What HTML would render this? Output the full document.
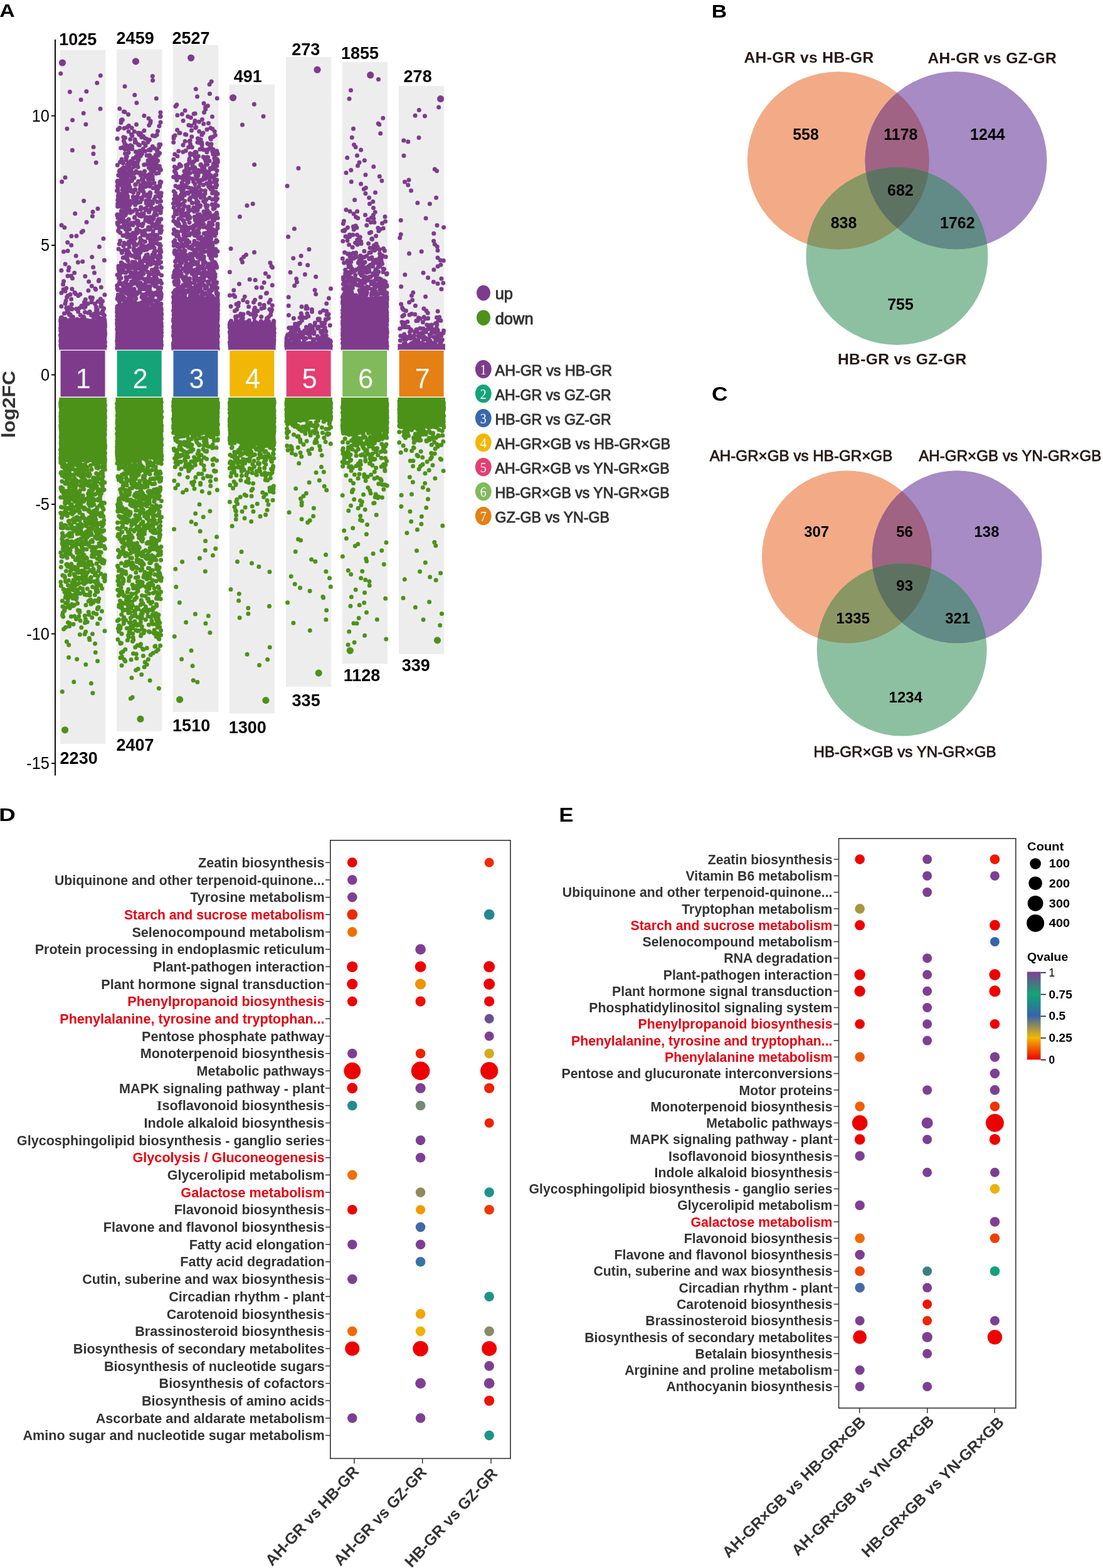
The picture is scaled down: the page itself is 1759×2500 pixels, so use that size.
<!DOCTYPE html>
<html><head><meta charset="utf-8"><title>figure</title>
<style>
html,body{margin:0;padding:0;background:#fff;}
svg{display:block;}
text{font-family:"Liberation Sans", Arial, sans-serif;}
</style></head><body>
<svg width="1759" height="2500" viewBox="0 0 1759 2500">
<rect width="1759" height="2500" fill="#fff"/>
<rect x="95.9" y="79.8" width="72.3" height="1106.2" fill="#EDEDED"/>
<rect x="186.0" y="78.5" width="72.3" height="1087.1" fill="#EDEDED"/>
<rect x="275.8" y="71.8" width="72.3" height="1063.4" fill="#EDEDED"/>
<rect x="365.7" y="134.6" width="72.3" height="1002.9" fill="#EDEDED"/>
<rect x="456.0" y="90.9" width="72.3" height="1004.1" fill="#EDEDED"/>
<rect x="545.6" y="98.9" width="72.3" height="959.5" fill="#EDEDED"/>
<rect x="636.0" y="136.9" width="72.3" height="905.9" fill="#EDEDED"/>
<rect x="94.3" y="508.3" width="75.5" height="50.2" fill="#7E3B8C"/>
<rect x="184.4" y="488.3" width="75.5" height="70.2" fill="#7E3B8C"/>
<rect x="274.2" y="473.3" width="75.5" height="85.2" fill="#7E3B8C"/>
<rect x="364.1" y="513.3" width="75.5" height="45.2" fill="#7E3B8C"/>
<rect x="454.4" y="544.3" width="75.5" height="14.2" fill="#7E3B8C"/>
<rect x="544.0" y="473.3" width="75.5" height="85.2" fill="#7E3B8C"/>
<rect x="634.4" y="548.3" width="75.5" height="10.2" fill="#7E3B8C"/>
<rect x="94.3" y="633.8" width="75.5" height="103.1" fill="#4C9219"/>
<rect x="184.4" y="633.8" width="75.5" height="98.1" fill="#4C9219"/>
<rect x="274.2" y="633.8" width="75.5" height="58.1" fill="#4C9219"/>
<rect x="364.1" y="633.8" width="75.5" height="71.1" fill="#4C9219"/>
<rect x="454.4" y="633.8" width="75.5" height="35.1" fill="#4C9219"/>
<rect x="544.0" y="633.8" width="75.5" height="55.1" fill="#4C9219"/>
<rect x="634.4" y="633.8" width="75.5" height="47.1" fill="#4C9219"/>
<path d="M96.9 548.8h0M166.8 552.7h0M97.1 538.0h0M167.5 530.9h0M96.5 534.6h0M167.5 551.8h0M97.0 515.0h0M167.5 545.1h0M97.3 508.9h0M166.9 536.5h0M97.7 554.0h0M166.6 541.8h0M96.7 550.4h0M167.2 515.5h0M96.7 527.2h0M166.8 537.7h0M97.2 553.2h0M167.5 546.0h0M97.3 534.9h0M167.2 527.0h0M97.0 541.3h0M166.6 521.4h0M96.8 527.6h0M167.0 512.5h0M97.4 541.9h0M166.4 550.4h0M97.0 518.4h0M167.4 531.9h0M96.5 522.9h0M166.7 527.6h0M97.6 540.6h0M166.8 526.6h0M97.2 533.5h0M166.6 509.1h0M97.1 523.1h0M167.5 521.2h0M97.3 506.6h0M166.6 542.1h0M97.0 522.9h0M167.6 533.2h0M96.7 550.4h0M167.5 517.9h0M96.7 543.9h0M167.1 512.7h0M96.6 533.8h0M166.9 512.1h0M97.5 513.1h0M167.3 535.5h0M96.9 512.1h0M166.5 548.8h0M109.0 510.9h0M113.1 509.4h0M138.4 510.7h0M96.8 509.8h0M122.8 508.9h0M164.3 508.2h0M133.2 508.6h0M144.6 512.0h0M160.5 507.6h0M158.7 507.5h0M124.4 509.9h0M103.9 508.5h0M100.9 511.9h0M111.3 511.3h0M120.7 512.0h0M96.5 511.4h0M103.7 510.1h0M98.3 507.1h0M140.2 511.4h0M114.4 510.2h0M122.4 511.6h0M156.9 506.3h0M129.6 509.4h0M102.6 511.7h0M120.9 510.7h0M155.4 511.3h0M98.1 506.6h0M134.1 511.4h0M135.1 512.1h0M134.0 506.4h0M157.9 508.1h0M115.1 510.1h0M151.4 504.2h0M151.9 505.0h0M112.4 503.1h0M166.5 502.9h0M153.8 503.0h0M149.1 505.4h0M133.3 504.9h0M98.6 506.2h0M116.4 505.3h0M145.7 502.5h0M128.3 502.6h0M164.4 500.8h0M112.2 501.4h0M110.5 501.5h0M140.9 498.7h0M156.3 500.4h0M142.9 499.1h0M102.5 499.7h0M161.2 499.2h0M149.8 500.4h0M109.2 499.1h0M153.4 494.4h0M124.6 496.7h0M163.8 495.4h0M108.6 497.8h0M107.2 494.7h0M153.8 497.7h0M155.3 494.4h0M143.2 496.9h0M135.5 497.8h0M165.5 491.7h0M133.9 490.6h0M127.3 490.8h0M155.2 493.5h0M114.4 493.1h0M113.6 492.0h0M114.9 492.6h0M105.8 490.7h0M121.7 492.5h0M160.8 488.6h0M161.7 488.3h0M134.3 488.2h0M97.8 488.5h0M109.5 490.3h0M153.3 489.6h0M130.2 487.4h0M136.1 489.0h0M136.0 483.2h0M104.0 484.1h0M114.2 485.2h0M151.4 484.3h0M136.4 483.3h0M161.4 484.5h0M140.1 484.3h0M145.8 481.8h0M134.4 481.8h0M146.2 477.8h0M163.5 480.3h0M136.3 477.5h0M156.2 480.8h0M105.1 479.5h0M113.6 477.0h0M144.1 474.2h0M160.3 476.7h0M147.4 474.7h0M106.7 473.8h0M112.1 469.5h0M124.8 471.4h0M166.9 470.0h0M108.0 471.6h0M120.6 468.5h0M119.1 466.4h0M97.9 467.1h0M127.8 469.2h0M140.9 463.3h0M101.1 461.4h0M152.6 461.4h0M103.9 464.2h0M151.9 460.2h0M105.7 459.6h0M161.3 458.0h0M114.9 460.7h0M146.3 455.9h0M100.6 453.5h0M101.6 448.5h0M141.6 449.1h0M157.4 448.0h0M157.8 446.5h0M135.8 440.6h0M115.5 443.8h0M113.5 439.9h0M108.0 440.1h0M118.7 435.1h0M150.5 435.1h0M109.1 430.9h0M97.8 431.3h0M148.6 426.1h0M110.0 426.4h0M104.1 421.0h0M131.7 417.0h0M124.4 418.3h0M166.4 414.9h0M146.7 409.8h0M121.2 408.1h0M101.5 401.3h0M108.1 400.0h0M158.4 393.6h0M113.7 391.1h0M107.7 386.5h0M164.9 380.4h0M113.9 376.4h0M121.9 376.3h0M130.2 370.3h0M132.4 368.3h0M102.9 362.7h0M98.1 359.1h0M138.1 354.2h0M147.4 344.8h0M119.7 340.4h0M148.0 337.7h0M155.9 332.7h0M133.7 320.3h0M98.7 289.8h0M104.0 283.0h0M153.2 259.3h0M148.9 245.3h0M115.4 239.4h0M149.1 234.4h0M107.0 205.3h0M136.9 198.3h0M115.6 191.6h0M133.2 180.4h0M160.0 173.5h0M129.1 159.0h0M111.4 146.5h0M137.8 145.7h0M154.8 132.3h0M160.3 120.4h0M96.8 117.3h0M187.6 496.4h0M256.8 526.5h0M186.9 510.0h0M257.1 526.8h0M187.0 525.6h0M256.9 498.5h0M187.7 544.8h0M257.3 525.3h0M187.3 531.9h0M257.5 550.3h0M187.0 524.1h0M256.5 492.7h0M187.6 488.1h0M256.5 512.9h0M187.6 552.1h0M256.9 513.7h0M187.0 516.3h0M256.6 522.6h0M187.4 535.3h0M257.3 494.3h0M186.6 543.1h0M256.9 525.0h0M186.7 510.1h0M257.3 515.6h0M187.1 519.2h0M257.0 528.6h0M186.7 543.7h0M256.6 517.9h0M186.7 495.9h0M257.4 549.7h0M187.2 538.7h0M257.1 517.5h0M186.9 516.2h0M257.6 520.4h0M187.3 550.7h0M257.2 551.2h0M187.1 495.9h0M257.0 506.3h0M187.5 548.3h0M256.5 505.8h0M186.7 498.2h0M257.2 544.3h0M187.8 516.9h0M256.8 546.7h0M187.5 552.3h0M257.4 530.2h0M186.6 514.7h0M257.4 535.3h0M187.4 526.5h0M256.6 512.8h0M187.6 516.9h0M256.6 495.3h0M186.8 504.1h0M257.3 502.8h0M187.4 498.5h0M257.6 530.2h0M187.5 489.9h0M256.8 553.3h0M187.3 549.3h0M257.0 500.1h0M186.7 491.5h0M256.9 538.5h0M186.8 525.0h0M256.7 515.6h0M186.7 554.8h0M257.6 500.3h0M186.8 517.5h0M257.4 508.2h0M187.1 546.2h0M256.6 518.6h0M235.6 487.5h0M254.1 492.2h0M210.9 491.4h0M222.3 487.1h0M243.5 492.1h0M199.6 487.4h0M234.9 489.9h0M220.4 491.4h0M246.7 489.9h0M248.7 488.6h0M192.0 490.3h0M202.0 486.9h0M228.5 492.0h0M198.7 490.1h0M219.9 488.8h0M214.2 490.2h0M187.0 488.8h0M210.3 492.2h0M219.3 486.4h0M189.8 491.4h0M234.3 490.7h0M206.0 489.3h0M205.2 488.9h0M224.2 486.6h0M257.1 492.1h0M226.5 487.7h0M248.6 487.7h0M231.6 488.5h0M212.4 490.6h0M243.1 487.1h0M253.3 488.2h0M208.2 487.7h0M222.8 483.8h0M211.5 484.1h0M215.5 486.1h0M210.6 485.0h0M256.9 484.4h0M212.7 485.3h0M203.3 484.9h0M196.2 486.3h0M248.5 484.5h0M218.3 484.0h0M208.1 485.6h0M191.3 485.1h0M208.5 483.4h0M225.8 482.6h0M210.8 482.6h0M228.1 486.0h0M199.3 484.0h0M256.8 484.9h0M241.7 484.6h0M248.3 486.0h0M250.5 481.2h0M204.9 482.2h0M198.3 481.2h0M236.7 481.4h0M215.0 481.5h0M229.5 478.8h0M232.7 481.5h0M238.8 478.4h0M229.3 482.0h0M244.2 478.8h0M210.9 481.8h0M200.0 480.2h0M248.8 479.7h0M252.2 481.5h0M209.8 479.3h0M232.7 480.7h0M234.9 480.9h0M190.7 480.6h0M189.8 479.8h0M210.4 480.3h0M204.9 476.4h0M187.6 474.6h0M226.7 474.3h0M190.6 475.8h0M238.1 477.0h0M193.2 477.7h0M196.7 475.2h0M193.0 475.0h0M216.7 476.1h0M228.4 476.1h0M233.3 475.9h0M210.1 475.3h0M204.9 475.5h0M240.9 475.2h0M208.6 475.2h0M256.1 476.5h0M206.4 476.2h0M253.5 477.8h0M187.2 476.4h0M233.2 475.2h0M257.0 473.4h0M240.4 473.9h0M188.6 473.8h0M190.9 472.3h0M226.1 473.6h0M253.4 472.8h0M197.2 473.6h0M239.1 470.6h0M198.1 474.2h0M241.9 473.3h0M256.4 472.3h0M231.8 472.9h0M243.5 472.5h0M209.6 470.7h0M194.3 471.4h0M191.3 471.7h0M215.2 470.8h0M190.9 472.0h0M215.7 470.6h0M253.8 471.8h0M204.5 469.3h0M217.4 469.4h0M201.0 467.3h0M232.3 469.1h0M257.3 469.4h0M227.1 469.7h0M248.0 466.8h0M205.6 467.3h0M245.1 469.2h0M210.2 468.4h0M249.9 469.7h0M235.1 467.9h0M218.8 468.0h0M249.4 469.5h0M249.4 468.9h0M242.0 466.8h0M199.6 466.8h0M257.3 469.1h0M188.3 469.9h0M255.9 470.3h0M197.3 463.4h0M193.5 465.6h0M235.1 465.9h0M210.7 462.6h0M237.5 462.8h0M256.3 466.2h0M203.3 463.1h0M235.6 466.1h0M222.5 465.4h0M217.2 465.9h0M188.0 462.3h0M209.1 462.8h0M195.2 464.4h0M196.3 464.6h0M199.3 463.6h0M197.1 463.3h0M222.2 465.9h0M211.7 464.3h0M251.9 464.9h0M255.4 458.8h0M238.6 461.2h0M199.2 461.2h0M191.5 462.1h0M222.8 460.7h0M226.2 460.8h0M187.4 459.5h0M233.0 460.1h0M225.6 459.5h0M256.4 458.8h0M237.6 460.7h0M209.2 460.6h0M255.8 460.8h0M214.0 460.7h0M196.8 458.3h0M187.0 459.9h0M252.5 461.3h0M230.0 460.8h0M203.7 461.5h0M246.5 455.2h0M251.2 458.1h0M236.0 457.0h0M232.5 456.1h0M209.0 454.4h0M186.7 455.3h0M247.3 456.3h0M228.7 454.3h0M203.3 455.8h0M239.4 456.8h0M237.2 456.7h0M224.0 455.8h0M234.7 457.0h0M231.3 456.1h0M202.5 455.8h0M205.4 454.7h0M220.2 455.4h0M223.7 456.4h0M202.3 457.7h0M224.2 452.2h0M224.1 451.0h0M203.6 453.6h0M245.0 452.5h0M232.1 451.0h0M250.2 450.8h0M189.7 452.8h0M245.8 451.0h0M195.3 453.7h0M204.5 453.9h0M212.0 451.1h0M223.7 452.5h0M192.9 452.7h0M257.5 451.5h0M218.5 452.4h0M243.4 451.3h0M197.3 451.6h0M212.7 452.2h0M213.0 448.9h0M213.7 450.2h0M200.9 448.0h0M190.7 449.6h0M237.7 449.2h0M209.6 449.3h0M245.9 449.9h0M231.8 446.9h0M200.9 448.6h0M242.9 447.8h0M213.0 450.1h0M218.1 448.8h0M237.3 449.1h0M215.6 447.7h0M244.2 448.9h0M214.0 448.0h0M252.4 449.5h0M255.7 447.5h0M233.9 445.0h0M191.6 443.3h0M213.6 444.2h0M221.9 442.7h0M240.4 446.2h0M228.7 444.4h0M219.5 442.9h0M216.1 444.4h0M249.9 444.5h0M221.5 444.3h0M245.2 443.6h0M239.2 444.7h0M189.5 443.6h0M226.0 443.2h0M241.3 445.8h0M202.3 446.0h0M244.7 445.9h0M192.9 443.3h0M190.5 439.6h0M237.2 440.4h0M190.5 439.5h0M216.3 440.0h0M257.6 439.0h0M248.6 441.7h0M210.4 440.2h0M187.0 438.3h0M206.1 441.3h0M208.9 441.3h0M247.7 440.1h0M222.9 440.6h0M190.2 441.1h0M248.2 439.1h0M247.5 441.3h0M201.0 442.1h0M224.8 440.8h0M219.6 440.3h0M212.6 435.1h0M200.8 434.6h0M226.1 438.1h0M208.9 436.2h0M215.7 436.0h0M209.6 437.2h0M243.2 437.1h0M237.1 435.1h0M228.7 436.5h0M253.1 436.5h0M249.0 438.1h0M217.4 435.7h0M190.1 434.8h0M191.7 435.9h0M199.4 434.6h0M226.5 435.1h0M222.0 435.6h0M207.6 433.5h0M246.2 433.7h0M251.9 433.5h0M193.8 433.9h0M242.4 430.5h0M216.1 431.7h0M204.9 430.7h0M235.4 433.7h0M190.6 431.5h0M189.6 431.0h0M207.5 433.4h0M228.0 433.0h0M226.5 433.7h0M251.4 433.0h0M246.4 433.7h0M243.4 430.4h0M214.4 434.2h0M232.2 429.4h0M225.4 429.9h0M219.6 427.4h0M217.2 427.6h0M194.7 427.0h0M195.3 426.6h0M257.4 426.5h0M224.0 429.1h0M211.3 427.3h0M221.9 426.6h0M193.2 428.4h0M248.0 427.9h0M225.0 429.9h0M196.5 429.2h0M250.1 426.9h0M202.8 426.6h0M188.9 427.9h0M211.1 422.5h0M233.3 426.1h0M210.3 424.5h0M204.2 423.3h0M199.3 423.1h0M207.8 426.0h0M226.4 425.9h0M225.8 423.1h0M228.9 424.5h0M189.0 424.2h0M193.5 423.7h0M196.0 424.0h0M211.7 424.8h0M233.7 425.6h0M198.7 422.5h0M210.2 422.9h0M220.7 421.7h0M193.3 418.8h0M194.9 420.3h0M224.7 421.8h0M219.9 421.6h0M224.7 420.3h0M212.7 421.5h0M215.3 421.5h0M195.6 421.3h0M248.6 420.3h0M249.9 422.2h0M253.7 420.3h0M242.8 420.0h0M235.6 421.4h0M239.9 421.7h0M205.4 422.2h0M223.4 417.1h0M249.9 418.0h0M227.7 417.4h0M228.9 415.2h0M237.1 418.1h0M204.1 415.9h0M256.5 418.1h0M230.6 415.5h0M244.5 416.9h0M244.2 416.5h0M252.1 418.3h0M253.5 416.7h0M215.5 417.9h0M204.0 415.4h0M234.9 417.7h0M211.1 417.7h0M202.2 413.0h0M256.0 410.3h0M242.9 412.4h0M222.0 411.2h0M251.2 411.3h0M231.8 413.5h0M231.0 410.9h0M242.5 413.9h0M237.6 412.9h0M198.1 410.4h0M234.4 411.3h0M196.2 411.0h0M253.2 410.7h0M239.6 411.0h0M243.6 411.9h0M217.6 411.0h0M248.5 409.1h0M254.9 408.2h0M253.9 409.8h0M255.5 407.2h0M204.5 406.9h0M203.1 409.5h0M219.2 409.4h0M221.6 406.7h0M235.3 407.5h0M214.5 407.2h0M243.0 407.6h0M253.6 407.0h0M215.5 410.0h0M233.0 407.0h0M210.7 407.9h0M243.0 406.3h0M221.4 406.2h0M194.5 403.1h0M216.4 403.9h0M219.1 405.0h0M201.8 404.9h0M246.6 403.8h0M207.4 405.9h0M205.9 403.5h0M218.0 403.7h0M244.0 405.8h0M235.2 406.1h0M245.1 405.6h0M254.7 400.9h0M202.5 398.7h0M230.0 398.7h0M214.6 400.3h0M254.6 400.3h0M256.9 401.5h0M245.7 401.7h0M224.1 402.3h0M199.1 398.5h0M218.9 399.1h0M204.4 400.9h0M193.8 400.1h0M247.9 400.2h0M213.4 398.6h0M234.0 398.0h0M231.0 396.5h0M254.7 396.9h0M233.6 395.8h0M213.3 396.2h0M234.7 394.7h0M222.0 396.8h0M256.0 398.1h0M246.0 395.6h0M226.2 396.5h0M240.0 394.7h0M238.4 395.3h0M189.1 397.0h0M254.4 390.7h0M196.9 391.9h0M227.6 394.1h0M214.5 391.3h0M232.2 393.2h0M240.8 393.1h0M225.3 392.6h0M256.1 391.7h0M243.8 391.6h0M213.7 390.4h0M237.1 391.5h0M206.3 393.7h0M227.5 391.0h0M243.0 392.9h0M223.3 386.8h0M198.1 387.3h0M198.7 389.1h0M190.4 389.1h0M213.8 386.4h0M255.0 389.6h0M208.6 386.5h0M200.6 389.0h0M217.8 389.9h0M205.1 388.7h0M214.0 386.4h0M205.6 389.5h0M251.2 388.5h0M246.1 387.8h0M209.0 385.7h0M240.4 384.4h0M226.3 383.6h0M240.1 385.2h0M212.4 382.6h0M224.2 385.1h0M231.4 385.3h0M241.4 386.1h0M245.4 384.0h0M211.7 382.5h0M205.5 385.3h0M191.6 384.1h0M240.2 383.6h0M244.0 381.9h0M208.4 379.7h0M255.4 379.8h0M235.8 379.2h0M214.6 378.5h0M239.4 380.9h0M214.5 379.1h0M211.5 381.6h0M248.6 380.2h0M223.7 379.6h0M250.7 381.8h0M210.7 382.0h0M216.0 380.3h0M247.2 379.6h0M215.3 376.0h0M206.1 374.9h0M242.7 374.9h0M197.3 375.6h0M240.2 376.3h0M250.5 374.7h0M239.4 375.0h0M232.7 374.8h0M195.9 375.5h0M236.6 375.9h0M206.2 378.0h0M229.5 375.0h0M206.0 377.4h0M202.5 377.9h0M255.9 371.1h0M212.2 371.5h0M191.7 370.9h0M209.7 374.3h0M231.3 373.7h0M206.2 374.1h0M218.3 372.1h0M244.0 374.1h0M245.4 373.9h0M202.6 371.8h0M210.8 373.0h0M227.0 373.4h0M243.0 373.5h0M244.1 368.2h0M188.8 367.2h0M188.6 368.3h0M216.7 370.0h0M231.4 367.4h0M228.2 368.7h0M223.0 367.9h0M202.7 366.8h0M257.4 367.1h0M255.0 369.0h0M256.7 370.0h0M220.6 369.8h0M218.9 367.6h0M218.9 364.9h0M200.1 364.7h0M206.7 365.5h0M238.9 364.2h0M217.8 365.5h0M236.6 365.5h0M205.5 364.1h0M236.5 362.4h0M239.8 362.5h0M252.0 363.4h0M237.8 366.0h0M201.2 366.2h0M248.0 363.4h0M205.4 360.9h0M198.2 359.8h0M257.1 361.1h0M189.7 361.6h0M211.9 358.7h0M243.8 360.5h0M193.9 361.9h0M197.5 359.2h0M220.1 358.3h0M251.4 359.1h0M220.5 359.0h0M195.7 361.9h0M226.7 360.3h0M204.5 358.2h0M251.2 355.5h0M253.8 354.4h0M217.7 355.4h0M213.9 355.1h0M246.4 357.8h0M187.5 357.4h0M228.2 356.8h0M187.2 355.0h0M242.5 356.4h0M189.7 354.7h0M224.6 358.0h0M209.6 355.8h0M249.5 356.4h0M201.2 353.3h0M251.0 352.8h0M194.0 351.9h0M195.6 353.5h0M219.1 352.0h0M231.8 351.5h0M217.9 354.0h0M238.1 354.1h0M220.1 352.7h0M234.4 351.4h0M203.6 351.7h0M235.8 352.4h0M196.7 350.7h0M191.1 349.3h0M256.8 349.4h0M214.5 347.1h0M245.2 347.8h0M239.3 350.1h0M193.3 346.4h0M243.7 350.1h0M190.1 349.3h0M252.8 349.4h0M234.4 346.6h0M232.0 346.6h0M205.3 349.7h0M187.9 347.3h0M194.0 346.4h0M199.9 343.1h0M198.2 344.3h0M194.1 343.2h0M249.9 342.6h0M186.8 342.9h0M226.1 343.0h0M222.3 343.8h0M228.9 343.1h0M192.1 346.1h0M225.4 345.1h0M214.8 346.3h0M239.6 346.2h0M245.6 343.1h0M195.3 339.7h0M201.3 340.6h0M194.4 338.4h0M225.4 340.9h0M193.3 339.4h0M247.0 338.9h0M193.8 340.8h0M208.1 339.3h0M197.1 339.9h0M256.2 339.2h0M187.1 342.0h0M194.7 339.5h0M229.2 340.2h0M219.0 340.7h0M232.7 334.6h0M238.7 335.1h0M251.5 335.0h0M237.6 338.2h0M235.0 334.9h0M217.2 334.8h0M199.4 334.5h0M218.0 335.5h0M204.6 337.1h0M211.4 337.0h0M193.3 336.5h0M256.3 335.7h0M252.9 335.3h0M257.3 331.3h0M206.1 333.3h0M215.9 334.2h0M203.0 330.8h0M252.1 333.0h0M241.4 331.2h0M249.9 331.1h0M224.4 333.9h0M245.3 333.0h0M231.2 332.8h0M224.8 330.4h0M198.1 332.2h0M232.8 332.1h0M215.6 326.6h0M235.6 326.4h0M193.0 329.5h0M207.0 326.7h0M187.6 329.3h0M237.5 326.3h0M199.1 328.5h0M235.4 327.5h0M239.6 327.3h0M204.3 329.3h0M188.6 327.5h0M201.5 329.3h0M255.2 327.7h0M233.2 323.9h0M236.0 325.1h0M191.1 326.0h0M187.6 324.9h0M196.7 325.8h0M221.7 322.4h0M235.5 325.2h0M241.3 325.6h0M193.7 325.1h0M215.7 323.5h0M218.2 323.4h0M193.3 322.6h0M210.9 323.0h0M188.8 323.0h0M202.7 322.9h0M243.7 323.6h0M206.3 326.3h0M250.9 321.7h0M233.5 320.0h0M233.6 321.6h0M196.8 321.9h0M256.5 320.8h0M233.0 320.0h0M202.5 322.0h0M187.7 318.9h0M195.8 318.4h0M212.5 319.4h0M196.4 319.1h0M204.5 320.8h0M223.8 321.9h0M204.3 319.1h0M206.9 320.8h0M241.0 321.4h0M200.4 321.4h0M212.6 315.7h0M220.1 314.8h0M190.2 315.6h0M246.1 317.4h0M188.7 316.5h0M194.8 316.5h0M237.2 317.9h0M195.0 316.4h0M199.0 317.4h0M217.9 317.8h0M191.4 316.9h0M220.0 314.6h0M226.0 318.0h0M202.4 315.3h0M226.6 314.8h0M255.0 314.9h0M194.4 314.5h0M203.6 313.6h0M248.1 313.5h0M192.5 313.2h0M252.3 312.5h0M238.6 314.0h0M218.8 313.0h0M201.2 311.6h0M212.3 313.8h0M256.6 312.4h0M199.4 314.3h0M233.0 312.2h0M188.3 312.4h0M239.2 312.2h0M203.2 312.3h0M229.6 311.7h0M196.9 311.1h0M239.2 306.9h0M212.7 306.7h0M199.5 309.4h0M229.1 306.7h0M192.4 309.4h0M189.2 308.5h0M196.6 309.5h0M239.8 308.0h0M253.4 308.7h0M234.9 310.2h0M254.0 309.4h0M220.5 308.3h0M254.0 308.3h0M257.1 307.8h0M202.0 307.0h0M201.0 306.3h0M202.7 302.5h0M209.5 304.7h0M211.0 303.6h0M188.2 304.8h0M198.1 303.0h0M186.6 303.9h0M204.9 304.5h0M226.5 303.5h0M196.4 305.3h0M195.2 302.5h0M197.2 305.8h0M223.7 304.0h0M249.6 306.1h0M203.3 305.6h0M228.2 304.5h0M215.7 302.7h0M247.8 298.5h0M205.7 298.5h0M215.6 302.1h0M251.6 301.9h0M187.8 301.1h0M207.1 298.4h0M248.5 300.6h0M224.2 298.9h0M244.0 299.7h0M223.1 301.8h0M203.9 299.7h0M228.3 299.1h0M250.5 298.5h0M200.3 302.0h0M250.4 300.0h0M199.5 299.5h0M203.4 296.8h0M223.8 295.6h0M191.8 295.3h0M231.0 296.4h0M234.4 295.1h0M187.3 296.4h0M234.8 295.5h0M232.6 297.6h0M254.7 295.2h0M203.2 296.6h0M254.7 297.5h0M215.7 294.5h0M250.6 297.4h0M238.9 296.9h0M233.8 295.2h0M195.7 297.4h0M205.5 294.2h0M196.3 292.7h0M216.5 294.0h0M228.0 290.5h0M227.6 292.9h0M236.7 292.6h0M199.1 292.4h0M187.9 291.6h0M198.0 292.8h0M255.0 291.2h0M246.0 291.7h0M231.7 291.5h0M255.3 293.5h0M241.1 293.1h0M204.8 291.0h0M229.3 290.9h0M228.5 289.5h0M187.7 288.2h0M238.2 289.2h0M191.6 290.3h0M198.9 287.5h0M186.9 289.4h0M205.5 287.5h0M256.8 290.2h0M194.7 286.6h0M255.6 289.7h0M210.4 288.2h0M209.4 288.6h0M220.6 289.3h0M190.5 290.0h0M198.2 289.9h0M236.1 285.2h0M242.9 283.4h0M210.9 284.3h0M200.0 282.6h0M226.4 286.1h0M197.5 283.5h0M214.0 283.4h0M202.9 283.1h0M243.6 285.9h0M228.3 285.5h0M236.9 283.1h0M242.9 285.4h0M193.2 283.6h0M226.8 285.7h0M200.3 284.0h0M231.7 281.3h0M205.0 280.6h0M224.5 279.4h0M188.8 279.4h0M202.3 281.1h0M232.1 279.5h0M230.3 278.7h0M201.1 281.1h0M233.7 281.3h0M197.8 281.4h0M241.4 279.0h0M237.5 278.5h0M243.1 281.1h0M209.0 279.4h0M190.6 279.9h0M192.9 282.1h0M197.4 274.6h0M249.0 276.5h0M200.7 277.8h0M222.6 276.2h0M212.4 275.4h0M224.2 275.2h0M194.2 278.0h0M214.1 276.4h0M204.6 275.6h0M202.4 277.0h0M220.5 275.5h0M241.4 276.8h0M218.4 274.6h0M253.0 275.8h0M194.1 276.5h0M206.4 274.2h0M256.4 270.7h0M195.8 272.4h0M230.6 273.1h0M191.5 271.3h0M241.4 272.6h0M192.7 272.7h0M193.3 270.4h0M190.2 273.1h0M241.2 273.8h0M194.2 274.0h0M198.3 272.2h0M245.8 273.6h0M198.9 271.2h0M216.9 272.9h0M203.9 266.4h0M194.9 269.3h0M239.3 266.7h0M250.9 268.4h0M254.6 267.9h0M207.1 268.4h0M237.5 267.4h0M195.8 269.5h0M254.7 269.9h0M244.4 268.9h0M204.2 269.3h0M220.0 266.3h0M197.2 266.9h0M209.4 269.6h0M239.6 268.9h0M216.3 263.0h0M248.0 264.0h0M187.3 263.2h0M229.7 262.7h0M254.3 265.0h0M246.9 263.0h0M205.5 264.8h0M213.2 264.9h0M213.5 265.9h0M202.7 262.7h0M215.8 263.8h0M249.7 263.3h0M204.0 262.6h0M243.8 262.3h0M238.4 263.3h0M204.6 259.7h0M213.7 258.9h0M196.1 260.1h0M210.5 259.0h0M211.1 258.9h0M246.9 258.8h0M196.5 258.5h0M239.5 259.6h0M233.0 262.1h0M248.5 260.1h0M219.0 260.9h0M242.3 259.2h0M248.4 261.4h0M210.8 261.3h0M209.9 258.2h0M243.2 257.8h0M191.6 258.2h0M239.3 257.9h0M219.5 257.5h0M243.7 256.4h0M208.6 257.0h0M250.2 257.4h0M238.8 255.1h0M248.7 254.0h0M194.1 254.0h0M245.6 254.2h0M221.0 254.6h0M249.2 253.6h0M201.4 254.9h0M212.4 252.5h0M236.1 255.8h0M251.6 256.2h0M217.3 249.4h0M217.1 251.9h0M223.8 249.0h0M242.7 250.9h0M202.4 249.3h0M243.6 251.4h0M249.4 248.3h0M217.4 250.8h0M237.1 248.6h0M200.9 251.1h0M238.7 247.6h0M225.5 246.3h0M234.1 247.7h0M254.6 244.3h0M226.5 245.1h0M199.6 244.7h0M225.8 245.3h0M248.3 246.9h0M252.3 247.5h0M222.3 240.7h0M250.6 240.5h0M222.9 240.6h0M226.4 243.7h0M231.5 241.1h0M216.7 241.9h0M205.0 243.2h0M216.5 242.2h0M219.9 243.9h0M210.8 237.4h0M239.8 239.4h0M204.8 238.2h0M199.1 237.9h0M250.9 239.5h0M228.2 237.4h0M239.9 237.5h0M237.1 239.2h0M246.2 236.6h0M253.7 234.5h0M192.7 236.0h0M243.3 233.6h0M196.7 234.5h0M232.0 232.3h0M210.5 233.2h0M204.0 235.5h0M198.1 234.7h0M208.2 231.7h0M202.1 232.0h0M200.3 231.0h0M222.5 231.6h0M220.7 230.5h0M255.8 230.4h0M253.8 230.4h0M228.7 227.7h0M198.6 228.0h0M236.5 224.4h0M215.3 226.9h0M216.8 226.9h0M235.7 226.7h0M197.4 224.8h0M187.1 220.9h0M238.4 222.9h0M231.4 220.6h0M215.2 222.6h0M207.8 222.1h0M233.7 221.4h0M196.9 218.8h0M247.1 217.1h0M228.6 217.6h0M210.8 216.5h0M225.7 218.7h0M199.6 219.8h0M243.5 216.2h0M209.6 214.4h0M221.8 214.8h0M250.2 214.9h0M224.4 212.6h0M220.5 212.0h0M229.9 208.2h0M205.1 209.8h0M214.2 209.8h0M251.5 209.1h0M210.2 204.0h0M198.0 204.5h0M188.1 206.5h0M190.8 204.1h0M202.8 203.1h0M205.4 200.4h0M237.8 199.7h0M253.9 201.1h0M193.0 195.6h0M217.5 198.5h0M239.8 195.9h0M193.2 191.8h0M240.2 192.9h0M256.0 195.1h0M195.4 191.2h0M237.0 188.8h0M194.6 190.7h0M229.9 184.6h0M255.5 185.9h0M256.2 185.6h0M204.6 182.4h0M255.9 179.3h0M199.0 178.6h0M197.4 177.9h0M190.8 173.2h0M217.9 164.1h0M249.3 156.9h0M214.8 151.5h0M199.0 137.8h0M243.6 128.2h0M243.3 121.6h0M276.4 550.2h0M347.5 519.6h0M276.4 511.6h0M346.7 539.1h0M277.4 521.1h0M346.3 525.9h0M277.1 510.2h0M347.2 490.0h0M276.4 535.1h0M347.1 481.3h0M277.0 553.2h0M347.1 504.5h0M277.4 547.0h0M346.6 523.1h0M277.0 520.5h0M347.0 472.1h0M277.5 478.3h0M346.6 496.8h0M276.6 553.3h0M346.5 499.1h0M277.2 529.7h0M347.2 478.0h0M277.0 554.6h0M347.1 526.6h0M276.5 473.2h0M346.4 487.0h0M276.4 520.8h0M347.4 494.6h0M277.4 489.2h0M346.5 546.0h0M276.4 548.4h0M346.5 485.8h0M277.0 536.4h0M346.5 546.1h0M276.8 556.1h0M346.3 521.0h0M277.3 488.2h0M346.8 472.4h0M277.3 477.5h0M346.3 549.3h0M277.3 537.1h0M347.1 527.3h0M277.6 551.2h0M347.0 545.4h0M277.6 514.1h0M346.7 512.1h0M277.3 527.7h0M347.0 493.0h0M277.2 480.8h0M347.1 484.2h0M277.3 507.6h0M347.0 508.1h0M276.5 548.0h0M347.1 545.8h0M276.5 495.4h0M346.6 504.0h0M276.6 494.9h0M346.5 503.7h0M276.7 508.3h0M347.0 533.4h0M276.6 482.8h0M346.7 477.0h0M276.6 533.8h0M346.9 551.3h0M276.8 510.4h0M346.9 479.0h0M277.1 502.1h0M346.8 489.5h0M276.8 556.2h0M346.3 488.9h0M276.6 546.8h0M347.2 500.4h0M276.6 554.6h0M346.9 555.8h0M276.7 523.8h0M347.3 556.1h0M276.7 535.6h0M347.1 521.1h0M276.8 528.8h0M347.5 485.1h0M277.3 514.4h0M347.5 536.5h0M277.5 517.4h0M347.3 486.6h0M339.8 476.6h0M312.0 473.9h0M284.7 475.4h0M320.4 473.3h0M321.1 473.6h0M303.3 476.9h0M277.5 472.3h0M337.9 471.9h0M281.8 472.7h0M288.6 475.2h0M290.6 472.1h0M334.6 472.3h0M303.5 471.7h0M294.9 473.9h0M324.3 475.9h0M303.5 476.7h0M333.0 476.2h0M286.1 475.6h0M321.9 473.5h0M313.7 472.2h0M329.9 476.0h0M314.4 476.3h0M293.6 476.4h0M281.9 475.2h0M339.4 473.4h0M282.6 476.0h0M318.5 474.1h0M278.3 476.7h0M316.6 473.7h0M282.1 472.7h0M293.5 473.8h0M314.1 475.3h0M304.5 469.6h0M314.8 467.9h0M346.6 468.2h0M314.7 468.4h0M321.8 467.5h0M345.4 468.3h0M291.8 469.0h0M307.7 470.4h0M332.0 470.4h0M326.9 469.3h0M306.8 468.5h0M327.9 467.3h0M347.4 468.1h0M295.2 468.6h0M311.6 467.5h0M308.2 469.9h0M278.2 469.4h0M314.3 470.1h0M283.9 469.4h0M281.4 470.6h0M301.2 465.3h0M314.1 465.7h0M285.9 467.2h0M316.2 463.4h0M296.4 465.9h0M299.1 464.3h0M311.5 464.1h0M276.8 466.8h0M291.1 465.8h0M304.8 465.8h0M345.1 465.5h0M317.3 463.4h0M322.0 464.9h0M335.3 466.0h0M279.0 463.5h0M314.4 465.0h0M281.1 464.3h0M303.0 464.7h0M296.6 463.6h0M302.6 466.2h0M292.2 462.2h0M311.0 459.4h0M284.6 462.5h0M333.0 463.0h0M305.9 460.2h0M327.1 460.1h0M284.7 459.7h0M301.8 460.0h0M309.9 459.7h0M310.4 462.3h0M287.1 461.3h0M279.9 462.6h0M338.6 461.0h0M337.8 462.7h0M310.5 461.4h0M284.1 462.2h0M341.9 460.4h0M312.6 460.9h0M337.6 459.5h0M318.7 463.1h0M288.1 458.3h0M286.1 457.3h0M317.8 457.5h0M309.8 458.7h0M327.5 457.1h0M298.4 456.0h0M343.2 455.6h0M346.4 459.0h0M304.0 457.5h0M294.6 456.3h0M340.7 458.7h0M312.4 455.4h0M339.6 457.5h0M283.8 457.5h0M313.2 456.2h0M289.6 458.2h0M346.4 459.3h0M319.8 458.9h0M329.8 457.6h0M342.2 458.4h0M292.6 455.1h0M282.5 455.0h0M304.0 451.4h0M301.6 452.4h0M278.8 453.2h0M314.8 454.9h0M317.6 453.5h0M299.7 452.0h0M325.6 454.8h0M283.9 455.1h0M295.1 452.8h0M345.3 451.4h0M337.9 454.8h0M332.7 452.3h0M310.0 451.3h0M319.0 454.8h0M291.8 454.8h0M319.8 452.8h0M337.4 455.3h0M345.6 450.3h0M295.2 447.8h0M284.3 448.1h0M340.2 449.1h0M319.7 451.3h0M319.5 448.8h0M331.2 449.2h0M284.5 450.4h0M322.8 451.0h0M284.0 450.3h0M333.0 449.1h0M301.8 447.4h0M317.7 450.3h0M316.6 447.9h0M302.6 449.6h0M317.5 447.4h0M321.8 450.6h0M317.8 450.0h0M310.1 448.4h0M277.8 449.3h0M319.0 444.0h0M309.6 444.8h0M296.9 446.3h0M312.7 445.2h0M292.3 444.2h0M311.9 445.9h0M294.4 444.0h0M340.5 443.5h0M294.0 447.0h0M321.3 447.2h0M337.3 444.6h0M300.4 445.5h0M325.0 446.7h0M302.4 444.2h0M324.8 445.0h0M283.7 446.4h0M294.6 447.2h0M321.9 445.0h0M342.1 445.1h0M309.7 441.2h0M296.4 441.4h0M343.0 441.3h0M276.6 441.9h0M290.5 440.8h0M312.6 441.4h0M342.3 440.3h0M282.6 443.2h0M326.2 440.9h0M322.8 441.3h0M278.9 441.5h0M335.8 440.9h0M279.5 442.8h0M340.7 441.1h0M288.1 440.5h0M342.1 439.8h0M322.3 440.1h0M282.6 441.4h0M334.0 441.9h0M337.9 436.5h0M276.9 439.0h0M316.0 435.5h0M320.3 435.8h0M283.9 437.0h0M289.3 438.0h0M287.0 437.4h0M279.7 436.7h0M322.4 435.7h0M331.0 439.0h0M338.2 437.1h0M343.0 437.3h0M282.2 436.5h0M288.7 435.4h0M314.7 435.7h0M311.4 438.0h0M323.5 436.5h0M309.1 438.2h0M306.3 436.4h0M287.6 433.4h0M323.2 435.0h0M295.7 431.4h0M295.4 432.2h0M298.1 435.0h0M311.0 431.8h0M331.7 435.1h0M326.4 432.8h0M310.7 432.6h0M313.5 434.6h0M325.8 434.8h0M298.4 431.9h0M316.8 433.3h0M326.9 433.3h0M303.7 433.1h0M278.0 433.9h0M279.2 431.3h0M341.0 432.7h0M287.6 431.9h0M333.6 428.7h0M319.4 428.3h0M295.4 428.0h0M315.0 428.3h0M336.1 430.3h0M305.6 429.9h0M281.9 427.8h0M325.1 429.3h0M315.2 427.8h0M281.4 429.9h0M325.2 429.2h0M311.8 430.3h0M292.3 428.6h0M300.6 427.6h0M340.5 427.4h0M296.1 429.2h0M283.8 429.9h0M281.7 429.3h0M330.6 425.8h0M296.0 423.6h0M280.1 423.9h0M337.3 427.0h0M344.0 424.7h0M304.1 425.6h0M319.7 425.2h0M338.1 423.7h0M299.6 427.3h0M331.8 424.7h0M323.0 427.0h0M281.8 423.7h0M302.3 425.4h0M345.6 426.5h0M321.6 427.1h0M316.3 424.3h0M287.6 424.3h0M345.3 424.0h0M343.8 420.4h0M315.3 420.0h0M333.7 420.8h0M324.0 422.6h0M300.5 422.0h0M337.5 420.2h0M297.1 419.3h0M280.6 423.1h0M299.7 423.0h0M343.9 421.9h0M304.0 419.9h0M314.3 420.8h0M307.7 421.5h0M344.5 422.2h0M313.8 421.4h0M286.4 422.7h0M312.4 420.1h0M280.6 415.6h0M286.2 415.8h0M279.6 416.7h0M286.8 418.3h0M306.4 416.3h0M307.3 417.6h0M305.0 417.2h0M296.4 415.5h0M289.9 418.8h0M315.4 417.9h0M327.7 419.1h0M324.5 417.8h0M342.3 418.1h0M307.2 418.0h0M314.3 418.2h0M324.0 417.7h0M326.7 418.1h0M308.9 417.1h0M322.8 413.6h0M282.5 414.9h0M286.8 414.6h0M289.4 412.7h0M300.6 411.7h0M293.0 414.3h0M289.4 414.7h0M324.9 413.0h0M294.3 412.1h0M324.4 413.6h0M319.6 412.7h0M307.7 414.9h0M302.3 411.5h0M303.0 412.7h0M282.7 412.2h0M337.8 413.8h0M302.9 413.2h0M291.3 410.8h0M325.2 409.3h0M344.4 407.5h0M338.6 407.5h0M336.0 411.2h0M285.6 407.4h0M338.5 408.8h0M320.5 409.6h0M306.6 410.7h0M315.4 410.2h0M285.1 407.8h0M317.3 407.8h0M297.3 409.0h0M296.1 408.0h0M291.3 408.7h0M315.9 410.0h0M282.1 409.4h0M334.6 406.5h0M289.6 406.1h0M333.5 406.4h0M321.5 407.2h0M282.2 404.5h0M311.7 406.8h0M310.0 403.5h0M304.2 405.1h0M306.3 405.3h0M279.5 403.8h0M317.6 405.9h0M296.6 406.6h0M342.8 403.9h0M303.3 404.9h0M315.7 406.5h0M278.8 404.4h0M288.0 405.0h0M278.0 402.6h0M322.9 400.8h0M346.9 400.7h0M313.5 403.2h0M344.5 401.3h0M337.4 403.1h0M335.8 401.4h0M291.8 401.7h0M281.7 401.0h0M292.0 400.5h0M288.7 400.5h0M320.3 400.5h0M344.0 402.1h0M325.0 401.7h0M340.0 400.0h0M330.7 400.9h0M295.0 399.7h0M343.9 397.9h0M334.8 396.6h0M336.1 396.1h0M308.7 397.7h0M333.0 396.7h0M314.8 395.8h0M278.7 399.2h0M309.4 398.9h0M336.3 398.9h0M339.1 398.4h0M285.9 396.3h0M324.6 397.7h0M318.8 397.1h0M343.8 397.3h0M314.8 397.5h0M305.7 396.5h0M325.6 391.6h0M330.5 393.1h0M301.5 394.9h0M283.0 393.1h0M339.0 391.8h0M289.4 392.3h0M333.8 393.4h0M337.4 394.6h0M300.3 393.2h0M328.1 393.5h0M297.9 391.8h0M304.3 393.6h0M292.3 393.4h0M326.6 393.9h0M323.5 393.3h0M277.2 391.5h0M315.2 387.5h0M291.1 391.0h0M291.0 390.7h0M336.9 389.2h0M279.4 390.2h0M312.7 390.6h0M298.2 387.7h0M308.0 390.4h0M318.9 390.8h0M313.4 388.7h0M282.7 389.1h0M298.4 388.3h0M320.2 387.7h0M319.6 390.6h0M289.6 388.5h0M334.0 391.0h0M296.5 386.8h0M338.4 386.7h0M329.3 386.5h0M296.1 386.7h0M310.1 384.2h0M323.8 385.6h0M336.0 385.7h0M298.7 382.9h0M346.4 384.8h0M344.1 386.2h0M344.3 385.5h0M278.9 383.3h0M287.9 383.3h0M276.9 385.8h0M301.8 386.0h0M309.9 384.9h0M328.9 384.3h0M345.0 382.9h0M288.6 382.6h0M316.6 380.2h0M288.5 381.0h0M292.0 381.5h0M320.1 381.0h0M331.0 380.0h0M335.2 382.0h0M336.6 380.3h0M321.3 381.3h0M325.9 380.7h0M327.7 380.0h0M286.4 381.1h0M329.9 382.2h0M321.3 380.1h0M327.2 381.0h0M310.3 375.3h0M281.6 376.3h0M294.9 375.9h0M294.8 377.5h0M292.9 374.7h0M302.2 374.8h0M328.7 377.2h0M315.8 378.3h0M342.7 375.8h0M284.4 376.2h0M311.6 375.6h0M297.0 374.7h0M320.7 378.0h0M334.6 374.8h0M298.0 375.5h0M339.1 374.0h0M335.9 373.3h0M333.4 371.6h0M309.5 370.7h0M333.5 370.3h0M344.6 372.0h0M328.7 371.6h0M304.9 372.3h0M312.5 373.4h0M295.0 370.9h0M336.6 371.5h0M325.4 372.3h0M317.2 371.6h0M276.9 372.5h0M291.0 368.4h0M281.9 369.3h0M335.0 370.2h0M333.2 367.1h0M338.1 369.3h0M342.6 368.8h0M308.4 366.5h0M315.1 367.6h0M284.2 370.3h0M295.2 369.9h0M335.0 369.3h0M344.5 367.6h0M290.0 367.5h0M299.0 368.2h0M335.6 363.2h0M317.7 363.5h0M300.6 365.8h0M299.5 363.3h0M316.4 365.8h0M293.5 364.4h0M277.4 366.1h0M308.4 365.8h0M339.6 365.8h0M329.7 363.1h0M298.8 364.1h0M346.9 363.8h0M303.9 362.4h0M294.9 362.5h0M298.4 364.6h0M322.8 358.8h0M325.4 361.6h0M346.8 359.4h0M312.4 358.9h0M284.0 359.9h0M332.3 359.2h0M324.2 362.0h0M310.4 361.2h0M319.6 360.7h0M308.8 360.1h0M318.2 358.7h0M296.5 361.2h0M289.5 361.8h0M336.8 358.6h0M302.0 354.7h0M337.8 354.4h0M347.0 357.1h0M281.1 357.3h0M312.1 358.2h0M294.4 356.4h0M324.9 357.7h0M285.2 357.0h0M282.9 357.8h0M283.7 355.1h0M338.9 358.1h0M333.6 354.9h0M322.7 357.1h0M334.7 358.0h0M279.7 354.5h0M341.5 351.3h0M279.7 353.9h0M322.4 353.7h0M323.8 351.6h0M292.9 352.4h0M291.5 350.8h0M321.2 351.5h0M320.6 354.1h0M339.4 351.2h0M313.0 351.9h0M311.4 351.3h0M314.3 353.2h0M313.1 353.4h0M276.8 352.2h0M327.5 349.5h0M312.5 348.0h0M317.6 348.5h0M312.6 347.5h0M339.1 348.2h0M332.2 347.6h0M284.9 349.3h0M298.7 348.9h0M311.3 349.1h0M347.3 347.4h0M302.8 347.5h0M342.1 349.7h0M321.1 346.5h0M303.1 346.8h0M299.2 345.7h0M333.7 344.6h0M301.3 344.4h0M328.2 342.7h0M341.6 343.2h0M288.9 344.8h0M276.9 345.5h0M300.6 345.6h0M310.3 345.8h0M322.8 344.7h0M294.0 343.6h0M299.7 346.2h0M336.0 343.3h0M338.8 345.1h0M325.9 341.7h0M345.1 339.7h0M315.4 342.1h0M296.5 340.6h0M346.1 341.7h0M318.5 342.0h0M345.5 339.3h0M334.2 339.3h0M289.2 341.3h0M279.2 340.1h0M282.2 341.5h0M288.8 338.6h0M332.5 341.2h0M345.4 341.7h0M303.5 335.1h0M283.4 335.1h0M315.1 335.1h0M300.3 338.1h0M283.4 335.4h0M312.4 335.2h0M290.5 337.2h0M291.4 334.9h0M326.4 337.7h0M328.0 338.1h0M309.6 337.3h0M330.8 335.4h0M325.0 337.5h0M279.4 335.7h0M277.1 330.9h0M340.2 332.9h0M313.3 331.7h0M342.2 331.7h0M313.1 331.2h0M311.2 334.2h0M315.3 332.6h0M300.2 332.7h0M292.1 333.1h0M329.5 330.8h0M308.9 330.9h0M285.3 332.2h0M329.3 331.2h0M288.3 326.5h0M319.7 327.7h0M301.0 329.8h0M317.0 328.7h0M339.7 327.6h0M330.1 328.0h0M329.9 329.8h0M347.2 328.0h0M318.9 329.5h0M282.9 327.5h0M328.0 327.6h0M294.5 328.4h0M331.0 327.7h0M341.1 329.9h0M277.3 323.8h0M314.4 326.0h0M306.2 323.6h0M338.1 326.0h0M312.6 323.1h0M284.7 322.7h0M343.2 324.9h0M291.3 325.7h0M292.0 324.6h0M326.7 322.6h0M316.1 322.5h0M306.7 323.7h0M276.4 324.6h0M285.8 319.1h0M284.5 321.1h0M313.8 320.2h0M278.6 321.9h0M324.5 320.7h0M283.0 320.4h0M302.9 318.3h0M279.8 321.6h0M281.7 320.1h0M344.7 319.2h0M284.4 320.1h0M301.9 318.4h0M326.7 319.9h0M294.6 320.6h0M303.3 316.0h0M282.8 316.6h0M346.6 316.7h0M312.4 315.3h0M334.2 315.4h0M303.5 315.5h0M290.6 315.8h0M277.5 317.5h0M288.8 316.9h0M328.9 318.2h0M338.7 317.9h0M344.0 314.5h0M320.1 314.9h0M308.2 310.9h0M278.9 311.2h0M322.5 311.2h0M287.0 314.0h0M313.6 311.9h0M325.3 313.6h0M316.8 310.4h0M294.4 311.0h0M344.7 311.6h0M307.7 312.6h0M309.6 313.8h0M281.7 313.2h0M288.7 310.7h0M338.6 308.0h0M340.2 306.7h0M327.0 308.5h0M293.7 308.0h0M298.6 307.0h0M279.4 307.8h0M300.5 308.6h0M315.0 306.4h0M347.0 308.9h0M344.5 306.5h0M313.8 308.0h0M290.4 307.1h0M310.9 307.3h0M320.7 303.5h0M315.4 305.8h0M309.0 306.1h0M289.2 302.4h0M303.4 305.8h0M307.3 306.1h0M319.6 305.4h0M291.9 303.8h0M342.2 306.2h0M327.2 304.0h0M311.0 304.6h0M277.2 304.9h0M313.6 305.0h0M300.6 298.9h0M334.0 299.1h0M311.4 300.3h0M336.4 301.8h0M292.4 302.2h0M311.3 300.5h0M344.4 298.6h0M305.3 300.3h0M283.9 299.3h0M313.3 301.6h0M338.7 302.1h0M290.1 300.4h0M286.3 297.2h0M332.6 297.0h0M342.5 298.2h0M293.3 297.1h0M336.7 297.9h0M324.3 294.8h0M345.7 295.1h0M280.0 296.4h0M291.9 297.8h0M293.7 295.4h0M317.3 297.8h0M296.7 298.0h0M330.0 292.4h0M344.7 290.4h0M291.1 293.3h0M290.0 291.8h0M318.7 292.2h0M331.4 292.2h0M298.8 291.6h0M343.9 294.1h0M311.0 293.7h0M329.5 292.6h0M336.0 291.6h0M344.6 292.0h0M345.7 287.1h0M300.4 289.9h0M341.9 290.0h0M342.0 286.6h0M323.4 286.5h0M319.6 287.3h0M318.8 289.4h0M282.0 287.3h0M308.5 289.8h0M316.1 289.2h0M295.1 286.8h0M320.4 287.3h0M334.5 288.6h0M307.1 284.9h0M331.8 282.8h0M297.6 283.5h0M291.7 286.3h0M325.1 283.2h0M299.9 282.3h0M327.5 285.0h0M330.4 282.9h0M286.4 282.7h0M307.3 285.2h0M303.3 284.2h0M313.9 285.1h0M280.7 283.8h0M325.8 280.7h0M337.4 282.2h0M285.6 282.2h0M315.8 280.2h0M292.6 280.2h0M276.7 282.2h0M344.8 278.8h0M281.3 279.7h0M312.5 280.1h0M336.2 279.7h0M343.3 279.6h0M341.5 281.8h0M299.1 274.6h0M332.7 274.4h0M330.1 276.7h0M313.6 275.2h0M280.5 276.1h0M316.8 275.4h0M300.7 275.9h0M328.7 276.8h0M324.9 274.7h0M302.7 276.2h0M310.8 274.9h0M295.6 277.2h0M322.8 273.7h0M346.0 272.3h0M328.3 272.7h0M278.3 272.8h0M317.0 273.9h0M346.1 272.0h0M309.0 274.2h0M293.9 273.0h0M322.6 273.6h0M310.9 273.2h0M316.6 271.5h0M313.2 271.3h0M282.3 267.7h0M310.8 267.3h0M343.0 268.9h0M336.8 269.4h0M322.6 270.3h0M335.1 268.5h0M308.7 268.3h0M302.9 269.4h0M325.6 267.8h0M280.3 269.2h0M342.6 269.2h0M297.3 268.0h0M343.8 262.4h0M285.6 265.4h0M288.6 264.5h0M296.6 263.6h0M339.4 266.0h0M278.3 265.9h0M298.4 265.8h0M307.1 264.8h0M328.1 262.4h0M345.9 264.6h0M322.1 265.8h0M319.8 262.8h0M286.4 262.0h0M340.5 260.9h0M330.6 262.2h0M320.4 262.3h0M328.8 260.7h0M299.3 262.3h0M347.4 257.8h0M302.4 259.0h0M334.1 256.4h0M302.4 259.4h0M347.2 258.6h0M307.9 259.1h0M327.9 256.4h0M309.8 256.9h0M304.9 258.6h0M345.4 253.3h0M326.5 253.0h0M341.8 252.5h0M314.2 254.7h0M276.9 254.2h0M301.7 256.3h0M347.0 255.1h0M342.7 256.2h0M302.0 253.2h0M324.2 250.3h0M282.9 249.0h0M330.5 250.4h0M316.4 249.1h0M311.6 250.4h0M310.9 249.4h0M328.7 251.0h0M331.6 250.8h0M303.2 244.7h0M343.2 245.2h0M303.5 246.9h0M307.2 245.9h0M278.8 246.1h0M342.4 248.0h0M339.8 246.0h0M347.3 245.4h0M329.9 242.6h0M284.8 240.9h0M338.8 241.4h0M291.9 242.3h0M313.0 242.8h0M311.2 242.5h0M346.1 241.8h0M345.8 240.7h0M331.2 238.8h0M318.9 238.0h0M329.0 239.1h0M324.6 238.8h0M332.0 238.3h0M322.1 236.3h0M296.3 240.3h0M340.1 238.2h0M335.4 232.7h0M303.8 232.4h0M304.2 233.4h0M335.5 234.8h0M306.3 234.8h0M300.7 234.7h0M336.7 236.1h0M332.6 230.1h0M322.1 231.1h0M330.8 228.8h0M303.6 230.3h0M292.0 231.3h0M337.0 229.7h0M321.9 227.6h0M276.7 226.9h0M317.3 227.6h0M314.9 227.0h0M295.1 225.3h0M302.1 225.3h0M303.1 224.2h0M336.3 222.1h0M317.6 221.6h0M315.4 220.7h0M277.0 220.4h0M320.2 222.7h0M340.1 217.9h0M277.1 217.8h0M305.7 218.0h0M335.4 219.8h0M336.4 219.1h0M279.1 215.9h0M295.4 214.2h0M343.2 215.6h0M296.9 214.8h0M321.9 214.9h0M287.1 212.1h0M317.6 209.4h0M285.9 212.1h0M324.0 212.0h0M342.2 209.5h0M305.5 208.1h0M282.6 207.2h0M338.8 205.6h0M330.0 206.4h0M312.7 202.7h0M311.7 203.7h0M335.9 204.1h0M324.7 197.4h0M300.9 199.6h0M305.0 200.5h0M332.5 196.5h0M310.4 196.2h0M317.5 194.2h0M311.0 192.5h0M322.4 190.6h0M292.1 192.4h0M299.7 185.7h0M338.5 186.1h0M304.4 187.5h0M309.1 181.5h0M282.9 183.7h0M290.3 181.9h0M311.1 181.1h0M325.5 179.2h0M327.7 174.3h0M295.1 176.3h0M279.9 169.6h0M327.6 171.3h0M281.9 167.1h0M331.4 168.8h0M325.1 164.8h0M346.2 156.8h0M314.5 154.0h0M334.5 149.5h0M312.3 142.1h0M334.1 134.5h0M337.2 130.1h0M367.0 523.6h0M436.7 524.9h0M366.8 549.6h0M437.0 541.7h0M366.3 521.7h0M436.8 534.7h0M367.1 553.3h0M437.2 524.0h0M366.3 517.2h0M436.8 512.8h0M367.3 537.9h0M437.0 536.8h0M367.2 535.5h0M436.5 511.7h0M367.2 533.2h0M436.5 534.1h0M367.0 537.4h0M436.3 511.9h0M367.0 531.2h0M437.3 530.9h0M367.4 545.4h0M436.5 544.8h0M367.2 543.6h0M436.7 521.4h0M366.3 518.5h0M436.8 545.3h0M366.7 531.3h0M436.5 548.3h0M366.4 545.9h0M436.6 538.2h0M367.2 523.6h0M437.0 529.8h0M366.5 528.9h0M436.6 545.7h0M367.1 550.1h0M436.2 531.6h0M367.4 526.2h0M437.1 523.3h0M367.0 539.3h0M436.6 522.1h0M367.1 546.5h0M436.2 515.4h0M366.8 514.6h0M436.2 540.8h0M379.9 515.8h0M401.1 516.4h0M383.2 512.9h0M367.6 513.6h0M395.3 513.0h0M384.7 514.4h0M381.4 517.2h0M427.8 515.1h0M387.3 511.7h0M392.6 514.1h0M376.3 514.8h0M428.5 512.4h0M424.5 511.8h0M382.7 517.0h0M375.6 513.4h0M405.1 515.1h0M416.9 516.0h0M409.5 514.8h0M376.2 512.6h0M379.4 512.5h0M420.4 514.7h0M398.5 516.1h0M376.2 513.1h0M392.7 513.9h0M392.5 515.7h0M377.9 512.7h0M397.1 516.4h0M428.4 516.4h0M382.6 516.4h0M406.1 512.6h0M368.5 511.8h0M416.2 512.3h0M397.4 510.9h0M385.0 507.8h0M386.6 507.7h0M425.6 507.6h0M376.3 509.6h0M425.6 510.1h0M383.7 511.2h0M405.4 506.5h0M384.7 504.8h0M378.6 504.2h0M428.3 505.6h0M375.6 505.0h0M387.3 506.9h0M416.7 505.1h0M383.9 500.4h0M431.5 501.9h0M407.9 502.4h0M399.4 501.0h0M388.0 500.9h0M404.8 503.1h0M395.8 498.7h0M405.1 496.9h0M410.7 495.8h0M409.5 496.2h0M374.5 495.8h0M432.4 496.9h0M405.4 493.6h0M377.7 493.4h0M417.0 492.1h0M429.9 493.2h0M433.5 493.8h0M396.6 489.1h0M421.2 490.4h0M368.1 488.4h0M379.9 487.9h0M406.5 490.8h0M421.2 486.4h0M434.3 487.1h0M376.9 484.9h0M414.4 484.9h0M380.6 483.1h0M404.5 481.9h0M394.5 481.7h0M429.0 482.2h0M406.6 478.2h0M431.1 478.3h0M387.7 478.5h0M415.6 473.8h0M374.7 472.9h0M390.3 473.1h0M366.4 471.1h0M424.5 467.8h0M372.5 470.4h0M425.5 467.0h0M372.8 462.7h0M409.1 458.4h0M417.6 458.6h0M434.2 454.7h0M421.2 450.6h0M381.5 452.7h0M407.1 446.6h0M398.2 445.6h0M428.5 441.3h0M423.4 436.0h0M366.4 433.8h0M434.5 426.5h0M432.9 424.5h0M430.9 419.0h0M386.6 417.9h0M385.0 413.5h0M388.7 409.4h0M392.5 406.3h0M405.5 402.2h0M368.1 396.4h0M382.4 345.5h0M393.9 327.8h0M403.2 324.9h0M405.6 262.6h0M386.5 199.1h0M420.0 185.5h0M405.3 166.2h0M456.8 549.0h0M526.5 543.1h0M456.7 552.0h0M527.4 544.5h0M456.8 545.6h0M527.5 551.5h0M457.8 554.5h0M527.0 552.5h0M457.5 555.4h0M526.9 552.7h0M457.7 551.7h0M526.9 555.9h0M457.7 547.4h0M526.6 545.9h0M460.9 543.8h0M483.7 547.1h0M519.9 544.3h0M481.4 547.9h0M502.8 547.9h0M473.6 548.0h0M468.8 543.8h0M475.6 542.4h0M476.5 543.5h0M508.9 544.4h0M499.6 547.5h0M515.5 542.8h0M494.4 547.2h0M462.7 546.8h0M525.7 546.4h0M476.5 545.1h0M459.1 543.6h0M512.0 546.5h0M458.7 542.9h0M514.2 543.7h0M471.6 542.6h0M502.2 548.1h0M526.4 544.1h0M469.7 543.0h0M499.1 544.5h0M458.6 547.0h0M512.9 548.2h0M470.4 547.9h0M498.0 547.5h0M512.4 545.6h0M512.2 542.8h0M525.7 547.1h0M513.0 541.0h0M523.3 541.0h0M501.2 541.3h0M508.0 541.2h0M486.6 539.4h0M515.5 541.7h0M468.9 541.5h0M511.2 539.6h0M507.6 539.1h0M473.2 540.3h0M457.0 540.9h0M499.3 541.3h0M513.1 541.5h0M488.0 539.6h0M472.4 539.6h0M485.1 542.1h0M464.1 539.7h0M515.1 539.6h0M518.0 539.6h0M516.2 535.9h0M494.4 537.7h0M473.4 538.0h0M464.5 536.7h0M477.4 536.0h0M515.5 537.2h0M520.2 535.0h0M470.3 535.9h0M470.6 538.0h0M472.3 537.5h0M457.1 538.2h0M514.0 534.8h0M518.0 538.0h0M458.3 534.9h0M483.2 536.9h0M506.4 536.2h0M480.0 537.7h0M464.8 535.5h0M459.3 533.4h0M493.9 533.2h0M491.4 532.3h0M475.4 533.8h0M486.4 531.1h0M466.4 532.1h0M514.2 532.0h0M481.3 530.6h0M512.2 530.3h0M477.9 532.4h0M488.6 530.9h0M500.7 532.1h0M493.2 530.7h0M481.7 533.8h0M469.1 533.3h0M463.4 530.4h0M513.3 528.5h0M493.7 529.4h0M519.9 528.6h0M485.5 527.3h0M518.4 526.3h0M490.8 528.6h0M515.3 528.6h0M471.0 528.4h0M478.4 529.3h0M511.5 528.9h0M501.1 529.1h0M464.7 527.2h0M511.7 527.5h0M500.0 529.6h0M492.3 527.0h0M498.6 523.8h0M468.7 526.1h0M516.8 526.2h0M474.6 524.7h0M506.4 523.5h0M518.2 522.6h0M475.9 525.3h0M465.3 525.0h0M463.9 522.5h0M497.5 524.3h0M460.7 522.7h0M474.0 523.2h0M471.2 525.2h0M494.6 521.7h0M497.2 520.9h0M472.7 522.0h0M493.2 521.5h0M488.4 521.6h0M468.3 522.1h0M508.3 521.0h0M502.0 518.2h0M470.6 516.6h0M494.5 518.5h0M475.2 518.8h0M526.3 518.7h0M513.8 519.8h0M475.9 515.4h0M478.2 514.7h0M502.4 514.7h0M517.8 515.7h0M517.4 514.6h0M512.9 514.7h0M520.2 509.8h0M508.0 510.2h0M507.1 508.5h0M509.3 508.4h0M481.4 511.1h0M519.4 509.0h0M487.6 506.6h0M524.0 507.5h0M468.4 507.6h0M478.1 506.6h0M483.8 506.5h0M480.9 502.3h0M460.4 502.4h0M521.0 501.7h0M523.9 500.9h0M491.7 504.2h0M497.6 496.9h0M480.2 499.8h0M510.6 498.1h0M489.9 499.8h0M497.4 493.5h0M520.7 496.0h0M515.7 495.0h0M481.1 489.1h0M488.0 492.0h0M490.3 491.7h0M460.2 487.5h0M488.6 488.3h0M520.7 484.1h0M524.4 475.5h0M460.2 473.7h0M503.7 469.1h0M502.1 462.6h0M527.5 460.2h0M469.6 455.5h0M473.5 449.7h0M472.6 444.6h0M503.7 441.3h0M486.4 437.6h0M463.0 434.3h0M490.7 422.7h0M478.4 420.7h0M467.7 411.7h0M480.1 407.9h0M492.9 397.5h0M459.6 377.5h0M469.4 364.7h0M458.1 296.6h0M475.9 268.3h0M546.6 499.4h0M617.1 511.8h0M546.4 481.3h0M617.0 477.1h0M547.3 474.3h0M617.0 498.4h0M546.3 473.7h0M616.5 553.2h0M546.4 547.3h0M616.9 476.6h0M547.1 528.6h0M616.3 555.4h0M546.9 523.2h0M617.2 478.1h0M547.0 471.7h0M616.5 503.5h0M546.4 515.8h0M616.2 508.8h0M547.0 517.2h0M616.9 555.3h0M546.5 540.5h0M617.2 551.7h0M547.1 471.7h0M616.5 485.7h0M546.5 484.1h0M616.8 483.7h0M546.5 530.9h0M616.7 537.3h0M546.5 494.5h0M616.4 472.7h0M547.0 526.5h0M616.7 506.5h0M546.9 478.3h0M616.6 474.6h0M546.8 518.4h0M617.3 528.7h0M546.8 555.3h0M616.8 546.4h0M546.5 481.2h0M616.2 546.6h0M546.9 515.0h0M617.2 531.0h0M546.8 520.1h0M616.6 550.7h0M546.9 504.3h0M617.1 508.1h0M547.3 480.6h0M616.6 512.0h0M547.1 517.7h0M616.5 524.6h0M546.9 493.9h0M616.6 505.1h0M546.7 526.5h0M616.5 518.4h0M546.7 524.1h0M617.0 503.1h0M547.3 539.7h0M616.5 511.1h0M547.0 499.9h0M616.8 555.4h0M546.6 512.0h0M616.5 477.5h0M547.0 500.8h0M616.9 488.8h0M546.4 481.1h0M616.7 517.8h0M547.0 510.2h0M616.1 546.1h0M546.3 505.7h0M617.0 537.0h0M547.4 511.3h0M616.9 525.3h0M546.5 534.9h0M617.1 473.3h0M547.1 525.7h0M617.2 473.4h0M547.3 548.2h0M616.3 509.4h0M547.4 518.9h0M616.8 555.6h0M546.9 536.0h0M616.2 537.3h0M547.3 527.9h0M616.3 495.6h0M612.6 473.8h0M571.8 475.7h0M562.9 476.7h0M567.5 475.4h0M604.7 477.3h0M581.9 474.3h0M557.4 473.1h0M560.9 472.8h0M558.2 472.0h0M568.4 476.7h0M556.9 476.1h0M555.6 475.4h0M615.2 475.1h0M574.2 472.8h0M551.5 476.8h0M608.1 475.3h0M558.6 476.2h0M599.1 471.4h0M574.6 473.0h0M579.0 476.1h0M568.6 475.3h0M564.0 472.5h0M552.7 475.0h0M598.4 477.1h0M614.7 473.6h0M592.6 476.1h0M560.6 472.2h0M615.5 477.2h0M604.3 476.1h0M551.7 473.7h0M553.0 472.3h0M606.2 475.6h0M582.7 468.3h0M548.9 468.5h0M555.0 469.8h0M557.9 471.0h0M584.2 470.1h0M611.0 467.7h0M597.8 469.3h0M592.2 470.0h0M579.5 469.1h0M576.1 469.5h0M606.8 467.3h0M598.5 467.9h0M567.9 471.0h0M562.0 469.3h0M600.6 468.4h0M611.3 468.2h0M567.4 471.1h0M580.5 470.0h0M608.0 467.7h0M584.5 468.2h0M597.9 469.2h0M577.6 467.5h0M602.9 469.0h0M616.4 470.7h0M585.3 466.0h0M555.2 465.0h0M608.0 466.6h0M610.1 463.4h0M560.0 465.1h0M580.7 466.0h0M554.7 466.2h0M613.1 463.9h0M613.8 465.3h0M581.7 467.1h0M576.5 465.0h0M616.8 467.0h0M592.9 467.1h0M615.3 466.5h0M595.5 464.8h0M560.8 465.5h0M576.3 466.6h0M574.4 467.0h0M596.5 463.4h0M584.7 465.7h0M582.8 466.7h0M598.7 464.5h0M573.1 462.8h0M596.0 463.2h0M608.1 463.0h0M605.6 462.5h0M583.8 460.5h0M613.0 459.8h0M557.0 460.4h0M576.8 462.6h0M579.1 459.5h0M547.6 460.5h0M584.8 459.8h0M580.0 462.3h0M606.7 462.9h0M595.2 462.1h0M550.0 462.6h0M606.6 462.7h0M611.5 462.7h0M612.2 463.1h0M593.1 461.2h0M588.6 459.6h0M562.3 459.3h0M586.7 460.1h0M617.1 456.4h0M579.7 458.4h0M608.7 457.1h0M616.5 455.8h0M599.4 456.4h0M558.1 456.0h0M597.0 458.9h0M551.1 458.9h0M561.8 456.2h0M600.8 456.5h0M572.4 455.5h0M557.0 458.4h0M577.6 458.3h0M598.5 456.0h0M599.1 458.0h0M587.4 458.0h0M585.2 457.2h0M557.1 455.9h0M604.0 456.2h0M552.7 458.4h0M599.5 456.1h0M612.5 453.6h0M562.3 453.4h0M567.6 453.8h0M601.8 454.0h0M596.9 452.9h0M547.7 453.3h0M607.8 452.7h0M606.7 452.7h0M616.9 455.1h0M576.4 454.5h0M600.0 454.1h0M593.5 452.7h0M547.4 452.8h0M569.6 454.3h0M592.1 452.8h0M561.4 452.5h0M551.5 455.1h0M609.3 451.6h0M613.5 451.3h0M598.9 453.0h0M584.2 447.5h0M614.9 449.6h0M560.5 449.1h0M576.3 448.1h0M611.8 448.8h0M552.0 449.2h0M555.3 449.2h0M604.4 448.6h0M579.5 450.7h0M612.4 447.8h0M580.9 451.1h0M594.3 449.7h0M574.5 449.8h0M565.8 450.7h0M592.4 449.2h0M576.8 448.3h0M581.9 450.7h0M565.3 449.1h0M593.6 448.8h0M571.6 446.5h0M587.6 447.0h0M555.1 446.7h0M606.4 446.3h0M604.7 443.9h0M563.7 445.1h0M607.5 445.2h0M580.6 444.1h0M547.5 445.9h0M560.4 443.1h0M602.0 446.0h0M557.7 442.4h0M558.0 443.1h0M587.9 442.8h0M598.6 445.9h0M600.9 443.4h0M549.2 442.5h0M567.0 444.4h0M583.5 444.1h0M550.9 438.9h0M583.4 441.9h0M581.9 441.5h0M576.9 439.4h0M599.8 441.7h0M566.7 438.4h0M590.9 441.6h0M589.6 441.3h0M551.5 439.7h0M554.2 441.7h0M594.4 438.4h0M551.1 439.3h0M556.3 442.1h0M547.4 442.2h0M598.2 438.7h0M556.9 438.1h0M575.1 437.0h0M559.9 435.0h0M553.6 435.8h0M556.4 435.7h0M555.4 437.5h0M616.5 437.2h0M578.3 435.7h0M617.2 436.1h0M554.5 435.6h0M594.8 436.0h0M573.6 435.0h0M550.7 436.1h0M584.9 434.6h0M601.6 437.3h0M588.6 432.8h0M550.7 430.3h0M578.5 433.7h0M557.1 434.2h0M611.0 433.7h0M586.3 430.5h0M600.8 431.9h0M566.4 431.6h0M603.6 433.5h0M562.4 432.7h0M588.7 430.7h0M588.2 433.2h0M597.8 433.7h0M553.8 434.3h0M587.3 428.4h0M585.6 429.5h0M561.2 428.0h0M574.9 428.3h0M611.2 428.4h0M599.1 430.1h0M581.1 430.1h0M560.3 429.5h0M573.5 429.7h0M612.6 429.1h0M567.8 430.0h0M572.4 427.2h0M585.0 426.7h0M592.0 424.6h0M605.6 424.5h0M556.1 425.4h0M602.9 426.1h0M559.0 423.8h0M594.7 424.4h0M592.6 424.6h0M588.1 426.1h0M575.5 422.4h0M587.1 424.9h0M590.5 422.4h0M579.3 424.6h0M604.6 422.9h0M593.7 421.1h0M571.3 419.1h0M572.0 418.6h0M580.8 418.8h0M555.4 420.7h0M548.6 418.9h0M609.5 420.4h0M579.2 418.4h0M573.7 421.1h0M556.0 418.6h0M603.2 420.2h0M598.1 419.0h0M553.9 415.7h0M608.2 416.4h0M576.6 415.7h0M559.8 417.4h0M594.6 414.3h0M554.3 415.6h0M582.0 418.1h0M557.7 417.1h0M595.4 417.8h0M572.8 415.8h0M599.9 414.3h0M559.8 412.1h0M589.3 412.1h0M588.7 412.8h0M563.1 411.6h0M608.3 411.6h0M593.0 410.5h0M564.2 412.0h0M605.0 411.7h0M546.3 412.3h0M604.3 413.5h0M574.2 410.4h0M584.8 407.9h0M606.6 408.5h0M610.1 407.5h0M574.7 407.8h0M567.6 410.1h0M580.7 410.1h0M567.5 406.9h0M615.2 409.5h0M558.0 408.9h0M578.2 409.7h0M557.4 404.7h0M565.5 404.4h0M554.5 404.8h0M606.5 406.2h0M559.9 406.1h0M605.6 404.3h0M563.4 403.6h0M580.9 400.4h0M588.9 403.0h0M549.6 402.6h0M613.4 399.7h0M567.6 403.1h0M591.3 402.5h0M611.5 396.2h0M601.4 396.2h0M605.3 397.8h0M597.5 399.2h0M595.6 397.5h0M602.0 393.5h0M596.5 393.0h0M590.1 395.3h0M562.2 394.3h0M596.2 391.6h0M600.1 388.8h0M556.6 390.3h0M587.6 388.3h0M576.0 388.5h0M570.0 390.0h0M575.6 385.0h0M554.0 383.6h0M546.8 384.4h0M570.9 383.5h0M566.6 387.2h0M573.1 380.0h0M593.6 381.5h0M593.2 380.6h0M569.6 382.5h0M592.7 381.0h0M557.7 377.6h0M552.6 377.2h0M574.3 378.1h0M599.6 376.3h0M551.0 376.9h0M589.3 371.4h0M562.7 374.4h0M569.5 374.4h0M557.6 374.3h0M603.9 368.2h0M549.0 368.2h0M591.6 370.2h0M546.7 367.9h0M564.3 366.1h0M602.8 363.5h0M611.3 363.9h0M606.3 365.4h0M550.2 366.4h0M554.4 362.8h0M568.9 363.1h0M567.2 359.9h0M563.4 361.3h0M547.3 356.4h0M584.8 359.2h0M609.5 356.1h0M614.5 353.0h0M591.4 354.5h0M548.4 352.5h0M596.9 354.6h0M587.1 350.1h0M570.7 347.8h0M586.4 350.8h0M595.9 348.4h0M614.0 345.4h0M592.4 347.1h0M567.6 346.1h0M582.5 342.8h0M595.3 343.1h0M564.1 341.0h0M569.6 336.9h0M598.2 338.2h0M558.1 337.0h0M552.0 334.6h0M595.5 331.5h0M589.5 325.1h0M594.8 321.6h0M565.6 318.8h0M588.6 315.2h0M582.9 308.4h0M598.5 306.9h0M580.3 301.6h0M583.4 299.6h0M575.6 293.3h0M560.3 289.7h0M608.9 288.2h0M605.3 281.3h0M582.9 278.7h0M552.0 275.4h0M559.8 271.2h0M595.8 265.7h0M570.5 264.2h0M573.0 259.1h0M581.3 255.7h0M553.7 251.5h0M569.5 247.9h0M575.6 239.1h0M567.2 234.5h0M564.6 230.8h0M561.3 219.2h0M606.7 212.8h0M563.5 205.3h0M604.9 198.5h0M603.2 197.1h0M610.8 188.2h0M557.0 157.4h0M559.5 144.0h0M603.5 126.4h0M697.9 551.4h0M671.9 550.1h0M650.9 550.7h0M672.3 552.5h0M672.0 553.2h0M682.3 553.6h0M668.4 554.0h0M675.0 553.7h0M695.2 554.2h0M694.0 552.5h0M704.5 552.3h0M646.9 550.3h0M653.9 549.4h0M670.6 552.7h0M678.6 553.0h0M655.4 553.8h0M653.5 553.0h0M647.9 551.8h0M668.5 550.7h0M675.8 550.2h0M680.2 551.5h0M697.4 553.5h0M656.1 554.2h0M701.3 549.0h0M665.6 549.2h0M676.6 548.7h0M700.7 552.3h0M656.4 551.8h0M704.6 551.5h0M662.3 554.2h0M664.0 548.7h0M666.4 549.5h0M703.2 545.4h0M671.9 547.1h0M703.5 545.1h0M689.4 548.1h0M682.7 545.5h0M646.2 547.0h0M668.9 547.3h0M644.2 547.7h0M669.1 548.2h0M693.0 546.6h0M656.4 547.3h0M659.1 545.9h0M687.4 546.6h0M687.4 546.0h0M694.3 545.4h0M638.3 542.9h0M644.8 541.0h0M648.3 540.6h0M661.0 543.7h0M686.2 543.6h0M662.4 542.5h0M681.7 542.2h0M683.8 541.1h0M705.4 541.8h0M666.9 542.3h0M661.3 541.0h0M675.5 541.5h0M694.8 541.5h0M699.7 542.5h0M699.5 538.3h0M695.0 539.2h0M647.9 536.9h0M675.8 536.5h0M679.2 539.3h0M645.2 536.7h0M654.6 539.6h0M674.1 537.4h0M677.4 540.1h0M692.2 537.6h0M659.7 536.6h0M671.8 537.2h0M643.1 539.1h0M685.2 533.5h0M685.9 536.2h0M697.4 536.1h0M653.8 535.1h0M672.1 535.9h0M667.1 535.7h0M660.4 534.9h0M644.7 533.1h0M638.8 535.5h0M700.1 534.7h0M703.8 535.1h0M673.5 534.2h0M707.0 530.7h0M693.3 530.3h0M661.4 528.9h0M702.3 532.2h0M679.2 529.3h0M672.7 530.7h0M687.7 531.7h0M670.4 531.5h0M698.1 529.2h0M664.8 529.2h0M675.2 529.7h0M653.6 529.2h0M707.5 527.3h0M665.2 525.2h0M655.0 525.2h0M697.0 527.6h0M688.4 527.1h0M656.0 526.9h0M692.0 525.7h0M663.9 525.6h0M694.3 527.5h0M698.1 526.2h0M681.8 524.9h0M669.9 523.6h0M637.7 523.9h0M675.1 523.9h0M696.1 522.8h0M687.8 522.2h0M642.5 521.5h0M645.8 521.5h0M648.6 521.5h0M646.3 519.3h0M651.5 521.5h0M684.5 518.8h0M696.9 517.8h0M642.5 517.6h0M680.8 517.9h0M688.4 518.1h0M694.6 515.6h0M641.0 513.6h0M674.4 513.8h0M649.8 512.9h0M645.1 514.6h0M666.3 511.3h0M663.9 511.4h0M682.6 507.6h0M678.0 508.3h0M670.2 508.1h0M698.8 511.3h0M703.0 511.2h0M641.8 504.3h0M667.4 506.8h0M696.5 506.3h0M700.7 505.8h0M676.3 505.5h0M661.8 501.2h0M653.0 502.0h0M644.4 502.3h0M656.4 500.5h0M647.5 495.4h0M682.2 499.0h0M698.1 496.3h0M679.9 495.5h0M646.5 495.3h0M643.0 493.4h0M675.9 492.0h0M641.6 490.9h0M662.4 487.6h0M639.7 484.9h0M652.6 482.0h0M657.6 478.4h0M678.6 473.0h0M656.5 471.2h0M658.8 466.5h0M703.9 460.9h0M639.7 457.1h0M698.1 452.3h0M706.8 451.2h0M691.4 449.4h0M703.9 444.3h0M682.6 442.8h0M645.8 438.1h0M675.0 434.9h0M691.9 430.1h0M698.1 424.8h0M702.9 422.3h0M707.3 415.6h0M702.4 415.0h0M698.0 410.9h0M652.5 404.2h0M672.2 401.0h0M698.0 399.2h0M697.2 393.2h0M693.3 389.6h0M691.6 384.2h0M637.7 379.2h0M639.2 373.8h0M691.8 372.2h0M707.6 362.4h0M697.0 359.2h0M639.2 351.2h0M679.1 348.0h0M685.4 324.9h0M665.9 323.5h0M695.6 315.3h0M655.6 304.0h0M650.8 295.0h0M645.5 289.9h0M652.0 286.9h0M696.6 272.5h0M693.3 269.8h0M644.0 248.3h0M650.8 226.0h0M643.8 224.0h0M668.0 219.5h0M677.5 185.0h0M662.1 184.3h0M668.3 175.6h0M699.7 171.0h0" stroke="#7E3B8C" stroke-width="7.0" stroke-linecap="round" fill="none"/>
<path d="M97.0 669.1h0M167.4 673.3h0M96.9 722.9h0M167.6 714.0h0M97.5 650.9h0M166.5 710.2h0M97.6 667.9h0M167.2 678.2h0M97.7 697.8h0M167.2 681.7h0M96.8 643.7h0M167.5 722.4h0M96.8 732.5h0M167.3 665.5h0M97.1 657.9h0M167.2 734.5h0M97.6 720.1h0M166.8 730.2h0M97.6 693.8h0M166.7 643.8h0M97.4 684.0h0M166.7 703.3h0M96.8 643.8h0M166.5 651.6h0M97.1 673.3h0M167.2 712.8h0M97.7 664.9h0M166.8 669.0h0M97.2 678.3h0M167.4 655.1h0M96.7 729.5h0M167.0 660.9h0M97.6 738.5h0M167.1 652.9h0M96.7 648.0h0M167.2 648.0h0M96.8 664.7h0M166.9 727.6h0M97.4 680.2h0M167.1 691.3h0M97.0 672.7h0M167.5 666.7h0M97.7 651.5h0M167.0 701.9h0M97.5 660.5h0M167.3 663.7h0M97.0 683.5h0M166.5 723.8h0M97.5 641.1h0M167.6 709.9h0M97.6 686.2h0M166.9 638.9h0M97.0 731.6h0M166.6 724.4h0M97.7 663.7h0M167.5 654.3h0M97.1 707.1h0M166.5 711.1h0M97.3 715.4h0M167.1 694.1h0M96.5 717.1h0M167.3 730.9h0M97.3 669.3h0M167.4 664.1h0M97.3 708.8h0M167.5 645.9h0M97.1 697.2h0M167.1 661.3h0M97.2 639.9h0M167.2 685.0h0M97.7 703.4h0M166.5 686.4h0M96.8 663.6h0M166.4 709.4h0M96.9 641.1h0M167.0 706.3h0M97.0 664.6h0M166.8 731.4h0M96.8 642.3h0M167.2 681.0h0M97.3 658.7h0M166.6 712.8h0M97.1 659.4h0M166.4 670.1h0M97.5 662.0h0M167.3 714.9h0M96.9 734.1h0M167.0 657.6h0M96.8 680.6h0M166.8 733.8h0M96.7 678.2h0M167.3 736.3h0M96.7 644.1h0M167.5 678.2h0M97.6 727.3h0M166.7 738.7h0M97.6 671.8h0M167.4 732.5h0M97.4 642.1h0M166.8 676.8h0M123.1 734.9h0M108.5 732.9h0M116.4 735.0h0M164.4 733.6h0M165.1 734.1h0M121.9 737.8h0M154.9 735.5h0M100.0 735.7h0M123.0 738.4h0M110.2 735.1h0M160.3 733.1h0M125.7 737.8h0M151.0 733.1h0M99.0 733.3h0M161.9 734.4h0M149.6 738.3h0M120.6 734.5h0M164.6 736.6h0M115.1 737.2h0M119.0 734.6h0M96.8 737.4h0M161.7 736.7h0M163.6 733.0h0M113.1 735.8h0M164.5 738.6h0M124.0 734.4h0M127.1 735.9h0M162.5 734.0h0M153.6 737.3h0M155.0 737.5h0M139.7 734.9h0M119.2 735.1h0M102.1 739.7h0M150.0 739.9h0M101.1 739.0h0M135.8 740.2h0M166.2 742.4h0M166.7 740.0h0M102.5 739.3h0M131.9 741.7h0M128.3 739.8h0M126.1 741.4h0M144.4 741.9h0M156.7 741.6h0M105.1 742.3h0M117.4 741.2h0M123.0 741.9h0M110.7 739.9h0M107.4 746.4h0M137.6 744.2h0M124.7 746.9h0M132.6 743.8h0M154.0 745.5h0M167.0 743.3h0M130.3 746.2h0M156.3 746.6h0M99.4 744.1h0M105.0 743.7h0M165.7 745.2h0M162.6 744.4h0M158.1 744.7h0M115.0 746.0h0M163.7 743.3h0M138.9 745.4h0M112.0 744.4h0M111.0 747.9h0M139.1 749.5h0M111.0 746.9h0M119.8 749.6h0M109.7 748.1h0M111.0 750.1h0M135.5 747.2h0M103.7 748.5h0M135.6 749.5h0M103.0 747.6h0M145.9 748.5h0M116.6 748.1h0M164.3 748.1h0M136.8 748.3h0M126.1 750.4h0M167.4 748.4h0M110.5 749.8h0M96.9 754.5h0M126.6 754.2h0M125.4 754.4h0M129.3 751.6h0M97.6 753.1h0M142.1 754.5h0M102.8 753.4h0M122.9 752.9h0M106.9 752.0h0M133.6 754.6h0M104.2 752.9h0M153.7 754.8h0M110.5 751.4h0M163.6 754.8h0M130.8 751.1h0M162.4 752.5h0M160.8 753.4h0M107.9 758.0h0M112.3 756.5h0M156.7 758.2h0M109.5 755.8h0M124.9 757.0h0M123.8 755.4h0M114.1 757.8h0M160.3 755.1h0M136.5 757.9h0M99.2 758.3h0M104.9 757.3h0M135.6 757.4h0M118.3 756.6h0M137.9 756.6h0M143.3 756.7h0M127.7 755.0h0M131.3 759.8h0M150.8 762.0h0M129.1 759.6h0M130.1 759.3h0M105.6 760.6h0M103.0 760.7h0M132.8 759.1h0M141.8 759.2h0M148.7 762.0h0M132.9 759.1h0M132.3 760.4h0M164.1 759.4h0M157.4 762.9h0M148.6 762.2h0M110.3 762.8h0M131.5 762.7h0M108.2 766.1h0M162.7 763.2h0M121.4 765.9h0M107.8 766.5h0M116.1 766.2h0M106.7 764.9h0M161.9 763.7h0M115.2 764.9h0M119.2 763.0h0M109.4 763.5h0M163.1 765.6h0M160.2 763.6h0M152.3 763.4h0M134.2 765.4h0M122.1 766.4h0M136.0 765.2h0M103.9 770.9h0M141.3 768.5h0M153.2 768.0h0M166.9 769.2h0M122.1 770.0h0M127.9 767.6h0M149.4 767.1h0M154.8 767.9h0M141.9 770.8h0M138.2 769.6h0M118.7 766.9h0M98.9 767.5h0M140.3 768.6h0M133.0 770.5h0M105.9 767.8h0M142.9 767.0h0M121.7 771.3h0M121.9 771.8h0M138.0 773.3h0M111.0 773.4h0M130.3 771.4h0M163.1 771.9h0M107.1 771.3h0M141.9 774.4h0M152.1 772.5h0M115.3 770.9h0M142.4 773.1h0M121.4 773.5h0M128.1 774.6h0M148.7 771.9h0M160.7 771.1h0M134.3 772.5h0M113.4 771.1h0M97.4 777.1h0M163.4 775.5h0M110.7 777.3h0M132.5 777.5h0M154.3 775.6h0M118.5 776.1h0M99.9 778.5h0M152.2 777.8h0M97.0 778.3h0M149.5 776.8h0M149.2 776.7h0M112.6 775.3h0M113.0 775.1h0M120.4 777.9h0M145.9 778.3h0M147.1 776.0h0M127.5 782.1h0M133.7 780.0h0M142.1 782.8h0M111.9 782.4h0M97.6 779.9h0M113.3 781.9h0M163.7 781.9h0M119.7 782.4h0M119.9 779.9h0M161.0 781.4h0M145.8 781.6h0M166.1 780.8h0M156.2 781.7h0M157.5 780.6h0M148.0 781.2h0M118.4 779.7h0M102.0 786.5h0M106.8 783.0h0M104.1 786.6h0M121.0 783.5h0M98.5 783.1h0M145.7 785.4h0M146.1 785.8h0M101.2 785.3h0M122.3 786.2h0M154.8 786.5h0M101.2 786.4h0M161.5 786.7h0M104.1 783.7h0M104.5 783.0h0M156.8 786.1h0M141.6 786.2h0M116.9 787.3h0M103.5 789.9h0M111.1 788.2h0M126.6 787.0h0M114.8 788.0h0M147.4 788.4h0M119.3 790.8h0M132.3 790.3h0M140.5 787.0h0M125.9 788.6h0M151.5 788.3h0M146.6 789.1h0M111.9 790.3h0M103.0 790.2h0M108.6 786.9h0M110.9 789.9h0M96.8 792.9h0M131.4 794.1h0M109.6 792.9h0M121.2 794.2h0M115.0 794.7h0M116.7 791.8h0M146.2 792.9h0M104.3 793.4h0M102.3 794.1h0M146.1 794.0h0M141.1 792.3h0M125.0 792.5h0M159.8 791.2h0M159.7 791.0h0M111.2 792.0h0M132.1 796.4h0M159.4 795.8h0M129.3 797.0h0M150.1 797.9h0M142.5 796.3h0M119.7 795.5h0M156.4 797.5h0M149.3 795.6h0M127.7 798.0h0M137.7 795.4h0M129.3 798.4h0M113.4 795.7h0M117.9 797.7h0M156.5 795.5h0M107.6 795.9h0M133.6 799.5h0M119.8 799.7h0M165.8 801.8h0M103.7 802.7h0M103.7 800.4h0M166.5 802.1h0M148.6 800.6h0M110.4 801.5h0M104.1 799.7h0M124.1 799.0h0M124.9 802.1h0M145.8 800.9h0M141.5 800.8h0M106.6 801.3h0M125.3 801.9h0M161.1 800.6h0M149.8 804.6h0M112.8 805.8h0M159.1 806.0h0M146.3 806.3h0M144.8 805.5h0M128.8 804.2h0M141.2 803.3h0M126.3 806.0h0M147.2 805.4h0M114.3 804.6h0M128.9 805.4h0M125.6 805.6h0M162.6 803.6h0M143.0 806.0h0M124.1 804.9h0M99.2 809.1h0M107.9 810.0h0M163.4 809.0h0M103.7 809.2h0M135.0 809.8h0M132.9 809.5h0M155.4 809.0h0M125.7 810.7h0M111.4 809.6h0M124.4 810.0h0M105.2 810.8h0M121.8 807.1h0M116.0 808.5h0M97.4 808.6h0M126.4 809.7h0M115.4 811.8h0M149.2 814.7h0M134.0 811.8h0M153.5 812.5h0M111.6 811.4h0M151.7 814.1h0M141.6 812.8h0M136.5 811.8h0M165.0 812.3h0M141.9 814.2h0M154.5 812.8h0M117.4 813.1h0M105.4 814.2h0M121.7 814.3h0M115.5 812.4h0M126.8 815.6h0M96.7 817.8h0M116.5 815.9h0M118.0 816.8h0M127.0 817.4h0M143.4 816.3h0M162.5 818.3h0M100.6 818.2h0M160.9 818.0h0M106.5 818.2h0M141.5 815.0h0M97.3 818.7h0M143.1 815.9h0M103.7 815.5h0M113.1 818.0h0M107.4 822.5h0M152.8 819.6h0M159.9 821.3h0M152.0 821.6h0M160.1 822.1h0M156.1 819.7h0M145.8 821.0h0M149.2 820.7h0M159.3 821.1h0M115.3 819.8h0M106.4 820.9h0M100.7 820.8h0M106.8 820.9h0M131.9 821.1h0M157.9 818.9h0M129.8 825.2h0M143.8 826.3h0M123.2 824.6h0M164.8 823.2h0M141.8 825.4h0M98.5 825.3h0M145.0 826.6h0M120.0 826.8h0M132.8 824.8h0M160.3 823.0h0M147.6 825.4h0M120.6 826.3h0M122.5 824.8h0M133.9 826.0h0M127.4 828.6h0M135.9 830.2h0M117.3 830.2h0M125.2 828.9h0M115.8 828.9h0M165.8 829.5h0M152.8 828.2h0M119.0 828.1h0M138.2 829.4h0M152.3 827.1h0M147.9 830.4h0M135.3 827.1h0M117.9 826.9h0M110.0 830.6h0M139.8 829.5h0M161.2 833.3h0M140.3 833.4h0M146.0 833.3h0M144.9 831.8h0M143.9 832.7h0M150.7 831.3h0M109.4 831.0h0M151.6 834.6h0M143.1 832.4h0M155.0 834.0h0M136.5 831.9h0M118.0 832.6h0M119.1 832.6h0M142.1 834.6h0M136.8 835.1h0M105.0 838.1h0M137.4 838.6h0M128.2 835.0h0M124.0 837.3h0M163.2 838.8h0M130.3 836.5h0M103.8 837.5h0M111.6 835.5h0M97.6 834.9h0M145.1 835.4h0M165.2 835.3h0M158.3 835.4h0M97.8 837.8h0M113.7 837.8h0M100.1 842.0h0M147.2 842.3h0M148.4 839.2h0M141.2 841.7h0M129.2 842.6h0M114.6 842.8h0M147.5 838.9h0M97.5 841.5h0M154.6 839.2h0M118.6 841.8h0M108.3 842.3h0M131.1 839.1h0M122.6 841.2h0M127.7 841.6h0M106.8 842.1h0M142.4 845.4h0M126.2 844.4h0M152.4 846.7h0M152.3 845.2h0M117.3 843.1h0M165.7 845.7h0M155.3 844.2h0M139.6 846.8h0M155.6 845.3h0M118.4 844.6h0M159.6 844.4h0M145.2 845.3h0M160.2 846.1h0M116.6 842.9h0M126.5 849.2h0M154.5 850.4h0M99.5 850.2h0M154.2 850.4h0M137.2 848.0h0M157.0 850.1h0M145.2 850.6h0M121.2 847.2h0M135.9 850.1h0M110.8 849.9h0M162.7 847.8h0M139.7 849.6h0M129.6 847.7h0M114.6 849.9h0M129.2 851.3h0M153.8 854.0h0M113.1 853.2h0M160.3 854.4h0M133.6 852.8h0M138.4 851.7h0M110.2 851.6h0M146.3 852.4h0M136.6 852.5h0M133.3 851.5h0M99.7 854.9h0M123.1 851.3h0M141.5 854.0h0M107.6 853.3h0M133.4 855.0h0M98.9 858.9h0M158.1 856.8h0M136.8 855.9h0M151.9 856.6h0M163.8 858.0h0M154.7 858.8h0M114.6 855.1h0M110.8 855.6h0M102.4 855.1h0M136.1 858.4h0M129.1 858.7h0M161.2 855.2h0M139.0 856.5h0M164.7 859.9h0M136.6 861.5h0M164.5 861.6h0M124.5 860.7h0M107.9 862.8h0M167.0 859.8h0M99.2 859.9h0M121.5 862.5h0M160.8 862.2h0M99.8 862.0h0M147.0 861.5h0M166.6 859.1h0M106.8 861.9h0M144.6 864.1h0M138.6 865.9h0M104.0 864.2h0M114.8 863.4h0M130.7 863.6h0M113.5 863.5h0M144.7 863.0h0M147.5 863.7h0M99.1 866.6h0M112.2 866.6h0M158.1 866.5h0M106.4 864.7h0M162.5 870.3h0M141.2 868.7h0M120.7 870.2h0M130.5 869.4h0M106.7 867.8h0M100.5 869.8h0M135.8 867.5h0M158.4 868.0h0M125.8 867.5h0M115.8 870.3h0M120.3 867.6h0M131.4 868.2h0M160.7 867.4h0M100.5 874.5h0M144.0 871.7h0M130.4 872.0h0M114.8 871.7h0M122.4 874.9h0M167.5 874.6h0M103.4 872.1h0M160.2 871.1h0M148.2 872.1h0M166.1 871.0h0M153.9 872.3h0M106.5 870.9h0M133.9 875.6h0M127.4 878.5h0M112.0 877.2h0M106.3 875.6h0M151.3 877.7h0M110.5 875.2h0M102.7 877.3h0M131.7 876.0h0M111.1 877.3h0M146.8 878.1h0M137.9 875.7h0M101.2 877.8h0M147.8 879.1h0M154.1 880.2h0M156.4 882.4h0M131.6 879.0h0M161.2 880.8h0M158.5 880.0h0M109.7 882.2h0M122.6 879.6h0M122.9 881.3h0M96.8 881.0h0M128.2 881.0h0M105.1 881.8h0M158.0 884.2h0M147.1 884.4h0M149.9 883.1h0M158.6 886.7h0M131.7 885.0h0M134.2 885.0h0M98.0 886.8h0M112.4 883.6h0M103.8 883.9h0M154.6 883.0h0M103.4 885.7h0M110.4 883.0h0M137.5 889.0h0M146.5 887.3h0M158.3 889.8h0M99.7 887.4h0M131.6 888.9h0M116.4 887.4h0M125.3 887.4h0M138.6 890.3h0M107.0 889.2h0M149.6 887.6h0M155.2 890.7h0M124.1 888.6h0M133.9 892.5h0M163.4 894.0h0M120.6 891.9h0M120.3 892.6h0M166.3 894.1h0M161.4 894.2h0M156.8 891.1h0M133.3 894.7h0M162.9 891.9h0M126.5 893.4h0M122.4 893.0h0M127.3 896.9h0M98.0 895.5h0M165.4 898.0h0M163.1 897.4h0M154.0 898.4h0M159.4 895.0h0M142.1 896.0h0M144.7 896.0h0M135.1 898.6h0M140.7 895.9h0M133.5 896.6h0M164.1 896.1h0M142.5 899.4h0M138.8 902.7h0M133.0 900.0h0M129.7 901.0h0M107.1 899.4h0M105.8 900.1h0M125.4 900.1h0M113.8 899.3h0M135.3 902.3h0M139.9 901.2h0M142.7 899.7h0M147.0 900.7h0M140.1 904.8h0M118.6 903.9h0M112.3 904.9h0M123.7 905.2h0M97.3 904.3h0M157.8 903.9h0M136.1 904.9h0M116.8 906.9h0M117.5 906.0h0M107.8 903.2h0M158.4 904.7h0M124.1 908.7h0M148.8 907.3h0M112.5 910.7h0M149.0 907.5h0M120.5 908.3h0M144.5 909.4h0M156.9 910.2h0M133.3 909.9h0M149.3 909.9h0M130.3 910.0h0M146.9 910.6h0M105.5 910.4h0M150.9 913.2h0M131.9 914.8h0M137.2 912.6h0M152.2 914.4h0M139.7 912.4h0M128.7 912.7h0M147.9 912.1h0M124.3 913.1h0M123.8 912.2h0M152.5 914.3h0M132.0 912.7h0M118.1 915.5h0M137.4 917.2h0M102.8 918.6h0M119.5 918.3h0M156.1 918.7h0M111.0 916.6h0M161.2 914.9h0M99.9 917.2h0M131.9 918.6h0M151.5 917.1h0M167.5 917.0h0M145.2 920.5h0M121.9 921.3h0M121.5 922.7h0M144.6 921.0h0M103.5 920.4h0M125.0 921.1h0M137.3 922.4h0M165.1 920.8h0M127.8 921.4h0M167.3 920.3h0M134.2 922.2h0M119.1 926.8h0M155.2 925.0h0M104.4 926.5h0M145.6 926.2h0M166.9 926.5h0M126.4 923.5h0M117.1 924.9h0M132.4 923.7h0M109.5 925.4h0M139.4 924.3h0M167.2 925.4h0M125.8 930.1h0M118.3 929.7h0M96.8 928.1h0M156.4 929.2h0M144.0 927.7h0M131.9 929.1h0M115.4 929.5h0M134.3 930.9h0M137.3 928.5h0M105.1 927.5h0M150.5 927.3h0M108.6 933.0h0M155.0 933.4h0M153.8 931.1h0M97.4 934.0h0M119.5 933.8h0M121.7 931.6h0M115.5 931.3h0M160.8 933.2h0M121.3 932.7h0M123.9 931.1h0M159.8 933.2h0M127.8 937.4h0M114.2 935.1h0M162.7 938.3h0M118.9 938.5h0M154.5 936.1h0M139.3 938.7h0M131.7 938.7h0M113.8 936.5h0M147.6 935.8h0M118.5 938.4h0M152.9 939.9h0M108.8 940.3h0M109.8 942.8h0M117.2 941.1h0M104.7 941.0h0M123.9 940.5h0M101.2 939.4h0M155.2 940.3h0M113.9 939.7h0M116.7 939.8h0M143.7 944.3h0M107.6 945.7h0M103.1 944.0h0M155.9 943.4h0M128.0 946.2h0M153.7 943.5h0M121.6 945.8h0M123.3 946.7h0M111.3 946.7h0M132.4 943.8h0M105.8 949.7h0M115.0 950.5h0M138.3 948.4h0M114.0 949.3h0M111.6 950.4h0M105.2 949.0h0M135.1 948.0h0M151.4 948.4h0M143.2 949.2h0M118.6 948.5h0M109.1 953.5h0M119.3 952.9h0M104.2 952.6h0M122.2 952.4h0M117.6 951.1h0M118.6 951.6h0M105.5 953.1h0M116.6 952.1h0M151.6 957.4h0M157.7 954.4h0M116.2 954.0h0M144.8 956.6h0M121.5 955.6h0M143.4 956.7h0M156.7 959.3h0M141.2 958.6h0M104.7 961.6h0M148.7 960.8h0M99.4 958.1h0M108.0 958.7h0M123.6 962.1h0M118.6 964.5h0M109.3 965.3h0M137.0 964.8h0M114.6 963.6h0M145.2 963.3h0M155.8 969.0h0M116.9 966.1h0M157.2 968.3h0M99.9 966.9h0M104.4 969.1h0M111.4 969.6h0M102.6 972.7h0M124.5 972.9h0M155.4 971.0h0M102.9 973.7h0M126.6 973.6h0M149.0 977.2h0M141.2 975.7h0M100.4 976.7h0M127.0 975.9h0M162.5 974.4h0M99.6 980.7h0M153.8 978.9h0M135.3 981.8h0M141.8 980.1h0M100.7 983.3h0M125.8 982.7h0M118.6 982.4h0M146.8 984.6h0M113.4 982.9h0M128.1 989.6h0M121.5 987.1h0M159.4 986.5h0M136.5 987.2h0M135.5 992.9h0M108.5 992.6h0M139.1 991.7h0M155.6 994.4h0M117.1 995.3h0M111.2 994.1h0M110.5 998.6h0M104.5 1000.2h0M129.8 1000.4h0M101.6 1002.9h0M167.0 1005.9h0M147.5 1010.8h0M136.6 1007.3h0M127.4 1011.7h0M135.1 1010.9h0M142.3 1017.4h0M142.9 1019.9h0M106.4 1023.0h0M151.6 1026.3h0M109.7 1028.2h0M152.3 1040.2h0M109.6 1048.2h0M122.7 1051.1h0M155.6 1053.9h0M136.8 1059.4h0M117.8 1087.2h0M145.4 1089.6h0M99.3 1102.7h0M147.9 1104.9h0M187.8 729.7h0M256.6 697.3h0M187.0 674.7h0M257.4 724.8h0M187.6 713.8h0M256.7 733.0h0M187.4 669.1h0M256.8 663.8h0M187.3 654.0h0M256.7 685.3h0M186.9 726.6h0M257.6 727.3h0M187.5 653.1h0M256.8 693.4h0M187.7 694.6h0M257.2 727.6h0M186.7 712.7h0M257.6 665.2h0M186.7 721.7h0M257.2 707.9h0M186.9 708.3h0M256.9 648.2h0M187.2 707.5h0M257.4 701.1h0M186.9 674.1h0M256.6 728.5h0M187.8 679.4h0M257.0 715.7h0M187.5 682.2h0M256.7 677.0h0M187.7 683.8h0M257.6 710.1h0M186.8 703.5h0M257.6 732.8h0M187.2 709.2h0M257.5 699.4h0M187.1 662.6h0M256.7 642.1h0M187.2 647.2h0M256.7 723.8h0M186.6 683.0h0M257.1 707.2h0M187.5 671.5h0M256.6 656.5h0M186.8 716.3h0M257.6 656.6h0M187.2 670.9h0M257.5 727.2h0M187.2 713.6h0M257.4 725.6h0M186.9 725.0h0M257.0 731.2h0M187.5 698.8h0M257.1 720.1h0M187.1 648.2h0M256.6 715.4h0M187.4 709.6h0M257.4 682.9h0M187.6 730.3h0M256.6 654.1h0M187.4 691.5h0M257.2 654.8h0M186.8 683.6h0M257.1 664.3h0M187.0 691.5h0M256.8 694.9h0M186.8 723.1h0M257.3 730.1h0M187.8 652.2h0M257.0 730.7h0M187.1 690.9h0M257.3 641.6h0M186.8 650.7h0M257.4 698.7h0M187.3 729.0h0M256.9 673.3h0M187.7 699.1h0M257.0 720.8h0M187.4 673.1h0M257.0 667.4h0M187.8 662.1h0M256.5 645.0h0M186.6 691.5h0M257.5 687.1h0M186.7 718.4h0M256.9 703.9h0M187.7 733.2h0M256.9 706.7h0M186.6 643.6h0M257.2 731.0h0M187.0 692.9h0M257.7 678.4h0M187.7 694.9h0M256.7 640.1h0M201.0 729.0h0M245.8 728.5h0M252.9 729.5h0M249.2 731.0h0M209.6 733.7h0M215.4 732.1h0M191.4 732.9h0M256.4 728.6h0M239.7 729.5h0M197.1 730.1h0M233.7 733.6h0M257.3 733.9h0M230.9 731.8h0M198.1 732.3h0M225.8 730.1h0M250.6 729.4h0M196.7 728.8h0M197.2 731.4h0M243.5 728.9h0M222.3 731.3h0M226.4 730.4h0M225.2 728.0h0M190.7 730.4h0M203.4 732.4h0M203.8 732.8h0M203.8 728.5h0M220.5 730.2h0M210.5 732.5h0M202.4 731.9h0M245.9 730.6h0M222.4 733.4h0M229.5 729.0h0M192.4 735.2h0M192.9 736.5h0M216.7 735.1h0M223.0 737.6h0M204.0 734.5h0M208.3 735.2h0M251.3 736.7h0M217.1 734.6h0M189.8 734.4h0M246.9 736.5h0M197.7 736.4h0M190.8 735.9h0M210.4 734.3h0M239.4 736.8h0M222.9 734.6h0M234.2 735.6h0M193.1 741.5h0M186.9 738.8h0M214.9 738.7h0M192.8 740.6h0M257.3 739.2h0M205.5 740.6h0M202.4 739.5h0M235.5 739.6h0M197.7 738.2h0M225.2 741.9h0M252.0 738.3h0M222.3 739.9h0M200.4 740.6h0M221.8 741.1h0M207.4 741.6h0M244.5 739.8h0M221.0 742.4h0M235.4 744.7h0M227.7 745.8h0M189.8 744.8h0M243.5 742.4h0M209.5 742.1h0M228.1 744.8h0M211.3 744.7h0M212.7 744.7h0M206.3 745.8h0M217.7 741.9h0M193.1 744.8h0M248.1 744.4h0M197.6 745.4h0M237.6 742.4h0M213.7 744.6h0M189.6 747.3h0M248.8 749.9h0M209.2 749.5h0M242.5 749.4h0M228.4 749.8h0M232.4 749.7h0M226.8 746.7h0M223.5 747.8h0M210.6 747.4h0M222.9 748.3h0M202.4 747.0h0M222.4 747.9h0M216.4 748.6h0M199.8 748.0h0M206.2 749.0h0M236.6 749.0h0M204.3 753.6h0M222.9 751.4h0M207.2 751.5h0M237.0 753.2h0M220.9 752.8h0M201.7 751.7h0M212.0 751.1h0M212.2 752.9h0M238.7 750.7h0M203.2 753.0h0M233.1 752.6h0M231.8 752.7h0M206.0 750.1h0M212.2 750.0h0M255.0 752.0h0M234.3 753.8h0M202.9 755.2h0M194.3 757.1h0M239.0 755.9h0M212.9 755.0h0M221.2 756.7h0M250.3 757.3h0M248.3 755.7h0M216.5 755.2h0M255.9 754.6h0M197.8 755.0h0M252.2 757.3h0M210.2 757.3h0M249.9 755.6h0M200.3 757.0h0M213.2 754.4h0M217.9 759.5h0M228.9 758.9h0M188.0 759.5h0M213.6 757.9h0M213.0 760.9h0M210.3 760.6h0M231.0 758.7h0M188.0 760.6h0M230.0 759.1h0M200.8 761.3h0M251.2 758.8h0M228.3 760.2h0M209.5 758.0h0M209.7 760.5h0M229.4 759.9h0M201.7 763.1h0M216.2 763.4h0M250.8 762.4h0M256.7 762.9h0M247.5 762.9h0M228.4 763.4h0M189.3 765.1h0M244.2 763.0h0M241.8 763.8h0M256.8 762.1h0M213.6 762.8h0M231.0 765.0h0M246.5 764.1h0M214.1 765.1h0M194.0 762.9h0M240.1 763.7h0M193.1 767.7h0M201.7 765.9h0M193.2 766.3h0M212.8 767.6h0M222.7 767.1h0M236.5 768.0h0M256.4 766.6h0M222.9 767.9h0M213.0 769.3h0M201.5 769.4h0M212.0 767.2h0M230.3 768.2h0M206.8 766.2h0M254.5 767.4h0M194.7 768.5h0M209.9 771.2h0M246.7 771.3h0M216.3 773.7h0M212.3 771.5h0M198.1 772.5h0M233.9 771.7h0M215.5 770.8h0M242.8 771.7h0M245.7 771.4h0M238.8 770.0h0M202.2 773.7h0M235.1 772.6h0M221.9 771.8h0M200.6 770.6h0M232.5 772.7h0M232.4 774.4h0M230.2 774.6h0M222.8 775.2h0M225.8 774.4h0M221.0 776.4h0M196.2 775.1h0M234.9 776.1h0M230.4 777.0h0M227.2 774.8h0M218.1 777.2h0M226.9 776.9h0M212.5 775.7h0M255.6 777.2h0M233.0 774.3h0M230.1 774.0h0M255.7 780.8h0M205.6 781.3h0M199.2 781.2h0M223.6 778.0h0M249.9 779.7h0M245.6 780.7h0M224.5 781.3h0M201.0 781.5h0M210.7 778.0h0M210.5 778.2h0M191.7 780.4h0M195.2 778.5h0M207.4 779.0h0M252.0 781.5h0M248.5 781.9h0M243.2 783.0h0M252.5 785.1h0M238.7 782.8h0M193.1 785.6h0M225.9 784.3h0M247.9 782.5h0M236.3 783.8h0M242.5 783.7h0M200.6 785.7h0M206.6 784.9h0M245.7 782.9h0M236.0 783.5h0M202.5 782.8h0M254.4 783.4h0M222.9 783.9h0M240.2 788.9h0M248.9 787.3h0M201.5 787.3h0M238.7 788.5h0M215.5 788.0h0M197.6 789.6h0M220.1 787.9h0M242.6 786.7h0M238.0 787.3h0M244.4 786.3h0M206.2 788.4h0M220.9 787.4h0M227.7 786.8h0M217.7 785.9h0M243.4 786.9h0M225.9 792.3h0M231.1 790.4h0M241.9 791.1h0M247.9 793.0h0M234.8 793.2h0M217.6 792.6h0M254.3 790.7h0M193.8 791.5h0M222.8 790.5h0M202.3 793.4h0M214.2 790.5h0M199.6 792.2h0M200.1 791.8h0M224.8 791.7h0M246.1 794.0h0M252.7 794.7h0M189.3 797.0h0M227.1 796.1h0M202.1 797.0h0M208.4 796.8h0M202.8 796.2h0M232.7 795.4h0M220.7 794.2h0M232.3 796.7h0M197.5 796.1h0M238.7 794.3h0M246.2 797.4h0M190.2 794.9h0M192.6 794.9h0M221.4 798.9h0M207.9 799.7h0M213.0 801.1h0M238.0 798.4h0M202.5 797.9h0M210.0 798.3h0M236.2 801.0h0M257.4 798.7h0M189.2 800.9h0M215.9 801.6h0M214.5 799.1h0M191.8 801.7h0M223.0 799.7h0M217.7 801.0h0M245.7 799.8h0M215.5 805.5h0M215.6 804.5h0M226.4 803.7h0M227.5 802.9h0M226.2 805.4h0M192.3 803.4h0M249.2 805.8h0M187.5 804.4h0M231.5 805.3h0M220.0 802.4h0M207.9 804.8h0M238.4 802.7h0M232.3 804.5h0M233.4 802.0h0M218.0 803.2h0M210.5 806.4h0M234.3 807.0h0M242.8 807.1h0M225.4 809.1h0M194.8 808.8h0M191.4 809.6h0M188.4 808.8h0M212.8 806.6h0M214.7 807.9h0M216.1 806.4h0M223.8 807.1h0M255.4 807.4h0M217.6 806.8h0M255.5 807.2h0M245.8 811.5h0M240.3 811.0h0M194.4 810.1h0M218.5 813.4h0M201.0 811.7h0M240.8 811.0h0M197.5 812.0h0M216.8 813.7h0M250.4 810.9h0M226.5 811.6h0M189.0 811.7h0M251.7 811.1h0M228.3 812.7h0M191.1 813.6h0M208.0 816.8h0M188.0 815.4h0M195.6 815.8h0M187.7 814.5h0M202.4 814.2h0M193.0 814.7h0M223.4 814.4h0M245.0 815.6h0M204.5 814.9h0M246.3 814.1h0M239.4 814.3h0M253.8 815.5h0M229.1 817.4h0M193.7 814.2h0M235.9 816.3h0M206.4 819.9h0M199.9 819.6h0M206.6 820.2h0M207.9 819.0h0M232.3 818.2h0M243.6 819.9h0M202.9 818.4h0M222.8 819.9h0M237.8 819.4h0M215.9 821.5h0M206.1 821.8h0M250.1 821.9h0M253.7 818.9h0M244.5 820.3h0M257.5 824.5h0M244.2 824.1h0M192.3 825.4h0M199.1 822.9h0M230.4 822.7h0M219.5 824.8h0M193.4 824.5h0M194.0 823.8h0M232.8 824.6h0M189.7 822.7h0M254.9 823.5h0M216.8 823.4h0M236.1 824.9h0M232.8 823.5h0M223.2 826.7h0M254.1 829.8h0M241.9 829.9h0M219.7 829.3h0M203.7 828.9h0M237.4 829.7h0M245.9 829.4h0M205.6 829.0h0M220.4 827.1h0M212.8 829.1h0M246.5 829.3h0M234.2 826.6h0M197.7 828.2h0M201.7 827.2h0M197.6 832.8h0M202.5 833.3h0M210.0 833.3h0M208.1 831.0h0M214.7 829.9h0M217.6 831.4h0M187.5 833.3h0M213.3 829.9h0M254.9 830.8h0M204.6 830.0h0M193.7 832.7h0M228.0 831.9h0M204.1 831.0h0M255.6 831.4h0M249.6 834.4h0M246.9 834.0h0M237.2 837.1h0M236.1 836.1h0M244.4 834.5h0M225.0 835.0h0M215.0 834.7h0M237.0 836.2h0M242.0 836.4h0M229.2 837.6h0M244.4 836.2h0M209.8 837.6h0M213.0 834.3h0M236.8 841.6h0M232.5 840.6h0M253.2 841.0h0M218.3 839.7h0M240.6 839.2h0M194.4 840.4h0M244.1 838.9h0M235.2 841.5h0M195.7 838.4h0M221.7 839.2h0M254.1 841.9h0M218.3 841.1h0M231.5 838.6h0M255.7 838.6h0M218.8 842.0h0M220.8 843.5h0M254.5 843.6h0M247.0 845.0h0M228.3 842.9h0M208.3 843.9h0M214.7 844.5h0M222.5 843.2h0M229.7 845.9h0M201.0 843.2h0M187.5 842.3h0M190.5 843.6h0M246.1 844.7h0M255.3 845.2h0M227.9 846.0h0M213.9 846.9h0M230.7 846.2h0M225.2 847.4h0M221.6 847.5h0M193.9 848.8h0M243.5 848.3h0M194.8 848.3h0M248.5 849.8h0M240.5 846.1h0M249.1 848.6h0M206.3 849.6h0M245.3 849.5h0M204.2 848.2h0M207.6 852.9h0M230.4 851.2h0M225.2 853.6h0M226.9 853.6h0M226.8 853.9h0M188.7 851.7h0M225.9 852.8h0M255.5 852.4h0M220.6 852.4h0M224.5 852.7h0M253.9 850.0h0M209.4 853.4h0M190.8 853.1h0M188.8 852.5h0M203.5 855.4h0M202.7 856.7h0M224.2 856.3h0M209.7 856.2h0M254.5 857.0h0M254.3 854.9h0M223.3 855.4h0M211.2 857.1h0M199.0 856.1h0M241.6 857.6h0M187.9 855.0h0M221.7 857.6h0M198.2 857.3h0M225.5 861.6h0M191.2 859.2h0M197.7 858.4h0M208.2 860.7h0M227.9 858.4h0M243.6 859.9h0M196.8 861.2h0M245.0 858.8h0M253.4 861.1h0M202.9 857.9h0M248.3 861.2h0M193.5 861.0h0M241.6 860.4h0M245.8 861.8h0M245.9 865.6h0M208.9 864.6h0M235.3 865.3h0M226.9 863.0h0M204.5 864.1h0M196.2 865.3h0M249.8 862.9h0M236.2 864.6h0M195.3 865.0h0M241.1 863.1h0M193.6 863.0h0M241.5 863.8h0M244.6 862.5h0M211.4 869.4h0M198.1 866.2h0M240.1 866.3h0M234.1 866.2h0M204.2 868.6h0M248.7 867.5h0M218.6 866.0h0M210.8 866.9h0M242.7 868.8h0M242.4 868.0h0M236.3 866.4h0M214.0 867.1h0M206.7 868.9h0M201.8 867.2h0M248.0 872.5h0M220.8 871.4h0M252.1 873.7h0M218.6 872.2h0M247.9 870.9h0M205.0 870.3h0M222.3 873.0h0M197.7 871.6h0M257.0 871.8h0M213.8 873.3h0M250.0 871.4h0M195.4 872.4h0M239.2 873.6h0M208.5 876.0h0M207.1 875.7h0M219.9 877.5h0M251.0 877.6h0M220.6 877.8h0M196.5 877.6h0M232.1 877.4h0M216.0 877.9h0M188.4 877.3h0M244.9 875.4h0M245.5 874.8h0M240.1 875.8h0M215.8 874.7h0M238.6 878.3h0M256.1 878.8h0M213.3 879.6h0M227.6 881.5h0M253.8 880.4h0M212.6 878.3h0M191.5 880.0h0M228.1 879.7h0M256.5 879.6h0M211.6 879.6h0M198.8 881.7h0M228.6 880.1h0M216.9 878.9h0M221.7 883.7h0M256.2 884.2h0M201.3 882.1h0M197.9 883.3h0M242.2 885.5h0M203.4 885.0h0M218.0 884.1h0M224.5 882.1h0M191.3 884.6h0M235.6 883.4h0M251.9 885.2h0M208.1 882.2h0M225.9 884.5h0M189.7 887.4h0M189.0 888.1h0M231.1 886.7h0M218.3 886.6h0M199.8 886.4h0M244.6 887.3h0M237.5 886.9h0M244.0 887.7h0M233.1 887.1h0M226.5 886.5h0M234.4 891.0h0M232.0 889.3h0M210.4 889.8h0M246.5 889.0h0M218.2 892.4h0M242.2 891.8h0M208.0 889.8h0M236.7 890.1h0M238.0 890.3h0M240.7 891.2h0M244.6 892.8h0M256.7 892.9h0M249.0 893.0h0M225.4 894.5h0M241.3 894.2h0M201.4 896.0h0M225.7 895.9h0M221.4 893.0h0M241.4 893.8h0M220.1 892.9h0M205.0 895.6h0M240.9 895.4h0M218.1 895.8h0M201.2 899.0h0M229.1 899.8h0M200.7 898.1h0M211.0 897.3h0M211.4 899.8h0M227.7 897.6h0M238.6 897.4h0M240.0 897.5h0M193.5 897.9h0M223.2 898.0h0M249.5 900.7h0M206.7 899.9h0M226.5 901.9h0M254.1 904.7h0M187.5 902.2h0M209.4 901.7h0M217.2 904.5h0M188.3 904.2h0M208.6 901.0h0M250.6 902.0h0M201.7 901.4h0M212.7 901.4h0M199.4 901.9h0M218.3 906.1h0M224.0 908.0h0M238.1 906.3h0M251.9 908.1h0M226.5 906.8h0M210.0 905.4h0M249.6 907.3h0M193.6 908.6h0M249.7 905.0h0M236.4 905.9h0M224.7 908.2h0M211.5 906.9h0M200.3 911.4h0M216.8 912.8h0M199.9 911.7h0M189.5 910.0h0M195.0 909.5h0M224.2 909.6h0M243.1 909.3h0M230.9 912.3h0M195.6 909.8h0M241.0 910.8h0M252.9 910.3h0M254.7 914.3h0M255.3 916.5h0M200.8 915.1h0M253.5 913.4h0M246.9 916.0h0M239.9 915.3h0M193.7 916.7h0M193.9 916.0h0M238.0 914.2h0M235.3 914.5h0M240.0 913.1h0M253.0 914.4h0M220.1 920.1h0M208.0 919.1h0M188.4 918.9h0M192.2 920.3h0M234.8 918.6h0M255.9 920.7h0M254.6 917.2h0M236.7 919.8h0M229.7 917.0h0M252.3 918.7h0M228.9 920.2h0M188.7 924.6h0M205.8 921.1h0M196.3 924.9h0M239.2 921.7h0M197.0 924.5h0M233.9 923.2h0M195.9 922.6h0M253.9 920.9h0M216.4 921.1h0M257.5 921.3h0M254.4 924.3h0M189.6 927.7h0M221.7 926.9h0M196.9 926.9h0M243.6 925.4h0M248.9 926.6h0M205.5 925.9h0M219.3 927.5h0M227.1 928.5h0M223.0 927.0h0M256.9 925.8h0M187.8 926.2h0M195.4 930.6h0M189.1 932.6h0M221.0 932.4h0M236.2 931.8h0M240.5 930.1h0M238.4 929.7h0M226.0 931.3h0M241.7 929.6h0M211.1 932.2h0M243.8 932.8h0M195.0 929.7h0M238.1 935.9h0M232.7 936.0h0M223.3 935.1h0M252.1 935.5h0M233.2 935.3h0M221.7 935.9h0M227.3 933.4h0M216.9 934.6h0M217.3 935.1h0M212.3 934.5h0M216.9 934.4h0M193.0 937.0h0M237.9 938.5h0M218.5 939.3h0M212.7 937.9h0M187.7 940.4h0M253.4 938.0h0M219.7 938.2h0M190.7 940.5h0M246.1 937.9h0M204.7 939.7h0M220.0 942.4h0M203.2 944.1h0M248.0 944.3h0M194.7 943.3h0M256.6 943.8h0M219.3 941.5h0M190.9 943.8h0M191.5 944.1h0M233.9 942.8h0M250.0 944.6h0M193.7 947.3h0M216.5 945.9h0M252.6 947.8h0M195.3 945.8h0M211.0 947.2h0M209.7 946.7h0M244.4 945.6h0M237.8 946.2h0M253.8 948.7h0M209.9 947.3h0M194.5 946.5h0M232.0 950.3h0M189.0 949.4h0M226.5 949.6h0M208.4 951.4h0M250.6 951.0h0M204.7 951.2h0M206.2 952.0h0M197.7 949.9h0M217.8 952.5h0M198.4 949.7h0M201.8 954.2h0M214.7 955.9h0M215.3 954.8h0M214.8 956.0h0M250.8 954.6h0M252.1 953.9h0M256.1 955.0h0M235.1 954.4h0M205.9 953.4h0M249.5 954.3h0M236.3 954.7h0M201.3 957.6h0M210.5 959.6h0M225.2 956.9h0M237.1 958.6h0M191.5 957.9h0M201.6 960.2h0M225.7 958.2h0M204.3 958.1h0M206.5 958.3h0M242.8 960.1h0M249.5 963.5h0M194.7 961.1h0M198.3 961.9h0M224.2 964.2h0M228.2 962.6h0M203.8 964.8h0M240.2 962.3h0M189.9 964.8h0M204.8 964.3h0M194.9 963.5h0M249.8 966.1h0M193.8 965.7h0M243.9 968.8h0M232.3 967.6h0M206.7 966.0h0M192.8 968.8h0M189.7 967.3h0M211.5 965.6h0M217.6 968.6h0M204.2 965.6h0M233.3 970.9h0M199.4 972.4h0M194.5 969.6h0M203.8 971.0h0M220.5 971.1h0M238.3 972.5h0M219.9 969.1h0M245.7 969.0h0M209.2 969.5h0M229.4 972.0h0M207.5 976.3h0M235.6 973.3h0M235.4 976.1h0M215.6 973.5h0M233.5 974.2h0M196.1 973.6h0M215.2 973.4h0M214.0 975.1h0M225.9 974.5h0M243.5 973.3h0M253.0 980.4h0M252.1 980.0h0M224.7 980.1h0M227.3 977.4h0M204.8 977.3h0M248.8 978.2h0M215.6 979.1h0M193.8 979.7h0M243.2 980.1h0M249.2 978.2h0M240.7 983.7h0M213.0 982.3h0M197.5 984.2h0M219.4 984.1h0M210.8 982.2h0M223.1 983.9h0M249.4 982.3h0M235.9 982.5h0M247.9 983.9h0M226.1 982.4h0M249.5 988.1h0M208.3 985.2h0M200.5 988.8h0M189.4 988.1h0M224.2 987.1h0M225.0 986.5h0M226.2 985.3h0M252.0 985.3h0M196.5 987.6h0M232.2 988.1h0M252.8 989.1h0M187.4 989.8h0M242.0 989.5h0M224.4 992.0h0M197.7 991.0h0M250.6 991.9h0M214.9 990.8h0M206.4 992.7h0M242.2 991.6h0M208.2 991.8h0M243.4 994.4h0M249.3 995.6h0M218.6 995.2h0M243.8 995.0h0M254.9 992.9h0M250.4 995.8h0M221.4 996.3h0M197.2 994.3h0M237.4 996.2h0M213.1 996.9h0M189.8 997.4h0M192.0 999.2h0M209.5 997.9h0M218.4 997.2h0M251.2 1000.3h0M226.3 998.7h0M208.5 999.3h0M211.3 1000.8h0M254.6 999.8h0M192.0 1001.4h0M211.2 1001.4h0M216.6 1004.8h0M245.9 1004.7h0M202.4 1001.8h0M188.3 1002.0h0M190.6 1003.0h0M208.0 1003.6h0M226.5 1003.3h0M238.8 1007.7h0M237.4 1006.8h0M219.6 1006.0h0M189.5 1006.8h0M230.4 1005.6h0M247.7 1008.4h0M247.3 1008.2h0M221.3 1005.6h0M205.9 1007.9h0M256.6 1005.3h0M211.7 1010.3h0M229.1 1009.3h0M246.6 1010.3h0M251.2 1010.2h0M208.3 1009.6h0M255.3 1011.3h0M245.3 1009.2h0M225.2 1011.8h0M256.6 1012.6h0M194.0 1010.4h0M224.6 1013.9h0M204.6 1012.9h0M205.4 1016.1h0M212.2 1016.2h0M253.0 1017.7h0M249.0 1014.9h0M187.9 1019.6h0M253.7 1018.9h0M212.7 1020.2h0M203.4 1020.7h0M193.4 1025.6h0M191.7 1024.7h0M211.4 1022.5h0M192.1 1025.9h0M219.2 1029.1h0M255.6 1029.6h0M224.5 1027.0h0M223.5 1029.8h0M234.2 1033.3h0M215.7 1032.1h0M246.9 1030.7h0M247.7 1030.0h0M227.5 1034.5h0M252.2 1035.7h0M199.8 1035.5h0M228.6 1035.6h0M193.2 1040.8h0M196.0 1038.9h0M244.0 1041.3h0M249.3 1038.6h0M240.2 1044.3h0M212.5 1042.0h0M217.3 1042.8h0M228.4 1045.8h0M191.9 1048.7h0M194.3 1046.8h0M217.8 1049.8h0M209.1 1051.8h0M198.1 1051.5h0M236.4 1051.2h0M199.7 1054.3h0M231.2 1055.7h0M194.1 1060.9h0M234.2 1059.4h0M230.1 1063.4h0M220.2 1066.6h0M216.7 1068.6h0M225.7 1075.5h0M210.0 1080.8h0M239.1 1084.9h0M253.4 1097.6h0M211.2 1111.8h0M208.4 1113.8h0M277.5 642.0h0M347.1 647.9h0M277.2 651.0h0M347.5 646.4h0M276.6 668.6h0M347.0 664.5h0M276.4 668.0h0M347.2 643.9h0M276.5 647.2h0M347.0 648.1h0M277.0 647.9h0M346.6 687.1h0M276.8 642.8h0M346.3 643.5h0M277.2 680.5h0M346.9 687.9h0M276.6 678.5h0M346.4 688.2h0M277.4 662.9h0M346.9 685.6h0M276.9 652.9h0M347.5 650.1h0M276.6 690.0h0M347.1 658.3h0M277.6 676.9h0M347.0 644.7h0M276.8 654.9h0M346.4 662.0h0M277.6 653.8h0M347.4 688.4h0M276.5 682.2h0M346.8 654.5h0M277.4 662.5h0M346.3 669.6h0M277.5 690.1h0M347.0 676.9h0M277.3 674.9h0M347.5 676.7h0M277.3 649.6h0M347.4 642.6h0M277.1 644.7h0M346.5 661.7h0M277.6 679.3h0M347.0 648.9h0M276.9 672.3h0M346.5 688.0h0M276.8 640.2h0M346.7 676.7h0M277.2 683.1h0M346.5 673.3h0M277.4 645.8h0M346.4 675.6h0M276.5 648.2h0M346.7 655.7h0M343.0 689.6h0M310.9 690.9h0M343.2 689.7h0M339.8 692.2h0M316.9 693.6h0M339.2 692.4h0M315.2 688.2h0M292.1 691.8h0M284.7 691.8h0M301.1 690.2h0M334.9 692.9h0M329.6 690.6h0M314.5 693.8h0M342.2 691.5h0M282.0 693.3h0M279.6 688.6h0M323.3 689.1h0M330.0 692.0h0M288.2 693.4h0M347.4 691.8h0M346.2 692.7h0M310.0 692.8h0M343.1 692.1h0M282.3 690.1h0M326.4 690.1h0M288.2 690.6h0M286.4 690.7h0M283.4 692.3h0M291.5 693.5h0M284.0 691.7h0M322.2 689.1h0M321.0 691.2h0M289.6 695.8h0M335.8 696.4h0M293.7 695.2h0M338.9 694.1h0M310.4 696.0h0M307.0 693.9h0M284.0 697.3h0M308.8 695.1h0M308.5 694.1h0M282.2 697.2h0M330.4 694.7h0M299.0 694.2h0M313.4 700.9h0M312.4 701.3h0M347.4 700.2h0M279.5 698.4h0M324.2 698.4h0M340.3 698.1h0M280.3 701.9h0M305.3 700.1h0M318.8 698.4h0M300.3 699.4h0M328.9 701.0h0M325.8 698.6h0M341.5 702.6h0M301.2 704.4h0M347.2 702.0h0M325.5 703.7h0M314.0 705.3h0M283.2 704.3h0M298.9 704.9h0M327.2 703.6h0M287.2 705.0h0M326.2 704.2h0M329.4 705.7h0M293.8 704.7h0M295.3 709.5h0M298.7 709.7h0M317.8 709.8h0M339.3 709.0h0M302.7 707.7h0M318.1 709.1h0M306.0 709.5h0M291.8 708.0h0M286.7 706.6h0M297.1 706.1h0M316.9 708.4h0M333.1 712.1h0M325.0 710.2h0M299.8 710.0h0M287.8 713.3h0M286.0 712.3h0M303.2 712.6h0M338.4 713.2h0M345.0 713.8h0M304.7 713.9h0M330.6 711.0h0M299.7 712.0h0M283.4 717.5h0M324.1 716.3h0M305.3 715.4h0M305.3 716.8h0M307.9 716.8h0M338.7 714.2h0M277.7 717.7h0M290.1 717.2h0M305.2 714.8h0M277.3 715.6h0M280.3 717.9h0M296.8 721.4h0M329.7 718.9h0M305.1 719.6h0M326.8 719.0h0M301.6 719.9h0M293.3 719.6h0M329.6 719.9h0M280.4 719.3h0M316.9 718.8h0M316.2 723.4h0M289.4 725.4h0M281.1 725.5h0M283.2 724.1h0M315.2 723.5h0M320.9 725.4h0M299.1 722.1h0M290.6 725.4h0M319.0 724.9h0M299.4 728.7h0M316.8 729.6h0M287.8 727.3h0M325.5 729.5h0M309.6 729.1h0M284.2 728.5h0M299.8 728.7h0M297.5 726.6h0M295.5 728.8h0M341.3 731.6h0M281.1 733.1h0M294.6 732.8h0M311.2 731.7h0M278.6 730.8h0M329.6 731.7h0M339.1 733.1h0M314.4 733.8h0M304.9 736.0h0M280.2 737.4h0M287.0 736.2h0M295.7 735.4h0M309.5 735.1h0M288.6 736.6h0M320.9 734.2h0M345.6 734.3h0M296.4 739.4h0M311.3 741.5h0M283.6 740.2h0M320.8 738.9h0M301.7 739.7h0M339.5 741.0h0M310.5 738.2h0M301.8 741.2h0M304.2 744.5h0M279.3 744.5h0M325.1 742.4h0M306.1 745.3h0M295.1 744.0h0M301.0 744.1h0M304.2 743.3h0M325.6 748.9h0M300.2 747.3h0M302.4 748.5h0M302.5 747.9h0M289.0 747.5h0M341.4 750.4h0M344.1 751.2h0M300.7 751.1h0M342.6 751.7h0M316.7 755.4h0M286.4 756.2h0M321.9 755.5h0M330.7 759.0h0M299.2 760.9h0M331.3 759.6h0M336.1 759.7h0M344.3 764.5h0M324.1 762.6h0M312.0 761.1h0M335.5 767.3h0M309.5 768.1h0M277.9 766.5h0M319.6 770.3h0M319.6 772.5h0M305.6 769.4h0M335.8 774.8h0M307.8 773.0h0M283.7 772.9h0M279.8 778.2h0M310.0 779.2h0M322.3 783.5h0M346.4 781.3h0M297.4 781.3h0M291.6 785.0h0M333.8 786.0h0M318.1 804.3h0M334.9 815.0h0M311.7 818.8h0M324.2 824.2h0M305.2 832.0h0M312.3 835.6h0M277.6 843.7h0M319.2 847.0h0M345.6 855.9h0M327.6 862.4h0M343.8 874.7h0M327.2 877.5h0M339.5 885.5h0M318.4 889.9h0M290.6 895.8h0M279.8 907.2h0M327.3 911.1h0M280.8 935.7h0M286.3 960.7h0M311.4 978.9h0M332.3 981.9h0M296.6 992.2h0M327.9 994.0h0M334.9 1008.7h0M278.2 1014.7h0M305.0 1037.2h0M289.6 1051.1h0M307.1 1061.8h0M308.3 1084.8h0M314.8 1087.5h0M366.6 641.2h0M436.2 647.0h0M366.6 702.2h0M437.3 666.8h0M366.8 685.2h0M436.5 705.2h0M366.7 644.6h0M437.1 639.2h0M366.6 681.1h0M436.3 645.7h0M366.6 699.4h0M436.7 666.1h0M366.4 642.7h0M437.1 680.8h0M366.4 673.1h0M436.4 639.1h0M366.6 667.0h0M436.7 688.9h0M367.1 668.4h0M437.0 681.5h0M366.9 702.1h0M436.8 678.7h0M367.1 671.7h0M436.8 684.0h0M367.0 706.8h0M437.0 672.5h0M367.5 694.3h0M436.7 659.6h0M366.5 667.2h0M436.9 668.3h0M366.6 671.6h0M436.7 645.8h0M367.1 687.2h0M437.2 655.8h0M366.3 671.0h0M436.6 666.9h0M367.0 680.0h0M437.3 642.6h0M366.9 701.8h0M436.6 669.2h0M366.6 647.9h0M436.6 690.9h0M366.8 644.7h0M437.1 687.0h0M367.2 666.1h0M436.3 665.4h0M366.3 652.8h0M436.3 686.9h0M366.4 658.4h0M436.9 671.6h0M366.3 701.6h0M436.8 656.8h0M366.3 677.7h0M436.3 687.8h0M367.3 698.3h0M436.6 642.8h0M366.7 678.5h0M436.9 653.7h0M366.4 697.8h0M436.6 659.2h0M366.9 698.2h0M437.2 681.7h0M366.6 700.4h0M436.4 703.4h0M366.8 673.4h0M437.0 662.8h0M367.4 704.8h0M436.2 700.7h0M401.1 704.9h0M430.9 703.5h0M431.6 705.7h0M386.5 703.1h0M415.4 701.9h0M384.5 702.1h0M373.9 706.3h0M437.2 705.8h0M402.1 705.4h0M415.1 703.5h0M403.3 701.7h0M383.5 703.0h0M391.7 704.9h0M383.5 702.3h0M428.5 705.6h0M432.6 705.6h0M380.2 703.8h0M425.6 705.7h0M382.5 703.8h0M408.2 701.0h0M383.6 705.3h0M413.7 703.6h0M406.9 704.1h0M390.9 701.4h0M419.1 705.5h0M397.2 705.5h0M425.1 705.0h0M423.8 706.7h0M369.1 706.6h0M398.5 705.6h0M418.7 701.5h0M408.0 701.4h0M390.4 708.4h0M385.7 710.1h0M411.9 708.1h0M419.0 707.6h0M423.3 709.3h0M420.8 709.4h0M436.4 709.7h0M399.3 709.3h0M406.6 708.0h0M388.1 710.1h0M424.5 710.8h0M415.1 708.9h0M394.4 709.7h0M433.4 713.9h0M393.6 712.0h0M369.5 714.0h0M396.7 712.5h0M370.1 712.9h0M430.2 712.0h0M419.2 713.9h0M413.2 713.3h0M384.0 713.6h0M407.9 714.8h0M402.9 712.3h0M430.7 713.4h0M390.6 713.5h0M379.7 718.4h0M399.2 718.1h0M381.6 716.8h0M383.2 718.1h0M408.8 716.5h0M393.6 715.7h0M381.3 717.7h0M388.5 715.3h0M393.7 716.7h0M436.6 716.4h0M395.0 718.8h0M417.6 716.7h0M394.6 715.8h0M399.9 721.5h0M373.8 720.8h0M378.6 721.3h0M390.8 721.6h0M422.0 720.5h0M393.5 719.2h0M381.4 721.4h0M423.7 719.5h0M435.7 722.6h0M392.3 721.1h0M414.1 720.2h0M392.3 721.8h0M400.8 720.6h0M374.6 724.8h0M387.2 723.6h0M403.6 725.7h0M403.7 724.9h0M413.9 724.6h0M436.1 723.8h0M366.9 725.2h0M415.7 724.4h0M394.7 724.3h0M383.6 726.1h0M427.7 724.0h0M406.4 724.7h0M418.5 729.0h0M436.7 730.5h0M430.5 727.9h0M374.1 730.1h0M374.0 729.6h0M378.8 729.7h0M370.1 727.3h0M428.0 729.0h0M398.3 730.8h0M422.1 727.8h0M416.5 728.4h0M399.3 728.2h0M387.8 732.0h0M379.7 734.4h0M393.2 733.1h0M424.0 733.6h0M377.4 734.7h0M432.5 734.3h0M389.7 734.2h0M411.9 731.0h0M393.1 733.7h0M405.0 734.7h0M422.5 734.2h0M390.7 738.5h0M366.5 738.1h0M372.5 736.9h0M397.7 735.2h0M411.6 738.1h0M382.2 735.9h0M421.1 737.0h0M367.6 736.1h0M433.4 736.0h0M386.9 736.7h0M423.8 740.4h0M413.7 739.0h0M370.9 740.4h0M411.4 739.5h0M369.3 742.3h0M379.5 739.1h0M372.4 739.2h0M386.6 741.2h0M413.0 740.0h0M402.9 740.2h0M374.1 745.4h0M366.3 746.6h0M381.2 745.1h0M379.7 744.7h0M385.1 745.5h0M421.7 746.3h0M435.6 744.7h0M405.4 744.3h0M386.8 744.9h0M435.5 743.1h0M389.3 749.3h0M385.2 749.8h0M401.6 748.1h0M398.2 746.9h0M373.3 750.5h0M372.2 748.5h0M413.9 747.0h0M432.5 747.7h0M434.7 748.6h0M409.2 751.3h0M402.3 753.9h0M422.4 753.8h0M414.7 751.4h0M395.4 752.9h0M369.2 754.0h0M373.6 753.2h0M385.3 751.6h0M434.0 753.4h0M409.4 757.2h0M428.3 755.2h0M393.2 755.8h0M408.7 756.5h0M431.8 755.8h0M385.4 758.6h0M417.6 756.6h0M392.8 757.8h0M376.9 757.8h0M423.6 759.2h0M431.3 762.3h0M368.0 759.5h0M431.3 762.2h0M423.2 765.2h0M383.9 765.7h0M395.8 763.5h0M426.8 765.8h0M396.7 769.6h0M392.7 767.9h0M403.7 770.7h0M373.1 767.9h0M436.3 774.9h0M366.9 773.5h0M376.1 771.7h0M375.9 772.9h0M435.0 776.4h0M430.2 777.7h0M371.6 778.5h0M435.9 779.4h0M430.3 781.0h0M402.9 779.6h0M401.0 781.9h0M436.0 785.0h0M430.6 783.4h0M418.7 785.3h0M390.2 788.8h0M424.1 787.9h0M392.7 790.3h0M401.1 791.0h0M420.6 792.6h0M383.2 792.4h0M426.1 798.1h0M435.0 797.6h0M377.8 796.6h0M366.4 800.3h0M376.9 799.6h0M410.3 803.2h0M428.0 804.6h0M378.6 803.3h0M391.1 808.9h0M374.0 808.3h0M402.2 807.2h0M426.1 813.3h0M375.5 813.4h0M376.4 814.9h0M404.0 815.6h0M386.1 815.4h0M376.6 821.6h0M423.6 820.7h0M390.0 826.2h0M415.0 823.2h0M376.3 827.9h0M400.7 831.5h0M370.2 838.7h0M385.1 879.7h0M378.5 895.5h0M401.5 898.0h0M412.8 903.4h0M429.9 911.7h0M368.0 939.8h0M381.3 946.7h0M380.6 957.7h0M429.5 966.5h0M395.8 969.5h0M395.9 978.4h0M382.1 984.9h0M430.2 1031.9h0M394.1 1043.2h0M426.6 1051.5h0M413.5 1060.5h0M457.0 660.5h0M527.0 666.2h0M456.9 653.8h0M527.4 664.6h0M457.5 639.1h0M527.6 643.4h0M457.3 663.7h0M527.3 641.4h0M457.3 658.6h0M527.2 647.6h0M457.0 646.3h0M526.7 651.1h0M457.5 656.5h0M527.4 647.8h0M457.4 666.5h0M526.6 643.8h0M456.9 642.1h0M527.5 651.3h0M457.5 668.2h0M527.0 643.6h0M457.1 643.5h0M527.4 657.3h0M457.2 644.4h0M527.4 667.6h0M457.4 658.1h0M527.3 648.5h0M457.5 639.4h0M526.9 669.5h0M457.4 640.4h0M527.7 664.0h0M456.8 652.4h0M526.9 660.5h0M477.1 669.0h0M521.6 667.7h0M484.8 669.0h0M518.7 669.0h0M522.5 669.6h0M524.6 666.4h0M504.5 666.2h0M465.0 666.9h0M523.8 666.7h0M478.6 670.5h0M526.4 669.4h0M481.7 669.8h0M461.3 665.0h0M461.1 666.9h0M473.8 670.1h0M488.4 670.0h0M491.3 667.1h0M480.7 665.2h0M488.9 670.6h0M525.7 670.5h0M463.6 667.6h0M515.9 665.8h0M461.2 666.1h0M462.6 669.3h0M507.3 670.8h0M460.2 669.1h0M513.0 666.0h0M462.2 670.8h0M512.8 665.3h0M469.9 668.9h0M468.8 667.5h0M467.3 665.4h0M495.2 674.3h0M456.9 672.3h0M461.7 673.1h0M468.4 672.2h0M525.5 673.5h0M504.1 673.3h0M470.9 673.6h0M525.6 671.3h0M516.2 672.3h0M470.9 673.5h0M517.1 671.6h0M470.6 672.9h0M492.6 678.9h0M458.4 676.6h0M471.0 675.6h0M498.5 678.7h0M490.0 677.1h0M506.3 678.3h0M525.3 676.2h0M469.2 678.6h0M499.6 678.4h0M467.0 678.1h0M465.0 675.4h0M482.3 680.6h0M503.4 682.7h0M487.1 681.2h0M485.8 680.4h0M475.4 678.9h0M474.8 681.8h0M513.4 681.6h0M488.0 680.5h0M470.0 679.9h0M527.5 681.3h0M485.3 681.0h0M477.5 684.6h0M487.2 686.5h0M519.9 684.1h0M489.0 683.8h0M524.3 683.4h0M490.8 682.9h0M489.4 684.7h0M457.6 683.5h0M492.1 684.8h0M460.4 688.2h0M481.3 687.3h0M499.2 687.8h0M494.4 689.7h0M457.6 688.9h0M501.9 690.5h0M505.7 690.3h0M503.7 687.8h0M514.4 689.9h0M522.4 691.1h0M521.2 692.3h0M495.2 694.1h0M468.5 692.9h0M457.7 691.0h0M524.6 691.8h0M486.9 691.4h0M522.9 692.9h0M475.9 695.8h0M474.2 696.1h0M506.9 696.0h0M478.6 700.7h0M458.0 697.6h0M504.1 700.8h0M516.9 697.9h0M489.1 703.2h0M502.6 703.4h0M519.1 704.5h0M479.1 704.5h0M505.2 705.5h0M501.9 706.1h0M527.3 707.6h0M484.1 708.7h0M509.7 711.5h0M457.8 710.7h0M464.9 712.9h0M463.7 711.4h0M465.5 716.6h0M497.4 715.4h0M475.3 713.5h0M459.1 717.7h0M491.9 718.5h0M510.7 717.5h0M493.8 723.6h0M479.0 721.7h0M465.5 722.4h0M513.3 725.9h0M480.8 727.9h0M471.3 725.1h0M476.7 738.7h0M512.5 744.4h0M516.3 752.6h0M504.1 753.6h0M509.3 766.1h0M493.1 769.2h0M517.2 775.2h0M471.7 779.1h0M520.8 781.6h0M488.4 786.4h0M483.9 791.1h0M479.4 795.0h0M481.2 801.0h0M481.1 805.4h0M500.4 810.3h0M461.1 817.1h0M499.6 823.1h0M481.1 827.8h0M494.2 829.8h0M490.7 832.9h0M475.5 859.7h0M479.6 861.4h0M471.2 879.4h0M519.6 884.6h0M496.6 892.0h0M502.8 895.3h0M519.9 911.3h0M464.2 919.1h0M525.5 921.8h0M470.2 931.2h0M527.3 935.4h0M478.6 937.3h0M494.1 942.2h0M514.9 951.6h0M515.6 953.0h0M458.6 960.7h0M520.6 973.0h0M519.9 988.0h0M467.9 993.2h0M494.3 1005.2h0M547.0 674.5h0M616.3 676.2h0M547.2 656.4h0M616.3 669.9h0M547.4 655.7h0M616.6 683.7h0M547.1 675.2h0M617.1 647.0h0M546.6 672.8h0M617.3 673.2h0M546.3 649.0h0M617.0 667.4h0M547.1 688.1h0M617.0 643.4h0M547.2 669.6h0M616.2 676.1h0M546.4 657.7h0M617.0 662.3h0M546.5 683.7h0M616.2 648.7h0M547.4 688.9h0M616.8 684.4h0M547.3 677.1h0M616.9 671.6h0M547.1 656.6h0M616.7 643.5h0M546.4 680.3h0M616.9 675.4h0M546.7 675.9h0M617.0 643.4h0M547.0 652.3h0M617.1 663.0h0M546.8 685.2h0M616.5 661.5h0M546.7 670.1h0M617.1 654.4h0M546.9 687.8h0M616.6 649.8h0M547.4 680.3h0M617.0 658.1h0M546.2 678.5h0M617.0 681.9h0M547.1 679.3h0M616.6 651.5h0M546.2 669.8h0M617.3 665.9h0M547.1 646.2h0M616.8 667.0h0M546.4 649.4h0M616.6 647.9h0M546.4 650.4h0M616.2 685.6h0M554.1 688.3h0M575.4 685.1h0M564.1 688.8h0M547.6 690.7h0M566.5 687.0h0M613.7 685.7h0M555.5 687.7h0M568.5 686.8h0M587.6 690.6h0M575.7 685.2h0M572.7 690.0h0M577.0 685.3h0M564.0 686.3h0M571.1 686.8h0M593.9 689.2h0M549.4 685.8h0M604.7 690.2h0M602.3 686.0h0M595.5 685.4h0M594.2 686.2h0M605.9 690.0h0M579.4 689.3h0M613.4 690.3h0M592.2 688.6h0M571.6 689.0h0M556.2 687.6h0M552.3 685.5h0M593.7 687.5h0M561.0 690.6h0M566.9 688.1h0M581.1 686.0h0M616.8 689.5h0M567.5 694.5h0M610.9 694.7h0M558.8 691.5h0M552.1 691.3h0M596.1 691.1h0M579.2 692.3h0M598.0 691.1h0M597.4 694.7h0M567.3 692.5h0M598.9 692.1h0M606.4 694.9h0M562.0 692.8h0M556.6 693.1h0M615.3 697.8h0M616.7 698.1h0M604.8 696.4h0M593.5 695.4h0M570.9 698.6h0M615.9 695.6h0M581.4 696.5h0M590.3 697.3h0M564.8 698.4h0M578.2 698.0h0M597.5 698.8h0M582.8 697.3h0M601.1 695.8h0M604.0 701.7h0M599.5 702.1h0M560.5 702.4h0M591.7 702.7h0M585.7 702.4h0M550.2 699.6h0M585.5 701.6h0M573.6 699.2h0M609.2 699.2h0M609.4 699.8h0M596.4 701.3h0M563.0 700.2h0M563.4 701.0h0M584.9 704.0h0M554.8 705.7h0M564.8 706.7h0M575.0 703.9h0M597.3 706.5h0M572.5 705.8h0M569.8 706.9h0M567.5 703.0h0M546.5 705.1h0M590.6 704.0h0M575.6 704.5h0M572.0 703.7h0M593.6 707.0h0M608.8 707.9h0M580.0 707.8h0M594.1 708.5h0M587.5 708.5h0M582.3 707.2h0M616.0 708.6h0M569.7 710.3h0M567.1 710.1h0M576.4 707.4h0M587.0 708.0h0M560.5 710.9h0M579.7 714.1h0M593.8 712.1h0M555.4 713.2h0M559.8 713.9h0M588.5 711.8h0M601.4 714.8h0M580.3 714.8h0M578.2 711.0h0M579.1 712.3h0M611.4 713.0h0M614.5 711.6h0M547.2 715.1h0M596.8 715.0h0M562.0 716.6h0M611.7 715.8h0M546.5 717.7h0M595.7 715.5h0M612.2 718.4h0M612.8 718.2h0M585.1 717.7h0M555.0 717.5h0M571.4 716.2h0M552.0 722.1h0M600.5 718.9h0M582.7 719.0h0M585.0 719.6h0M614.5 720.2h0M583.4 719.9h0M610.5 718.9h0M567.7 719.8h0M599.3 720.4h0M607.5 720.2h0M555.2 720.7h0M557.0 725.0h0M587.0 723.8h0M559.0 725.0h0M577.9 724.8h0M593.9 723.5h0M547.0 723.2h0M602.7 725.7h0M557.1 724.2h0M568.1 726.6h0M575.5 725.8h0M549.1 727.8h0M591.8 728.7h0M608.2 730.2h0M593.4 730.9h0M614.5 730.4h0M552.6 728.5h0M556.5 729.3h0M582.1 727.3h0M551.8 728.8h0M590.6 728.5h0M591.3 733.7h0M596.5 732.6h0M558.4 734.4h0M549.1 731.7h0M559.7 733.3h0M590.4 731.3h0M582.8 733.2h0M595.0 731.2h0M597.9 732.0h0M555.0 738.3h0M590.1 738.2h0M582.8 735.3h0M574.7 735.2h0M553.2 738.1h0M546.2 736.5h0M549.2 738.0h0M616.6 735.0h0M572.1 738.8h0M568.2 742.8h0M611.7 740.4h0M593.9 742.1h0M571.4 738.9h0M572.8 741.7h0M614.8 740.7h0M575.4 740.4h0M589.4 739.0h0M611.1 742.7h0M546.6 743.5h0M556.6 744.4h0M608.1 744.0h0M613.3 743.4h0M560.1 743.7h0M560.3 748.6h0M599.6 746.1h0M562.3 746.0h0M574.3 747.5h0M613.7 749.2h0M560.1 750.4h0M613.9 750.7h0M597.3 752.2h0M573.0 756.0h0M591.7 756.9h0M565.4 756.7h0M580.8 756.4h0M586.3 760.3h0M551.9 758.0h0M580.9 760.2h0M601.6 761.3h0M571.1 762.8h0M597.0 763.0h0M606.6 763.7h0M583.2 766.5h0M608.2 766.1h0M559.0 765.9h0M603.8 771.6h0M563.6 770.6h0M609.8 772.7h0M613.3 773.1h0M617.2 774.2h0M614.1 773.0h0M611.9 780.2h0M586.9 777.5h0M563.1 780.7h0M561.9 782.3h0M589.8 782.1h0M561.4 784.4h0M591.2 786.5h0M579.6 788.4h0M599.2 788.0h0M603.8 792.1h0M546.2 789.8h0M598.1 792.4h0M609.4 793.3h0M564.7 796.2h0M602.6 793.8h0M577.4 799.9h0M574.5 798.2h0M595.7 802.3h0M597.0 801.9h0M559.5 806.3h0M576.0 805.3h0M571.2 810.2h0M582.2 812.5h0M555.8 814.3h0M600.2 820.9h0M574.7 822.6h0M574.6 829.0h0M577.3 830.2h0M585.6 836.5h0M562.7 842.1h0M548.7 845.9h0M584.4 851.7h0M552.4 858.5h0M615.9 864.9h0M570.8 867.6h0M566.3 870.5h0M608.8 877.8h0M595.1 882.7h0M546.4 887.2h0M583.7 890.8h0M584.6 894.7h0M612.3 899.7h0M555.3 909.6h0M577.7 910.7h0M559.7 915.7h0M575.6 921.8h0M582.7 924.4h0M589.0 927.0h0M589.3 933.6h0M567.2 940.2h0M581.5 945.0h0M560.4 951.8h0M614.7 954.3h0M580.7 961.1h0M573.2 964.7h0M558.9 966.2h0M584.5 976.6h0M572.2 985.6h0M601.4 987.7h0M564.0 993.7h0M569.0 994.1h0M556.7 1007.1h0M581.6 1013.3h0M615.8 1019.1h0M565.1 1024.3h0M555.1 1027.9h0M637.2 667.5h0M706.7 647.3h0M637.2 650.8h0M707.5 648.5h0M637.5 680.0h0M707.2 646.6h0M636.8 652.4h0M707.3 677.8h0M637.2 660.5h0M706.9 646.7h0M637.0 658.3h0M707.6 652.4h0M637.3 665.4h0M707.4 642.1h0M637.3 645.7h0M707.7 681.3h0M637.5 680.1h0M707.3 672.8h0M637.6 666.5h0M707.7 651.0h0M637.0 658.2h0M707.0 647.1h0M636.9 639.9h0M707.2 644.1h0M636.9 639.7h0M706.7 648.9h0M637.2 664.3h0M707.7 662.9h0M637.6 649.4h0M706.9 670.8h0M637.3 654.6h0M707.1 668.3h0M637.1 671.3h0M706.8 672.0h0M637.1 645.3h0M707.5 651.9h0M637.3 641.5h0M707.3 645.4h0M637.2 647.7h0M706.7 641.7h0M637.0 671.8h0M706.7 656.1h0M637.7 677.6h0M707.0 653.4h0M650.3 681.0h0M640.9 680.8h0M652.9 678.0h0M680.4 679.2h0M640.6 677.8h0M692.8 679.2h0M692.0 680.6h0M636.8 679.0h0M679.3 678.4h0M646.0 682.9h0M659.7 680.9h0M668.0 682.8h0M652.7 677.1h0M682.8 681.1h0M696.0 677.6h0M649.1 679.7h0M656.4 677.7h0M646.6 677.2h0M667.0 677.7h0M638.6 677.5h0M686.6 680.8h0M661.1 681.7h0M639.8 679.4h0M702.9 677.2h0M647.2 679.8h0M661.5 677.3h0M696.3 681.6h0M678.3 679.4h0M676.2 679.9h0M677.1 678.8h0M694.5 680.0h0M653.4 680.4h0M672.0 684.2h0M675.3 685.7h0M649.6 686.4h0M665.7 684.6h0M673.5 685.9h0M648.8 683.6h0M671.3 683.0h0M667.5 683.4h0M650.7 684.4h0M700.3 685.3h0M656.5 685.5h0M636.7 688.7h0M686.5 690.1h0M705.3 687.0h0M673.1 688.4h0M668.2 690.2h0M667.7 689.1h0M690.6 690.4h0M678.1 689.0h0M643.8 688.4h0M650.1 690.0h0M684.3 687.4h0M698.8 694.3h0M663.4 692.4h0M674.3 692.6h0M705.9 694.3h0M700.1 694.9h0M644.1 694.7h0M662.3 691.9h0M679.3 692.5h0M651.5 694.8h0M649.6 691.2h0M695.2 698.1h0M668.9 696.5h0M646.5 698.1h0M690.5 695.8h0M684.2 698.5h0M662.1 695.8h0M689.5 697.4h0M664.7 694.9h0M659.6 697.7h0M670.8 702.0h0M661.3 699.4h0M684.7 701.6h0M679.9 702.5h0M663.0 700.9h0M668.8 702.3h0M660.1 699.9h0M662.8 702.2h0M689.4 699.6h0M706.8 703.9h0M692.7 705.0h0M680.4 703.6h0M636.7 705.5h0M660.2 705.4h0M697.5 708.8h0M688.2 709.2h0M703.6 709.6h0M659.5 713.6h0M643.1 710.6h0M698.2 712.1h0M660.1 714.2h0M647.3 717.4h0M694.1 715.6h0M639.2 721.6h0M656.7 718.7h0M671.2 719.8h0M687.7 722.6h0M693.2 723.2h0M665.0 725.5h0M688.4 729.1h0M666.7 727.3h0M673.8 729.3h0M686.5 731.8h0M703.7 732.7h0M702.2 731.6h0M654.3 734.7h0M658.9 734.8h0M681.1 736.2h0M690.0 741.8h0M674.1 740.4h0M670.5 743.3h0M658.6 743.2h0M668.2 748.1h0M684.2 749.8h0M707.1 750.8h0M678.0 754.7h0M653.4 760.8h0M693.9 762.8h0M658.4 768.7h0M677.7 770.6h0M674.4 777.3h0M682.8 780.9h0M656.5 787.9h0M640.1 789.5h0M682.5 795.7h0M639.9 807.6h0M679.7 809.6h0M653.9 815.6h0M672.4 823.4h0M655.7 831.5h0M671.9 835.4h0M705.8 838.3h0M665.5 844.5h0M648.9 849.8h0M692.8 864.4h0M694.8 869.9h0M664.6 878.1h0M678.3 897.1h0M669.6 911.2h0M702.6 913.8h0M685.7 919.9h0M645.3 923.7h0M695.2 925.0h0M643.0 953.4h0M684.6 959.7h0M662.4 968.3h0M704.5 978.6h0M675.1 987.9h0M701.7 997.1h0" stroke="#4C9219" stroke-width="7.0" stroke-linecap="round" fill="none"/>
<circle cx="99.5" cy="100.0" r="5.6" fill="#7E3B8C"/>
<circle cx="216.5" cy="97.9" r="5.6" fill="#7E3B8C"/>
<circle cx="304.6" cy="92.3" r="5.6" fill="#7E3B8C"/>
<circle cx="371.6" cy="155.8" r="5.6" fill="#7E3B8C"/>
<circle cx="506.0" cy="111.2" r="5.6" fill="#7E3B8C"/>
<circle cx="590.7" cy="119.7" r="5.6" fill="#7E3B8C"/>
<circle cx="702.6" cy="157.6" r="5.6" fill="#7E3B8C"/>
<circle cx="103.6" cy="1163.8" r="5.6" fill="#4C9219"/>
<circle cx="224.0" cy="1146.4" r="5.6" fill="#4C9219"/>
<circle cx="286.6" cy="1115.4" r="5.6" fill="#4C9219"/>
<circle cx="423.9" cy="1116.6" r="5.6" fill="#4C9219"/>
<circle cx="508.2" cy="1073.1" r="5.6" fill="#4C9219"/>
<circle cx="558.3" cy="1037.3" r="5.6" fill="#4C9219"/>
<circle cx="697.5" cy="1020.9" r="5.6" fill="#4C9219"/>
<rect x="95.9" y="558.3" width="72.3" height="74.8" fill="#7E3B8C" stroke="#fff" stroke-width="1.3"/>
<text x="132.6" y="619.0" font-size="45" text-anchor="middle" fill="#fff" textLength="23.9" lengthAdjust="spacingAndGlyphs">1</text>
<rect x="186.0" y="558.3" width="72.3" height="74.8" fill="#14A478" stroke="#fff" stroke-width="1.3"/>
<text x="223.7" y="619.0" font-size="45" text-anchor="middle" fill="#fff" textLength="23.9" lengthAdjust="spacingAndGlyphs">2</text>
<rect x="275.8" y="558.3" width="72.3" height="74.8" fill="#3967AB" stroke="#fff" stroke-width="1.3"/>
<text x="313.4" y="619.0" font-size="45" text-anchor="middle" fill="#fff" textLength="23.9" lengthAdjust="spacingAndGlyphs">3</text>
<rect x="365.7" y="558.3" width="72.3" height="74.8" fill="#F2B705" stroke="#fff" stroke-width="1.3"/>
<text x="403.3" y="619.0" font-size="45" text-anchor="middle" fill="#fff" textLength="23.9" lengthAdjust="spacingAndGlyphs">4</text>
<rect x="456.0" y="558.3" width="72.3" height="74.8" fill="#E43D72" stroke="#fff" stroke-width="1.3"/>
<text x="493.6" y="619.0" font-size="45" text-anchor="middle" fill="#fff" textLength="23.9" lengthAdjust="spacingAndGlyphs">5</text>
<rect x="545.6" y="558.3" width="72.3" height="74.8" fill="#80BA5A" stroke="#fff" stroke-width="1.3"/>
<text x="583.2" y="619.0" font-size="45" text-anchor="middle" fill="#fff" textLength="23.9" lengthAdjust="spacingAndGlyphs">6</text>
<rect x="636.0" y="558.3" width="72.3" height="74.8" fill="#E58015" stroke="#fff" stroke-width="1.3"/>
<text x="673.6" y="619.0" font-size="45" text-anchor="middle" fill="#fff" textLength="23.9" lengthAdjust="spacingAndGlyphs">7</text>
<line x1="88" y1="63" x2="88" y2="1236.5" stroke="#000" stroke-width="1.9"/>
<line x1="82" y1="184.6" x2="88" y2="184.6" stroke="#000" stroke-width="1.9"/>
<text x="79.0" y="193.9" font-size="27.5" text-anchor="end" fill="#000" textLength="28.3" lengthAdjust="spacingAndGlyphs">10</text>
<line x1="82" y1="391.1" x2="88" y2="391.1" stroke="#000" stroke-width="1.9"/>
<text x="79.0" y="400.4" font-size="27.5" text-anchor="end" fill="#000" textLength="14.1" lengthAdjust="spacingAndGlyphs">5</text>
<line x1="82" y1="597.6" x2="88" y2="597.6" stroke="#000" stroke-width="1.9"/>
<text x="79.0" y="606.9" font-size="27.5" text-anchor="end" fill="#000" textLength="14.1" lengthAdjust="spacingAndGlyphs">0</text>
<line x1="82" y1="804.1" x2="88" y2="804.1" stroke="#000" stroke-width="1.9"/>
<text x="79.0" y="813.4" font-size="27.5" text-anchor="end" fill="#000" textLength="22.6" lengthAdjust="spacingAndGlyphs">-5</text>
<line x1="82" y1="1010.6" x2="88" y2="1010.6" stroke="#000" stroke-width="1.9"/>
<text x="79.0" y="1019.9" font-size="27.5" text-anchor="end" fill="#000" textLength="36.8" lengthAdjust="spacingAndGlyphs">-10</text>
<line x1="82" y1="1217.1" x2="88" y2="1217.1" stroke="#000" stroke-width="1.9"/>
<text x="79.0" y="1226.4" font-size="27.5" text-anchor="end" fill="#000" textLength="36.8" lengthAdjust="spacingAndGlyphs">-15</text>
<text transform="translate(24.2 644.8) rotate(-90)" font-size="29.8" font-weight="bold" fill="#333" text-anchor="middle" textLength="107" lengthAdjust="spacingAndGlyphs">log2FC</text>
<text x="94.2" y="72.4" font-size="27" font-weight="bold" fill="#000">1025</text>
<text x="185.6" y="69.8" font-size="27" font-weight="bold" fill="#000">2459</text>
<text x="274.5" y="69.5" font-size="27" font-weight="bold" fill="#000">2527</text>
<text x="372.8" y="131.2" font-size="27" font-weight="bold" fill="#000">491</text>
<text x="465.2" y="87.7" font-size="27" font-weight="bold" fill="#000">273</text>
<text x="544.0" y="93.8" font-size="27" font-weight="bold" fill="#000">1855</text>
<text x="643.6" y="131.2" font-size="27" font-weight="bold" fill="#000">278</text>
<text x="95.6" y="1218.4" font-size="27" font-weight="bold" fill="#000">2230</text>
<text x="185.5" y="1196.8" font-size="27" font-weight="bold" fill="#000">2407</text>
<text x="275.1" y="1166.0" font-size="27" font-weight="bold" fill="#000">1510</text>
<text x="364.8" y="1168.8" font-size="27" font-weight="bold" fill="#000">1300</text>
<text x="465.6" y="1125.5" font-size="27" font-weight="bold" fill="#000">335</text>
<text x="547.7" y="1086.0" font-size="27" font-weight="bold" fill="#000">1128</text>
<text x="640.8" y="1070.3" font-size="27" font-weight="bold" fill="#000">339</text>
<ellipse cx="771" cy="467.1" rx="11" ry="12.4" fill="#7E3B8C"/>
<ellipse cx="771" cy="506.6" rx="11" ry="12.4" fill="#4C9219"/>
<text x="789.7" y="477.3" font-size="25.5" fill="#333" stroke="#333" stroke-width="0.95">up</text>
<text x="789.7" y="517.1" font-size="25.5" fill="#333" stroke="#333" stroke-width="0.95">down</text>
<ellipse cx="770.8" cy="588.6" rx="12.9" ry="14.7" fill="#7E3B8C"/>
<text x="770.8" y="596.8" font-size="24" style='font-family:"Liberation Serif", "Times New Roman", serif' fill="#fff" text-anchor="middle" textLength="10" lengthAdjust="spacingAndGlyphs">1</text>
<text x="789.6" y="599.1" font-size="24.3" fill="#333" textLength="186.5" lengthAdjust="spacingAndGlyphs" stroke="#333" stroke-width="0.95">AH-GR vs HB-GR</text>
<ellipse cx="770.8" cy="627.6" rx="12.9" ry="14.7" fill="#14A478"/>
<text x="770.8" y="635.8" font-size="24" style='font-family:"Liberation Serif", "Times New Roman", serif' fill="#fff" text-anchor="middle" textLength="10" lengthAdjust="spacingAndGlyphs">2</text>
<text x="789.6" y="638.1" font-size="24.3" fill="#333" textLength="185.0" lengthAdjust="spacingAndGlyphs" stroke="#333" stroke-width="0.95">AH-GR vs GZ-GR</text>
<ellipse cx="770.8" cy="666.6" rx="12.9" ry="14.7" fill="#3967AB"/>
<text x="770.8" y="674.8" font-size="24" style='font-family:"Liberation Serif", "Times New Roman", serif' fill="#fff" text-anchor="middle" textLength="10" lengthAdjust="spacingAndGlyphs">3</text>
<text x="789.6" y="677.1" font-size="24.3" fill="#333" textLength="185.0" lengthAdjust="spacingAndGlyphs" stroke="#333" stroke-width="0.95">HB-GR vs GZ-GR</text>
<ellipse cx="770.8" cy="705.6" rx="12.9" ry="14.7" fill="#F2B705"/>
<text x="770.8" y="713.8" font-size="24" style='font-family:"Liberation Serif", "Times New Roman", serif' fill="#fff" text-anchor="middle" textLength="10" lengthAdjust="spacingAndGlyphs">4</text>
<text x="789.6" y="716.1" font-size="24.3" fill="#333" textLength="279.5" lengthAdjust="spacingAndGlyphs" stroke="#333" stroke-width="0.95">AH-GR×GB vs HB-GR×GB</text>
<ellipse cx="770.8" cy="744.6" rx="12.9" ry="14.7" fill="#E43D72"/>
<text x="770.8" y="752.8" font-size="24" style='font-family:"Liberation Serif", "Times New Roman", serif' fill="#fff" text-anchor="middle" textLength="10" lengthAdjust="spacingAndGlyphs">5</text>
<text x="789.6" y="755.1" font-size="24.3" fill="#333" textLength="278.0" lengthAdjust="spacingAndGlyphs" stroke="#333" stroke-width="0.95">AH-GR×GB vs YN-GR×GB</text>
<ellipse cx="770.8" cy="783.6" rx="12.9" ry="14.7" fill="#80BA5A"/>
<text x="770.8" y="791.8" font-size="24" style='font-family:"Liberation Serif", "Times New Roman", serif' fill="#fff" text-anchor="middle" textLength="10" lengthAdjust="spacingAndGlyphs">6</text>
<text x="789.6" y="794.1" font-size="24.3" fill="#333" textLength="278.0" lengthAdjust="spacingAndGlyphs" stroke="#333" stroke-width="0.95">HB-GR×GB vs YN-GR×GB</text>
<ellipse cx="770.8" cy="822.6" rx="12.9" ry="14.7" fill="#E58015"/>
<text x="770.8" y="830.8" font-size="24" style='font-family:"Liberation Serif", "Times New Roman", serif' fill="#fff" text-anchor="middle" textLength="10" lengthAdjust="spacingAndGlyphs">7</text>
<text x="789.6" y="833.1" font-size="24.3" fill="#333" textLength="182.5" lengthAdjust="spacingAndGlyphs" stroke="#333" stroke-width="0.95">GZ-GB vs YN-GB</text>
<text x="-0.8" y="27.2" font-size="28.8" font-weight="bold" fill="#000" textLength="24.5" lengthAdjust="spacingAndGlyphs">A</text>
<defs>
<clipPath id="vbo"><ellipse cx="1336.8" cy="256.0" rx="145.0" ry="141.7" fill="#000"/></clipPath>
<clipPath id="vbp"><ellipse cx="1524.5" cy="255.8" rx="145.0" ry="141.7" fill="#000"/></clipPath>
</defs>
<ellipse cx="1336.8" cy="256.0" rx="145.0" ry="141.7" fill="#F2AB86"/>
<ellipse cx="1524.5" cy="255.8" rx="145.0" ry="141.7" fill="#A68BC4"/>
<ellipse cx="1430.5" cy="408.3" rx="145.0" ry="141.7" fill="#8DC0A1"/>
<g clip-path="url(#vbo)"><ellipse cx="1524.5" cy="255.8" rx="145.0" ry="141.7" fill="#A06384"/><ellipse cx="1430.5" cy="408.3" rx="145.0" ry="141.7" fill="#8A9664"/></g>
<g clip-path="url(#vbp)"><ellipse cx="1430.5" cy="408.3" rx="145.0" ry="141.7" fill="#628A86"/></g>
<g clip-path="url(#vbo)"><g clip-path="url(#vbp)"><ellipse cx="1430.5" cy="408.3" rx="145.0" ry="141.7" fill="#5E7262"/></g></g>
<text x="1285.0" y="223.0" font-size="25" font-weight="bold" text-anchor="middle" fill="#000">558</text>
<text x="1436.4" y="223.0" font-size="25" font-weight="bold" text-anchor="middle" fill="#000">1178</text>
<text x="1574.9" y="222.6" font-size="25" font-weight="bold" text-anchor="middle" fill="#000">1244</text>
<text x="1435.9" y="311.8" font-size="25" font-weight="bold" text-anchor="middle" fill="#000">682</text>
<text x="1345.5" y="363.8" font-size="25" font-weight="bold" text-anchor="middle" fill="#000">838</text>
<text x="1526.8" y="363.8" font-size="25" font-weight="bold" text-anchor="middle" fill="#000">1762</text>
<text x="1436.0" y="494.1" font-size="25" font-weight="bold" text-anchor="middle" fill="#000">755</text>
<text x="1290.1" y="99.5" font-size="24.7" font-weight="bold" text-anchor="middle" fill="#231815" letter-spacing="0.3">AH-GR vs HB-GR</text>
<text x="1582.3" y="100.8" font-size="24.7" font-weight="bold" text-anchor="middle" fill="#231815" letter-spacing="0.3">AH-GR vs GZ-GR</text>
<text x="1438.8" y="581.0" font-size="24.7" font-weight="bold" text-anchor="middle" fill="#231815" letter-spacing="0.3">HB-GR vs GZ-GR</text>
<text x="1134.8" y="27.9" font-size="29.5" font-weight="bold" fill="#000" textLength="24.5" lengthAdjust="spacingAndGlyphs">B</text>
<defs>
<clipPath id="vco"><ellipse cx="1350.5" cy="887.9" rx="135.5" ry="137.7" fill="#000"/></clipPath>
<clipPath id="vcp"><ellipse cx="1526.1" cy="887.9" rx="135.5" ry="137.7" fill="#000"/></clipPath>
</defs>
<ellipse cx="1350.5" cy="887.9" rx="135.5" ry="137.7" fill="#F2AB86"/>
<ellipse cx="1526.1" cy="887.9" rx="135.5" ry="137.7" fill="#A68BC4"/>
<ellipse cx="1438.2" cy="1035.9" rx="135.5" ry="137.7" fill="#8DC0A1"/>
<g clip-path="url(#vco)"><ellipse cx="1526.1" cy="887.9" rx="135.5" ry="137.7" fill="#A06384"/><ellipse cx="1438.2" cy="1035.9" rx="135.5" ry="137.7" fill="#8A9664"/></g>
<g clip-path="url(#vcp)"><ellipse cx="1438.2" cy="1035.9" rx="135.5" ry="137.7" fill="#628A86"/></g>
<g clip-path="url(#vco)"><g clip-path="url(#vcp)"><ellipse cx="1438.2" cy="1035.9" rx="135.5" ry="137.7" fill="#5E7262"/></g></g>
<text x="1302.2" y="855.5" font-size="24" font-weight="bold" text-anchor="middle" fill="#000">307</text>
<text x="1442.6" y="855.5" font-size="24" font-weight="bold" text-anchor="middle" fill="#000">56</text>
<text x="1573.5" y="855.5" font-size="24" font-weight="bold" text-anchor="middle" fill="#000">138</text>
<text x="1442.7" y="941.6" font-size="24" font-weight="bold" text-anchor="middle" fill="#000">93</text>
<text x="1360.3" y="993.6" font-size="24" font-weight="bold" text-anchor="middle" fill="#000">1335</text>
<text x="1527.2" y="993.6" font-size="24" font-weight="bold" text-anchor="middle" fill="#000">321</text>
<text x="1444.3" y="1119.9" font-size="24" font-weight="bold" text-anchor="middle" fill="#000">1234</text>
<text x="1277.5" y="735.3" font-size="24.2" text-anchor="middle" fill="#231815" stroke="#231815" stroke-width="0.8">AH-GR×GB vs HB-GR×GB</text>
<text x="1610.8" y="735.3" font-size="24.2" text-anchor="middle" fill="#231815" stroke="#231815" stroke-width="0.8">AH-GR×GB vs YN-GR×GB</text>
<text x="1443.1" y="1207.0" font-size="24.2" text-anchor="middle" fill="#231815" stroke="#231815" stroke-width="0.8">HB-GR×GB vs YN-GR×GB</text>
<text x="1135.0" y="639.2" font-size="30.5" font-weight="bold" fill="#000" textLength="25.5" lengthAdjust="spacingAndGlyphs">C</text>
<rect x="526.8" y="1339.8" width="287.20000000000005" height="985.6000000000001" fill="none" stroke="#333" stroke-width="1.6"/>
<line x1="519.0" y1="1375.2" x2="526.8" y2="1375.2" stroke="#333" stroke-width="1.5"/>
<text x="517.6" y="1382.8" font-size="21.6" font-weight="bold" text-anchor="end" fill="#333333">Zeatin biosynthesis</text>
<circle cx="561.8" cy="1375.2" r="7.9" fill="#EE0000"/>
<circle cx="780.2" cy="1375.2" r="7.5" fill="#EF2A00"/>
<line x1="519.0" y1="1402.9" x2="526.8" y2="1402.9" stroke="#333" stroke-width="1.5"/>
<text x="517.6" y="1410.5" font-size="21.3" font-weight="bold" text-anchor="end" fill="#333333">Ubiquinone and other terpenoid-quinone...</text>
<circle cx="561.8" cy="1402.9" r="7.8" fill="#7E3F92"/>
<line x1="519.0" y1="1430.6" x2="526.8" y2="1430.6" stroke="#333" stroke-width="1.5"/>
<text x="517.6" y="1438.2" font-size="21.6" font-weight="bold" text-anchor="end" fill="#333333">Tyrosine metabolism</text>
<circle cx="561.8" cy="1430.6" r="7.8" fill="#7E3F92"/>
<line x1="519.0" y1="1458.2" x2="526.8" y2="1458.2" stroke="#333" stroke-width="1.5"/>
<text x="517.6" y="1465.8" font-size="21.15" font-weight="bold" text-anchor="end" fill="#E60012">Starch and sucrose metabolism</text>
<circle cx="561.8" cy="1458.2" r="8.4" fill="#EF2A00"/>
<circle cx="780.2" cy="1458.2" r="8.4" fill="#23888F"/>
<line x1="519.0" y1="1485.9" x2="526.8" y2="1485.9" stroke="#333" stroke-width="1.5"/>
<text x="517.6" y="1493.5" font-size="21.6" font-weight="bold" text-anchor="end" fill="#333333">Selenocompound metabolism</text>
<circle cx="561.8" cy="1485.9" r="7.8" fill="#F07000"/>
<line x1="519.0" y1="1513.6" x2="526.8" y2="1513.6" stroke="#333" stroke-width="1.5"/>
<text x="517.6" y="1521.2" font-size="21.6" font-weight="bold" text-anchor="end" fill="#333333">Protein processing in endoplasmic reticulum</text>
<circle cx="670.6" cy="1513.6" r="8.4" fill="#7E3F92"/>
<line x1="519.0" y1="1541.3" x2="526.8" y2="1541.3" stroke="#333" stroke-width="1.5"/>
<text x="517.6" y="1548.9" font-size="21.6" font-weight="bold" text-anchor="end" fill="#333333">Plant-pathogen interaction</text>
<circle cx="561.8" cy="1541.3" r="8.6" fill="#EE0000"/>
<circle cx="670.6" cy="1541.3" r="8.8" fill="#EE0000"/>
<circle cx="780.2" cy="1541.3" r="9.0" fill="#EE0000"/>
<line x1="519.0" y1="1569.0" x2="526.8" y2="1569.0" stroke="#333" stroke-width="1.5"/>
<text x="517.6" y="1576.6" font-size="21.6" font-weight="bold" text-anchor="end" fill="#333333">Plant hormone signal transduction</text>
<circle cx="561.8" cy="1569.0" r="8.6" fill="#EE0000"/>
<circle cx="670.6" cy="1569.0" r="8.6" fill="#F29200"/>
<circle cx="780.2" cy="1569.0" r="9.0" fill="#EE0000"/>
<line x1="519.0" y1="1596.6" x2="526.8" y2="1596.6" stroke="#333" stroke-width="1.5"/>
<text x="517.6" y="1604.2" font-size="21.6" font-weight="bold" text-anchor="end" fill="#E60012">Phenylpropanoid biosynthesis</text>
<circle cx="561.8" cy="1596.6" r="7.9" fill="#EE0000"/>
<circle cx="670.6" cy="1596.6" r="8.1" fill="#EE1100"/>
<circle cx="780.2" cy="1596.6" r="8.1" fill="#EE0000"/>
<line x1="519.0" y1="1624.3" x2="526.8" y2="1624.3" stroke="#333" stroke-width="1.5"/>
<text x="517.6" y="1631.9" font-size="21.6" font-weight="bold" text-anchor="end" fill="#E60012">Phenylalanine, tyrosine and tryptophan...</text>
<circle cx="780.2" cy="1624.3" r="7.5" fill="#66508F"/>
<line x1="519.0" y1="1652.0" x2="526.8" y2="1652.0" stroke="#333" stroke-width="1.5"/>
<text x="517.6" y="1659.6" font-size="21.6" font-weight="bold" text-anchor="end" fill="#333333">Pentose phosphate pathway</text>
<circle cx="780.2" cy="1652.0" r="7.5" fill="#7E3F92"/>
<line x1="519.0" y1="1679.7" x2="526.8" y2="1679.7" stroke="#333" stroke-width="1.5"/>
<text x="517.6" y="1687.3" font-size="21.6" font-weight="bold" text-anchor="end" fill="#333333">Monoterpenoid biosynthesis</text>
<circle cx="561.8" cy="1679.7" r="7.8" fill="#7E3F92"/>
<circle cx="670.6" cy="1679.7" r="7.8" fill="#EE2200"/>
<circle cx="780.2" cy="1679.7" r="7.8" fill="#D4AA22"/>
<line x1="519.0" y1="1707.4" x2="526.8" y2="1707.4" stroke="#333" stroke-width="1.5"/>
<text x="517.6" y="1715.0" font-size="21.6" font-weight="bold" text-anchor="end" fill="#333333">Metabolic pathways</text>
<circle cx="561.8" cy="1707.4" r="13.4" fill="#EE0000"/>
<circle cx="670.6" cy="1707.4" r="14.8" fill="#EE0000"/>
<circle cx="780.2" cy="1707.4" r="14.1" fill="#EE0000"/>
<line x1="519.0" y1="1735.0" x2="526.8" y2="1735.0" stroke="#333" stroke-width="1.5"/>
<text x="517.6" y="1742.6" font-size="21.6" font-weight="bold" text-anchor="end" fill="#333333">MAPK signaling pathway - plant</text>
<circle cx="561.8" cy="1735.0" r="8.4" fill="#EE0000"/>
<circle cx="670.6" cy="1735.0" r="8.1" fill="#7E3F92"/>
<circle cx="780.2" cy="1735.0" r="8.1" fill="#EE2200"/>
<line x1="519.0" y1="1762.7" x2="526.8" y2="1762.7" stroke="#333" stroke-width="1.5"/>
<text x="517.6" y="1770.3" font-size="21.6" font-weight="bold" text-anchor="end" fill="#333333"><tspan style='font-family:"Liberation Serif",serif'>I</tspan>soflavonoid biosynthesis</text>
<circle cx="561.8" cy="1762.7" r="7.8" fill="#228A91"/>
<circle cx="670.6" cy="1762.7" r="7.8" fill="#778877"/>
<line x1="519.0" y1="1790.4" x2="526.8" y2="1790.4" stroke="#333" stroke-width="1.5"/>
<text x="517.6" y="1798.0" font-size="21.6" font-weight="bold" text-anchor="end" fill="#333333">Indole alkaloid biosynthesis</text>
<circle cx="780.2" cy="1790.4" r="7.5" fill="#EE2200"/>
<line x1="519.0" y1="1818.1" x2="526.8" y2="1818.1" stroke="#333" stroke-width="1.5"/>
<text x="517.6" y="1825.7" font-size="21.6" font-weight="bold" text-anchor="end" fill="#333333">Glycosphingolipid biosynthesis - ganglio series</text>
<circle cx="670.6" cy="1818.1" r="7.8" fill="#7E3F92"/>
<line x1="519.0" y1="1845.8" x2="526.8" y2="1845.8" stroke="#333" stroke-width="1.5"/>
<text x="517.6" y="1853.4" font-size="21.6" font-weight="bold" text-anchor="end" fill="#E60012">Glycolysis / Gluconeogenesis</text>
<circle cx="670.6" cy="1845.8" r="7.8" fill="#7E3F92"/>
<line x1="519.0" y1="1873.4" x2="526.8" y2="1873.4" stroke="#333" stroke-width="1.5"/>
<text x="517.6" y="1881.0" font-size="21.6" font-weight="bold" text-anchor="end" fill="#333333">Glycerolipid metabolism</text>
<circle cx="561.8" cy="1873.4" r="7.8" fill="#F07000"/>
<line x1="519.0" y1="1901.1" x2="526.8" y2="1901.1" stroke="#333" stroke-width="1.5"/>
<text x="517.6" y="1908.7" font-size="21.6" font-weight="bold" text-anchor="end" fill="#E60012">Galactose metabolism</text>
<circle cx="670.6" cy="1901.1" r="7.8" fill="#8F8A5A"/>
<circle cx="780.2" cy="1901.1" r="7.8" fill="#1E9488"/>
<line x1="519.0" y1="1928.8" x2="526.8" y2="1928.8" stroke="#333" stroke-width="1.5"/>
<text x="517.6" y="1936.4" font-size="21.6" font-weight="bold" text-anchor="end" fill="#333333">Flavonoid biosynthesis</text>
<circle cx="561.8" cy="1928.8" r="7.8" fill="#EE0000"/>
<circle cx="670.6" cy="1928.8" r="7.5" fill="#F29900"/>
<circle cx="780.2" cy="1928.8" r="7.8" fill="#EE3A00"/>
<line x1="519.0" y1="1956.5" x2="526.8" y2="1956.5" stroke="#333" stroke-width="1.5"/>
<text x="517.6" y="1964.1" font-size="21.6" font-weight="bold" text-anchor="end" fill="#333333">Flavone and flavonol biosynthesis</text>
<circle cx="670.6" cy="1956.5" r="7.8" fill="#4268A5"/>
<line x1="519.0" y1="1984.2" x2="526.8" y2="1984.2" stroke="#333" stroke-width="1.5"/>
<text x="517.6" y="1991.8" font-size="21.6" font-weight="bold" text-anchor="end" fill="#333333">Fatty acid elongation</text>
<circle cx="561.8" cy="1984.2" r="7.8" fill="#7E3F92"/>
<circle cx="670.6" cy="1984.2" r="7.8" fill="#7E3F92"/>
<line x1="519.0" y1="2011.8" x2="526.8" y2="2011.8" stroke="#333" stroke-width="1.5"/>
<text x="517.6" y="2019.4" font-size="21.6" font-weight="bold" text-anchor="end" fill="#333333">Fatty acid degradation</text>
<circle cx="670.6" cy="2011.8" r="7.8" fill="#3574A8"/>
<line x1="519.0" y1="2039.5" x2="526.8" y2="2039.5" stroke="#333" stroke-width="1.5"/>
<text x="517.6" y="2047.1" font-size="21.6" font-weight="bold" text-anchor="end" fill="#333333">Cutin, suberine and wax biosynthesis</text>
<circle cx="561.8" cy="2039.5" r="7.8" fill="#7E3F92"/>
<line x1="519.0" y1="2067.2" x2="526.8" y2="2067.2" stroke="#333" stroke-width="1.5"/>
<text x="517.6" y="2074.8" font-size="21.6" font-weight="bold" text-anchor="end" fill="#333333">Circadian rhythm - plant</text>
<circle cx="780.2" cy="2067.2" r="7.8" fill="#1E9488"/>
<line x1="519.0" y1="2094.9" x2="526.8" y2="2094.9" stroke="#333" stroke-width="1.5"/>
<text x="517.6" y="2102.5" font-size="21.6" font-weight="bold" text-anchor="end" fill="#333333">Carotenoid biosynthesis</text>
<circle cx="670.6" cy="2094.9" r="7.8" fill="#F2A500"/>
<line x1="519.0" y1="2122.6" x2="526.8" y2="2122.6" stroke="#333" stroke-width="1.5"/>
<text x="517.6" y="2130.2" font-size="21.6" font-weight="bold" text-anchor="end" fill="#333333">Brassinosteroid biosynthesis</text>
<circle cx="561.8" cy="2122.6" r="7.8" fill="#EE6A00"/>
<circle cx="670.6" cy="2122.6" r="7.8" fill="#F2B000"/>
<circle cx="780.2" cy="2122.6" r="7.8" fill="#8A8A65"/>
<line x1="519.0" y1="2150.2" x2="526.8" y2="2150.2" stroke="#333" stroke-width="1.5"/>
<text x="517.6" y="2157.8" font-size="21.6" font-weight="bold" text-anchor="end" fill="#333333">Biosynthesis of secondary metabolites</text>
<circle cx="561.8" cy="2150.2" r="11.5" fill="#EE0000"/>
<circle cx="670.6" cy="2150.2" r="12.3" fill="#EE0000"/>
<circle cx="780.2" cy="2150.2" r="11.9" fill="#EE0000"/>
<line x1="519.0" y1="2177.9" x2="526.8" y2="2177.9" stroke="#333" stroke-width="1.5"/>
<text x="517.6" y="2185.5" font-size="21.6" font-weight="bold" text-anchor="end" fill="#333333">Biosynthesis of nucleotide sugars</text>
<circle cx="780.2" cy="2177.9" r="7.8" fill="#7E3F92"/>
<line x1="519.0" y1="2205.6" x2="526.8" y2="2205.6" stroke="#333" stroke-width="1.5"/>
<text x="517.6" y="2213.2" font-size="21.6" font-weight="bold" text-anchor="end" fill="#333333">Biosynthesis of cofactors</text>
<circle cx="670.6" cy="2205.6" r="8.4" fill="#7E3F92"/>
<circle cx="780.2" cy="2205.6" r="8.4" fill="#7E3F92"/>
<line x1="519.0" y1="2233.3" x2="526.8" y2="2233.3" stroke="#333" stroke-width="1.5"/>
<text x="517.6" y="2240.9" font-size="21.6" font-weight="bold" text-anchor="end" fill="#333333">Biosynthesis of amino acids</text>
<circle cx="780.2" cy="2233.3" r="8.1" fill="#EE1100"/>
<line x1="519.0" y1="2261.0" x2="526.8" y2="2261.0" stroke="#333" stroke-width="1.5"/>
<text x="517.6" y="2268.6" font-size="21.6" font-weight="bold" text-anchor="end" fill="#333333">Ascorbate and aldarate metabolism</text>
<circle cx="561.8" cy="2261.0" r="7.8" fill="#7E3F92"/>
<circle cx="670.6" cy="2261.0" r="7.8" fill="#7E3F92"/>
<line x1="519.0" y1="2288.6" x2="526.8" y2="2288.6" stroke="#333" stroke-width="1.5"/>
<text x="517.6" y="2296.2" font-size="21.6" font-weight="bold" text-anchor="end" fill="#333333">Amino sugar and nucleotide sugar metabolism</text>
<circle cx="780.2" cy="2288.6" r="7.8" fill="#1E9488"/>
<line x1="565.0" y1="2325.4" x2="565.0" y2="2333.4" stroke="#333" stroke-width="1.5"/>
<text transform="translate(573.8 2347.2) rotate(-47.2)" font-size="25" font-weight="bold" fill="#333333" text-anchor="end">AH-GR vs HB-GR</text>
<line x1="673.7" y1="2325.4" x2="673.7" y2="2333.4" stroke="#333" stroke-width="1.5"/>
<text transform="translate(681.8 2348.3) rotate(-47.2)" font-size="25" font-weight="bold" fill="#333333" text-anchor="end">AH-GR vs GZ-GR</text>
<line x1="783.0" y1="2325.4" x2="783.0" y2="2333.4" stroke="#333" stroke-width="1.5"/>
<text transform="translate(794.9 2350.6) rotate(-47.2)" font-size="25" font-weight="bold" fill="#333333" text-anchor="end">HB-GR vs GZ-GR</text>
<text x="-1.8" y="1308.8" font-size="29.8" font-weight="bold" fill="#000" textLength="26.5" lengthAdjust="spacingAndGlyphs">D</text>
<rect x="1337.6" y="1336.9" width="282.3000000000002" height="908.0999999999999" fill="none" stroke="#333" stroke-width="1.6"/>
<line x1="1329.6" y1="1370.1" x2="1337.6" y2="1370.1" stroke="#333" stroke-width="1.5"/>
<text x="1327.5" y="1377.7" font-size="21.3" font-weight="bold" text-anchor="end" fill="#333333">Zeatin biosynthesis</text>
<circle cx="1371.2" cy="1370.1" r="7.8" fill="#EE0000"/>
<circle cx="1478.7" cy="1370.1" r="7.5" fill="#7E3F92"/>
<circle cx="1586.5" cy="1370.1" r="7.8" fill="#EE1800"/>
<line x1="1329.6" y1="1396.4" x2="1337.6" y2="1396.4" stroke="#333" stroke-width="1.5"/>
<text x="1327.5" y="1404.0" font-size="21.3" font-weight="bold" text-anchor="end" fill="#333333">Vitamin B6 metabolism</text>
<circle cx="1478.7" cy="1396.4" r="7.5" fill="#7E3F92"/>
<circle cx="1586.5" cy="1396.4" r="7.5" fill="#7E3F92"/>
<line x1="1329.6" y1="1422.6" x2="1337.6" y2="1422.6" stroke="#333" stroke-width="1.5"/>
<text x="1327.5" y="1430.2" font-size="21.3" font-weight="bold" text-anchor="end" fill="#333333">Ubiquinone and other terpenoid-quinone...</text>
<circle cx="1478.7" cy="1422.6" r="7.5" fill="#7E3F92"/>
<line x1="1329.6" y1="1448.9" x2="1337.6" y2="1448.9" stroke="#333" stroke-width="1.5"/>
<text x="1327.5" y="1456.5" font-size="21.3" font-weight="bold" text-anchor="end" fill="#333333">Tryptophan metabolism</text>
<circle cx="1371.2" cy="1448.9" r="7.8" fill="#A89540"/>
<line x1="1329.6" y1="1475.2" x2="1337.6" y2="1475.2" stroke="#333" stroke-width="1.5"/>
<text x="1327.5" y="1482.8" font-size="21.3" font-weight="bold" text-anchor="end" fill="#E60012">Starch and sucrose metabolism</text>
<circle cx="1371.2" cy="1475.2" r="8.1" fill="#EE0000"/>
<circle cx="1586.5" cy="1475.2" r="8.4" fill="#EE0000"/>
<line x1="1329.6" y1="1501.4" x2="1337.6" y2="1501.4" stroke="#333" stroke-width="1.5"/>
<text x="1327.5" y="1509.0" font-size="21.3" font-weight="bold" text-anchor="end" fill="#333333">Selenocompound metabolism</text>
<circle cx="1586.5" cy="1501.4" r="7.5" fill="#3566AA"/>
<line x1="1329.6" y1="1527.7" x2="1337.6" y2="1527.7" stroke="#333" stroke-width="1.5"/>
<text x="1327.5" y="1535.3" font-size="21.3" font-weight="bold" text-anchor="end" fill="#333333">RNA degradation</text>
<circle cx="1478.7" cy="1527.7" r="7.5" fill="#7E3F92"/>
<line x1="1329.6" y1="1554.0" x2="1337.6" y2="1554.0" stroke="#333" stroke-width="1.5"/>
<text x="1327.5" y="1561.6" font-size="21.3" font-weight="bold" text-anchor="end" fill="#333333">Plant-pathogen interaction</text>
<circle cx="1371.2" cy="1554.0" r="8.7" fill="#EE0000"/>
<circle cx="1478.7" cy="1554.0" r="7.5" fill="#7E3F92"/>
<circle cx="1586.5" cy="1554.0" r="9.0" fill="#EE0000"/>
<line x1="1329.6" y1="1580.3" x2="1337.6" y2="1580.3" stroke="#333" stroke-width="1.5"/>
<text x="1327.5" y="1587.9" font-size="21.3" font-weight="bold" text-anchor="end" fill="#333333">Plant hormone signal transduction</text>
<circle cx="1371.2" cy="1580.3" r="8.7" fill="#EE0000"/>
<circle cx="1478.7" cy="1580.3" r="7.5" fill="#7E3F92"/>
<circle cx="1586.5" cy="1580.3" r="9.0" fill="#EE0000"/>
<line x1="1329.6" y1="1606.5" x2="1337.6" y2="1606.5" stroke="#333" stroke-width="1.5"/>
<text x="1327.5" y="1614.1" font-size="21.3" font-weight="bold" text-anchor="end" fill="#333333">Phosphatidylinositol signaling system</text>
<circle cx="1478.7" cy="1606.5" r="7.5" fill="#7E3F92"/>
<line x1="1329.6" y1="1632.8" x2="1337.6" y2="1632.8" stroke="#333" stroke-width="1.5"/>
<text x="1327.5" y="1640.4" font-size="21.3" font-weight="bold" text-anchor="end" fill="#E60012">Phenylpropanoid biosynthesis</text>
<circle cx="1371.2" cy="1632.8" r="7.8" fill="#EE0000"/>
<circle cx="1478.7" cy="1632.8" r="7.5" fill="#7E3F92"/>
<circle cx="1586.5" cy="1632.8" r="7.8" fill="#EE0000"/>
<line x1="1329.6" y1="1659.1" x2="1337.6" y2="1659.1" stroke="#333" stroke-width="1.5"/>
<text x="1327.5" y="1666.7" font-size="21.3" font-weight="bold" text-anchor="end" fill="#E60012">Phenylalanine, tyrosine and tryptophan...</text>
<circle cx="1478.7" cy="1659.1" r="7.5" fill="#7E3F92"/>
<line x1="1329.6" y1="1685.3" x2="1337.6" y2="1685.3" stroke="#333" stroke-width="1.5"/>
<text x="1327.5" y="1692.9" font-size="21.3" font-weight="bold" text-anchor="end" fill="#E60012">Phenylalanine metabolism</text>
<circle cx="1371.2" cy="1685.3" r="7.8" fill="#EE5500"/>
<circle cx="1586.5" cy="1685.3" r="7.8" fill="#7E3F92"/>
<line x1="1329.6" y1="1711.6" x2="1337.6" y2="1711.6" stroke="#333" stroke-width="1.5"/>
<text x="1327.5" y="1719.2" font-size="21.3" font-weight="bold" text-anchor="end" fill="#333333">Pentose and glucuronate interconversions</text>
<circle cx="1586.5" cy="1711.6" r="7.8" fill="#7E3F92"/>
<line x1="1329.6" y1="1737.9" x2="1337.6" y2="1737.9" stroke="#333" stroke-width="1.5"/>
<text x="1327.5" y="1745.5" font-size="21.3" font-weight="bold" text-anchor="end" fill="#333333">Motor proteins</text>
<circle cx="1478.7" cy="1737.9" r="7.5" fill="#7E3F92"/>
<circle cx="1586.5" cy="1737.9" r="7.8" fill="#7E3F92"/>
<line x1="1329.6" y1="1764.1" x2="1337.6" y2="1764.1" stroke="#333" stroke-width="1.5"/>
<text x="1327.5" y="1771.7" font-size="21.3" font-weight="bold" text-anchor="end" fill="#333333">Monoterpenoid biosynthesis</text>
<circle cx="1371.2" cy="1764.1" r="7.8" fill="#F06000"/>
<circle cx="1586.5" cy="1764.1" r="7.8" fill="#EE3300"/>
<line x1="1329.6" y1="1790.4" x2="1337.6" y2="1790.4" stroke="#333" stroke-width="1.5"/>
<text x="1327.5" y="1798.0" font-size="21.3" font-weight="bold" text-anchor="end" fill="#333333">Metabolic pathways</text>
<circle cx="1371.2" cy="1790.4" r="12.3" fill="#EE0000"/>
<circle cx="1478.7" cy="1790.4" r="9.0" fill="#7E3F92"/>
<circle cx="1586.5" cy="1790.4" r="14.4" fill="#EE0000"/>
<line x1="1329.6" y1="1816.7" x2="1337.6" y2="1816.7" stroke="#333" stroke-width="1.5"/>
<text x="1327.5" y="1824.3" font-size="21.3" font-weight="bold" text-anchor="end" fill="#333333">MAPK signaling pathway - plant</text>
<circle cx="1371.2" cy="1816.7" r="8.4" fill="#EE0000"/>
<circle cx="1478.7" cy="1816.7" r="7.5" fill="#7E3F92"/>
<circle cx="1586.5" cy="1816.7" r="8.7" fill="#EE0000"/>
<line x1="1329.6" y1="1843.0" x2="1337.6" y2="1843.0" stroke="#333" stroke-width="1.5"/>
<text x="1327.5" y="1850.6" font-size="21.3" font-weight="bold" text-anchor="end" fill="#333333">Isoflavonoid biosynthesis</text>
<circle cx="1371.2" cy="1843.0" r="7.8" fill="#7E3F92"/>
<line x1="1329.6" y1="1869.2" x2="1337.6" y2="1869.2" stroke="#333" stroke-width="1.5"/>
<text x="1327.5" y="1876.8" font-size="21.3" font-weight="bold" text-anchor="end" fill="#333333">Indole alkaloid biosynthesis</text>
<circle cx="1478.7" cy="1869.2" r="7.5" fill="#7E3F92"/>
<circle cx="1586.5" cy="1869.2" r="7.5" fill="#7E3F92"/>
<line x1="1329.6" y1="1895.5" x2="1337.6" y2="1895.5" stroke="#333" stroke-width="1.5"/>
<text x="1327.5" y="1903.1" font-size="21.3" font-weight="bold" text-anchor="end" fill="#333333">Glycosphingolipid biosynthesis - ganglio series</text>
<circle cx="1586.5" cy="1895.5" r="7.8" fill="#EBB30A"/>
<line x1="1329.6" y1="1921.8" x2="1337.6" y2="1921.8" stroke="#333" stroke-width="1.5"/>
<text x="1327.5" y="1929.4" font-size="21.3" font-weight="bold" text-anchor="end" fill="#333333">Glycerolipid metabolism</text>
<circle cx="1371.2" cy="1921.8" r="7.8" fill="#7E3F92"/>
<line x1="1329.6" y1="1948.0" x2="1337.6" y2="1948.0" stroke="#333" stroke-width="1.5"/>
<text x="1327.5" y="1955.6" font-size="21.3" font-weight="bold" text-anchor="end" fill="#E60012">Galactose metabolism</text>
<circle cx="1586.5" cy="1948.0" r="7.8" fill="#7E3F92"/>
<line x1="1329.6" y1="1974.3" x2="1337.6" y2="1974.3" stroke="#333" stroke-width="1.5"/>
<text x="1327.5" y="1981.9" font-size="21.3" font-weight="bold" text-anchor="end" fill="#333333">Flavonoid biosynthesis</text>
<circle cx="1371.2" cy="1974.3" r="7.8" fill="#F06A00"/>
<circle cx="1586.5" cy="1974.3" r="7.8" fill="#EE4000"/>
<line x1="1329.6" y1="2000.6" x2="1337.6" y2="2000.6" stroke="#333" stroke-width="1.5"/>
<text x="1327.5" y="2008.2" font-size="21.3" font-weight="bold" text-anchor="end" fill="#333333">Flavone and flavonol biosynthesis</text>
<circle cx="1371.2" cy="2000.6" r="7.8" fill="#7E3F92"/>
<line x1="1329.6" y1="2026.8" x2="1337.6" y2="2026.8" stroke="#333" stroke-width="1.5"/>
<text x="1327.5" y="2034.4" font-size="21.3" font-weight="bold" text-anchor="end" fill="#333333">Cutin, suberine and wax biosynthesis</text>
<circle cx="1371.2" cy="2026.8" r="7.8" fill="#F04500"/>
<circle cx="1478.7" cy="2026.8" r="7.5" fill="#3A7F80"/>
<circle cx="1586.5" cy="2026.8" r="7.8" fill="#14A07A"/>
<line x1="1329.6" y1="2053.1" x2="1337.6" y2="2053.1" stroke="#333" stroke-width="1.5"/>
<text x="1327.5" y="2060.7" font-size="21.3" font-weight="bold" text-anchor="end" fill="#333333">Circadian rhythm - plant</text>
<circle cx="1371.2" cy="2053.1" r="7.8" fill="#446BA5"/>
<circle cx="1478.7" cy="2053.1" r="7.5" fill="#7E3F92"/>
<line x1="1329.6" y1="2079.4" x2="1337.6" y2="2079.4" stroke="#333" stroke-width="1.5"/>
<text x="1327.5" y="2087.0" font-size="21.3" font-weight="bold" text-anchor="end" fill="#333333">Carotenoid biosynthesis</text>
<circle cx="1478.7" cy="2079.4" r="7.5" fill="#EE1500"/>
<line x1="1329.6" y1="2105.7" x2="1337.6" y2="2105.7" stroke="#333" stroke-width="1.5"/>
<text x="1327.5" y="2113.3" font-size="21.3" font-weight="bold" text-anchor="end" fill="#333333">Brassinosteroid biosynthesis</text>
<circle cx="1371.2" cy="2105.7" r="7.5" fill="#7E3F92"/>
<circle cx="1478.7" cy="2105.7" r="7.5" fill="#EE2500"/>
<circle cx="1586.5" cy="2105.7" r="7.5" fill="#7E3F92"/>
<line x1="1329.6" y1="2131.9" x2="1337.6" y2="2131.9" stroke="#333" stroke-width="1.5"/>
<text x="1327.5" y="2139.5" font-size="21.3" font-weight="bold" text-anchor="end" fill="#333333">Biosynthesis of secondary metabolites</text>
<circle cx="1371.2" cy="2131.9" r="10.8" fill="#EE0000"/>
<circle cx="1478.7" cy="2131.9" r="8.2" fill="#7E3F92"/>
<circle cx="1586.5" cy="2131.9" r="11.7" fill="#EE0000"/>
<line x1="1329.6" y1="2158.2" x2="1337.6" y2="2158.2" stroke="#333" stroke-width="1.5"/>
<text x="1327.5" y="2165.8" font-size="21.3" font-weight="bold" text-anchor="end" fill="#333333">Betalain biosynthesis</text>
<circle cx="1478.7" cy="2158.2" r="7.5" fill="#7E3F92"/>
<line x1="1329.6" y1="2184.5" x2="1337.6" y2="2184.5" stroke="#333" stroke-width="1.5"/>
<text x="1327.5" y="2192.1" font-size="21.3" font-weight="bold" text-anchor="end" fill="#333333">Arginine and proline metabolism</text>
<circle cx="1371.2" cy="2184.5" r="7.5" fill="#7E3F92"/>
<line x1="1329.6" y1="2210.7" x2="1337.6" y2="2210.7" stroke="#333" stroke-width="1.5"/>
<text x="1327.5" y="2218.3" font-size="21.3" font-weight="bold" text-anchor="end" fill="#333333">Anthocyanin biosynthesis</text>
<circle cx="1371.2" cy="2210.7" r="7.5" fill="#7E3F92"/>
<circle cx="1478.7" cy="2210.7" r="7.5" fill="#7E3F92"/>
<line x1="1370.8" y1="2245.0" x2="1370.8" y2="2253.0" stroke="#333" stroke-width="1.5"/>
<text transform="translate(1382.0 2269.0) rotate(-44.5)" font-size="24.9" font-weight="bold" fill="#333333" text-anchor="end">AH-GR×GB vs HB-GR×GB</text>
<line x1="1478.9" y1="2245.0" x2="1478.9" y2="2253.0" stroke="#333" stroke-width="1.5"/>
<text transform="translate(1491.2 2267.2) rotate(-44.5)" font-size="24.9" font-weight="bold" fill="#333333" text-anchor="end">AH-GR×GB vs YN-GR×GB</text>
<line x1="1586.2" y1="2245.0" x2="1586.2" y2="2253.0" stroke="#333" stroke-width="1.5"/>
<text transform="translate(1602.6 2269.5) rotate(-44.5)" font-size="24.9" font-weight="bold" fill="#333333" text-anchor="end">HB-GR×GB vs YN-GR×GB</text>
<text x="891.6" y="1309.5" font-size="31.5" font-weight="bold" fill="#000" textLength="23" lengthAdjust="spacingAndGlyphs">E</text>
<text x="1638.0" y="1356.1" font-size="19" font-weight="bold" fill="#000" textLength="58.5" lengthAdjust="spacingAndGlyphs">Count</text>
<circle cx="1651.2" cy="1377.1" r="8.85" fill="#000"/>
<text x="1672.8" y="1383.4" font-size="18.5" font-weight="bold" fill="#000" textLength="33.5" lengthAdjust="spacingAndGlyphs">100</text>
<circle cx="1651.2" cy="1408.2" r="10.75" fill="#000"/>
<text x="1672.8" y="1414.5" font-size="18.5" font-weight="bold" fill="#000" textLength="33.5" lengthAdjust="spacingAndGlyphs">200</text>
<circle cx="1651.2" cy="1440.3" r="12.4" fill="#000"/>
<text x="1672.8" y="1446.6" font-size="18.5" font-weight="bold" fill="#000" textLength="33.5" lengthAdjust="spacingAndGlyphs">300</text>
<circle cx="1651.2" cy="1471.9" r="14.0" fill="#000"/>
<text x="1672.8" y="1478.2" font-size="18.5" font-weight="bold" fill="#000" textLength="33.5" lengthAdjust="spacingAndGlyphs">400</text>
<text x="1638.0" y="1531.8" font-size="19" font-weight="bold" fill="#000" textLength="65.5" lengthAdjust="spacingAndGlyphs">Qvalue</text>
<defs><linearGradient id="qg" x1="0" y1="1" x2="0" y2="0"><stop offset="0" stop-color="#EE0000"/><stop offset="0.25" stop-color="#F2B705"/><stop offset="0.5" stop-color="#3565AA"/><stop offset="0.75" stop-color="#15A374"/><stop offset="1" stop-color="#7E3F93"/></linearGradient></defs>
<rect x="1638" y="1549.4" width="21.6" height="140.1" fill="url(#qg)"/>
<line x1="1659.6" y1="1550.8" x2="1668" y2="1550.8" stroke="#111" stroke-width="1.5"/>
<text x="1672.4" y="1556.8" font-size="17.5" fill="#000">1</text>
<line x1="1659.6" y1="1585.5" x2="1668" y2="1585.5" stroke="#111" stroke-width="1.5"/>
<text x="1672.4" y="1591.5" font-size="17.5" font-weight="bold" fill="#000" textLength="37.6" lengthAdjust="spacingAndGlyphs">0.75</text>
<line x1="1659.6" y1="1620.3" x2="1668" y2="1620.3" stroke="#111" stroke-width="1.5"/>
<text x="1672.4" y="1626.3" font-size="17.5" font-weight="bold" fill="#000" textLength="26.9" lengthAdjust="spacingAndGlyphs">0.5</text>
<line x1="1659.6" y1="1655.0" x2="1668" y2="1655.0" stroke="#111" stroke-width="1.5"/>
<text x="1672.4" y="1661.0" font-size="17.5" font-weight="bold" fill="#000" textLength="37.6" lengthAdjust="spacingAndGlyphs">0.25</text>
<line x1="1659.6" y1="1689.8" x2="1668" y2="1689.8" stroke="#111" stroke-width="1.5"/>
<text x="1672.4" y="1695.8" font-size="17.5" font-weight="bold" fill="#000">0</text>
</svg>
</body></html>
